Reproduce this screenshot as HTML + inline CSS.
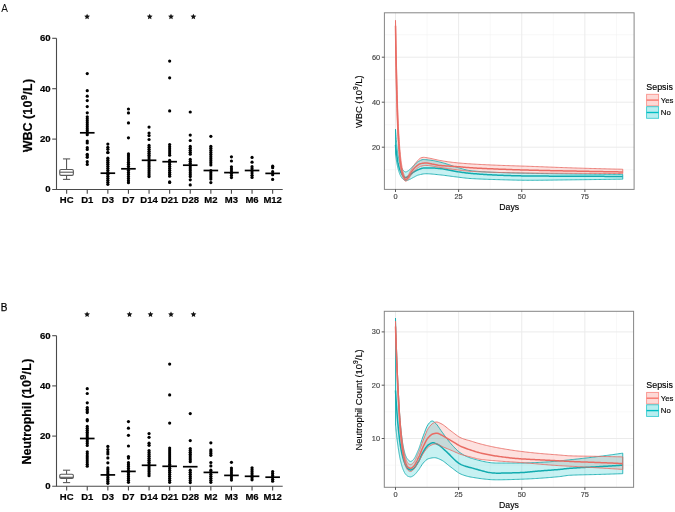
<!DOCTYPE html>
<html><head><meta charset="utf-8"><style>
html,body{margin:0;padding:0;background:#fff;}
body{width:675px;height:512px;overflow:hidden;}
svg{display:block;font-family:"Liberation Sans", sans-serif;will-change:transform;}
</style></head><body>
<svg width="675" height="512" viewBox="0 0 675 512">
<text x="1.2" y="11.7" font-size="10" fill="#111">A</text>
<text x="0.8" y="310.5" font-size="10" fill="#000" stroke="#000" stroke-width="0.25">B</text>
<line x1="56.5" y1="38.30" x2="56.5" y2="189.50" stroke="#4a4a4a" stroke-width="1.1"/>
<line x1="52.2" y1="189.50" x2="282.7" y2="189.50" stroke="#4a4a4a" stroke-width="1.1"/>
<line x1="52.2" y1="139.10" x2="56.5" y2="139.10" stroke="#4a4a4a" stroke-width="1.1"/>
<line x1="52.2" y1="88.70" x2="56.5" y2="88.70" stroke="#4a4a4a" stroke-width="1.1"/>
<line x1="52.2" y1="38.30" x2="56.5" y2="38.30" stroke="#4a4a4a" stroke-width="1.1"/>
<text x="50.6" y="192.40" text-anchor="end" font-size="9.6" font-weight="bold" fill="#000" stroke="#000" stroke-width="0.2">0</text>
<text x="50.6" y="142.00" text-anchor="end" font-size="9.6" font-weight="bold" fill="#000" stroke="#000" stroke-width="0.2">20</text>
<text x="50.6" y="91.60" text-anchor="end" font-size="9.6" font-weight="bold" fill="#000" stroke="#000" stroke-width="0.2">40</text>
<text x="50.6" y="41.20" text-anchor="end" font-size="9.6" font-weight="bold" fill="#000" stroke="#000" stroke-width="0.2">60</text>
<line x1="66.65" y1="189.50" x2="66.65" y2="193.80" stroke="#4a4a4a" stroke-width="1.1"/>
<text x="66.65" y="202.80" text-anchor="middle" font-size="9.5" font-weight="bold" fill="#000" stroke="#000" stroke-width="0.2">HC</text>
<line x1="87.25" y1="189.50" x2="87.25" y2="193.80" stroke="#4a4a4a" stroke-width="1.1"/>
<text x="87.25" y="202.80" text-anchor="middle" font-size="9.5" font-weight="bold" fill="#000" stroke="#000" stroke-width="0.2">D1</text>
<line x1="107.85" y1="189.50" x2="107.85" y2="193.80" stroke="#4a4a4a" stroke-width="1.1"/>
<text x="107.85" y="202.80" text-anchor="middle" font-size="9.5" font-weight="bold" fill="#000" stroke="#000" stroke-width="0.2">D3</text>
<line x1="128.45" y1="189.50" x2="128.45" y2="193.80" stroke="#4a4a4a" stroke-width="1.1"/>
<text x="128.45" y="202.80" text-anchor="middle" font-size="9.5" font-weight="bold" fill="#000" stroke="#000" stroke-width="0.2">D7</text>
<line x1="149.05" y1="189.50" x2="149.05" y2="193.80" stroke="#4a4a4a" stroke-width="1.1"/>
<text x="149.05" y="202.80" text-anchor="middle" font-size="9.5" font-weight="bold" fill="#000" stroke="#000" stroke-width="0.2">D14</text>
<line x1="169.65" y1="189.50" x2="169.65" y2="193.80" stroke="#4a4a4a" stroke-width="1.1"/>
<text x="169.65" y="202.80" text-anchor="middle" font-size="9.5" font-weight="bold" fill="#000" stroke="#000" stroke-width="0.2">D21</text>
<line x1="190.25" y1="189.50" x2="190.25" y2="193.80" stroke="#4a4a4a" stroke-width="1.1"/>
<text x="190.25" y="202.80" text-anchor="middle" font-size="9.5" font-weight="bold" fill="#000" stroke="#000" stroke-width="0.2">D28</text>
<line x1="210.85" y1="189.50" x2="210.85" y2="193.80" stroke="#4a4a4a" stroke-width="1.1"/>
<text x="210.85" y="202.80" text-anchor="middle" font-size="9.5" font-weight="bold" fill="#000" stroke="#000" stroke-width="0.2">M2</text>
<line x1="231.45" y1="189.50" x2="231.45" y2="193.80" stroke="#4a4a4a" stroke-width="1.1"/>
<text x="231.45" y="202.80" text-anchor="middle" font-size="9.5" font-weight="bold" fill="#000" stroke="#000" stroke-width="0.2">M3</text>
<line x1="252.05" y1="189.50" x2="252.05" y2="193.80" stroke="#4a4a4a" stroke-width="1.1"/>
<text x="252.05" y="202.80" text-anchor="middle" font-size="9.5" font-weight="bold" fill="#000" stroke="#000" stroke-width="0.2">M6</text>
<line x1="272.65" y1="189.50" x2="272.65" y2="193.80" stroke="#4a4a4a" stroke-width="1.1"/>
<text x="272.65" y="202.80" text-anchor="middle" font-size="9.5" font-weight="bold" fill="#000" stroke="#000" stroke-width="0.2">M12</text>
<text transform="translate(32.1,115.4) rotate(-90)" text-anchor="middle" font-size="12.5" font-weight="bold" fill="#000" stroke="#000" stroke-width="0.2">WBC (<tspan letter-spacing="0.4">10</tspan><tspan font-size="9" dy="-5.5">9</tspan><tspan dy="5.5" dx="0.3" letter-spacing="0.3">/L)</tspan></text>
<line x1="66.55000000000001" y1="158.9" x2="66.55000000000001" y2="169.5" stroke="#5a5a5a" stroke-width="1.1"/>
<line x1="66.55000000000001" y1="175.4" x2="66.55000000000001" y2="179.4" stroke="#5a5a5a" stroke-width="1.1"/>
<line x1="62.95000000000001" y1="158.9" x2="70.15" y2="158.9" stroke="#5a5a5a" stroke-width="1.1"/>
<line x1="62.95000000000001" y1="179.4" x2="70.15" y2="179.4" stroke="#5a5a5a" stroke-width="1.1"/>
<rect x="59.750000000000014" y="169.5" width="13.6" height="5.900000000000006" rx="1.3" fill="#fff" stroke="#5a5a5a" stroke-width="1.1"/>
<line x1="59.750000000000014" y1="172.2" x2="73.35000000000001" y2="172.2" stroke="#5a5a5a" stroke-width="1.1"/>
<circle cx="87.25" cy="73.60" r="1.6"/>
<circle cx="87.25" cy="90.70" r="1.6"/>
<circle cx="87.25" cy="96.20" r="1.6"/>
<circle cx="87.25" cy="100.60" r="1.6"/>
<circle cx="87.25" cy="106.60" r="1.6"/>
<circle cx="87.25" cy="112.80" r="1.6"/>
<circle cx="87.25" cy="116.80" r="1.6"/>
<circle cx="87.25" cy="118.79" r="1.6"/>
<circle cx="87.25" cy="120.78" r="1.6"/>
<circle cx="87.25" cy="122.77" r="1.6"/>
<circle cx="87.25" cy="124.76" r="1.6"/>
<circle cx="87.25" cy="126.74" r="1.6"/>
<circle cx="87.25" cy="128.73" r="1.6"/>
<circle cx="87.25" cy="130.72" r="1.6"/>
<circle cx="87.25" cy="132.71" r="1.6"/>
<circle cx="87.25" cy="134.70" r="1.6"/>
<circle cx="87.25" cy="141.00" r="1.6"/>
<circle cx="87.25" cy="142.90" r="1.6"/>
<circle cx="87.25" cy="147.70" r="1.6"/>
<circle cx="87.25" cy="149.50" r="1.6"/>
<circle cx="87.25" cy="154.30" r="1.6"/>
<circle cx="87.25" cy="155.82" r="1.6"/>
<circle cx="87.25" cy="157.35" r="1.6"/>
<circle cx="87.25" cy="161.70" r="1.6"/>
<circle cx="87.25" cy="164.40" r="1.6"/>
<rect x="79.95" y="131.95" width="14.6" height="1.7" fill="#000"/>
<circle cx="107.85" cy="144.10" r="1.6"/>
<circle cx="107.85" cy="147.30" r="1.6"/>
<circle cx="107.85" cy="149.30" r="1.6"/>
<circle cx="107.85" cy="152.60" r="1.6"/>
<circle cx="107.85" cy="152.50" r="1.6"/>
<circle cx="107.85" cy="158.20" r="1.6"/>
<circle cx="107.85" cy="160.21" r="1.6"/>
<circle cx="107.85" cy="162.22" r="1.6"/>
<circle cx="107.85" cy="164.22" r="1.6"/>
<circle cx="107.85" cy="166.23" r="1.6"/>
<circle cx="107.85" cy="168.24" r="1.6"/>
<circle cx="107.85" cy="170.25" r="1.6"/>
<circle cx="107.85" cy="172.25" r="1.6"/>
<circle cx="107.85" cy="174.26" r="1.6"/>
<circle cx="107.85" cy="176.27" r="1.6"/>
<circle cx="107.85" cy="178.28" r="1.6"/>
<circle cx="107.85" cy="180.28" r="1.6"/>
<circle cx="107.85" cy="182.29" r="1.6"/>
<circle cx="107.85" cy="184.30" r="1.6"/>
<rect x="100.55" y="172.35" width="14.6" height="1.7" fill="#000"/>
<circle cx="128.45" cy="109.00" r="1.6"/>
<circle cx="128.45" cy="112.90" r="1.6"/>
<circle cx="128.45" cy="122.90" r="1.6"/>
<circle cx="128.45" cy="137.80" r="1.6"/>
<circle cx="128.45" cy="153.90" r="1.6"/>
<circle cx="128.45" cy="155.96" r="1.6"/>
<circle cx="128.45" cy="158.01" r="1.6"/>
<circle cx="128.45" cy="160.07" r="1.6"/>
<circle cx="128.45" cy="162.13" r="1.6"/>
<circle cx="128.45" cy="164.19" r="1.6"/>
<circle cx="128.45" cy="166.24" r="1.6"/>
<circle cx="128.45" cy="168.30" r="1.6"/>
<circle cx="128.45" cy="170.36" r="1.6"/>
<circle cx="128.45" cy="172.41" r="1.6"/>
<circle cx="128.45" cy="174.47" r="1.6"/>
<circle cx="128.45" cy="176.53" r="1.6"/>
<circle cx="128.45" cy="178.59" r="1.6"/>
<circle cx="128.45" cy="180.64" r="1.6"/>
<circle cx="128.45" cy="182.70" r="1.6"/>
<rect x="121.15" y="167.95" width="14.6" height="1.7" fill="#000"/>
<circle cx="149.05" cy="127.10" r="1.6"/>
<circle cx="149.05" cy="133.00" r="1.6"/>
<circle cx="149.05" cy="135.60" r="1.6"/>
<circle cx="149.05" cy="139.50" r="1.6"/>
<circle cx="149.05" cy="145.40" r="1.6"/>
<circle cx="149.05" cy="147.35" r="1.6"/>
<circle cx="149.05" cy="149.30" r="1.6"/>
<circle cx="149.05" cy="151.25" r="1.6"/>
<circle cx="149.05" cy="153.20" r="1.6"/>
<circle cx="149.05" cy="155.15" r="1.6"/>
<circle cx="149.05" cy="157.10" r="1.6"/>
<circle cx="149.05" cy="159.05" r="1.6"/>
<circle cx="149.05" cy="161.00" r="1.6"/>
<circle cx="149.05" cy="162.95" r="1.6"/>
<circle cx="149.05" cy="164.90" r="1.6"/>
<circle cx="149.05" cy="166.85" r="1.6"/>
<circle cx="149.05" cy="168.80" r="1.6"/>
<circle cx="149.05" cy="170.75" r="1.6"/>
<circle cx="149.05" cy="172.70" r="1.6"/>
<circle cx="149.05" cy="174.65" r="1.6"/>
<circle cx="149.05" cy="176.60" r="1.6"/>
<rect x="141.75" y="159.45" width="14.6" height="1.7" fill="#000"/>
<circle cx="169.65" cy="61.10" r="1.6"/>
<circle cx="169.65" cy="77.80" r="1.6"/>
<circle cx="169.65" cy="110.90" r="1.6"/>
<circle cx="169.65" cy="144.50" r="1.6"/>
<circle cx="169.65" cy="146.64" r="1.6"/>
<circle cx="169.65" cy="148.78" r="1.6"/>
<circle cx="169.65" cy="150.92" r="1.6"/>
<circle cx="169.65" cy="153.06" r="1.6"/>
<circle cx="169.65" cy="155.20" r="1.6"/>
<circle cx="169.65" cy="160.40" r="1.6"/>
<circle cx="169.65" cy="162.38" r="1.6"/>
<circle cx="169.65" cy="164.35" r="1.6"/>
<circle cx="169.65" cy="166.32" r="1.6"/>
<circle cx="169.65" cy="168.30" r="1.6"/>
<circle cx="169.65" cy="170.28" r="1.6"/>
<circle cx="169.65" cy="172.25" r="1.6"/>
<circle cx="169.65" cy="174.22" r="1.6"/>
<circle cx="169.65" cy="176.20" r="1.6"/>
<circle cx="169.65" cy="181.90" r="1.6"/>
<circle cx="169.65" cy="182.50" r="1.6"/>
<rect x="162.35" y="160.85" width="14.6" height="1.7" fill="#000"/>
<circle cx="190.25" cy="112.00" r="1.6"/>
<circle cx="190.25" cy="135.10" r="1.6"/>
<circle cx="190.25" cy="140.50" r="1.6"/>
<circle cx="190.25" cy="179.80" r="1.6"/>
<circle cx="190.25" cy="184.90" r="1.6"/>
<circle cx="190.25" cy="146.40" r="1.6"/>
<circle cx="190.25" cy="148.35" r="1.6"/>
<circle cx="190.25" cy="150.30" r="1.6"/>
<circle cx="190.25" cy="152.25" r="1.6"/>
<circle cx="190.25" cy="154.20" r="1.6"/>
<circle cx="190.25" cy="159.40" r="1.6"/>
<circle cx="190.25" cy="161.31" r="1.6"/>
<circle cx="190.25" cy="163.22" r="1.6"/>
<circle cx="190.25" cy="165.13" r="1.6"/>
<circle cx="190.25" cy="167.04" r="1.6"/>
<circle cx="190.25" cy="168.96" r="1.6"/>
<circle cx="190.25" cy="170.87" r="1.6"/>
<circle cx="190.25" cy="172.78" r="1.6"/>
<circle cx="190.25" cy="174.69" r="1.6"/>
<circle cx="190.25" cy="176.60" r="1.6"/>
<rect x="182.95" y="164.35" width="14.6" height="1.7" fill="#000"/>
<circle cx="210.85" cy="136.30" r="1.6"/>
<circle cx="210.85" cy="182.60" r="1.6"/>
<circle cx="210.85" cy="146.40" r="1.6"/>
<circle cx="210.85" cy="148.46" r="1.6"/>
<circle cx="210.85" cy="150.51" r="1.6"/>
<circle cx="210.85" cy="152.57" r="1.6"/>
<circle cx="210.85" cy="154.62" r="1.6"/>
<circle cx="210.85" cy="156.68" r="1.6"/>
<circle cx="210.85" cy="158.73" r="1.6"/>
<circle cx="210.85" cy="160.79" r="1.6"/>
<circle cx="210.85" cy="162.84" r="1.6"/>
<circle cx="210.85" cy="164.90" r="1.6"/>
<circle cx="210.85" cy="170.70" r="1.6"/>
<circle cx="210.85" cy="172.80" r="1.6"/>
<circle cx="210.85" cy="174.90" r="1.6"/>
<circle cx="210.85" cy="177.00" r="1.6"/>
<circle cx="210.85" cy="179.10" r="1.6"/>
<rect x="203.55" y="169.65" width="14.6" height="1.7" fill="#000"/>
<circle cx="231.45" cy="156.80" r="1.6"/>
<circle cx="231.45" cy="161.00" r="1.6"/>
<circle cx="231.45" cy="166.80" r="1.6"/>
<circle cx="231.45" cy="168.96" r="1.6"/>
<circle cx="231.45" cy="171.12" r="1.6"/>
<circle cx="231.45" cy="173.28" r="1.6"/>
<circle cx="231.45" cy="175.44" r="1.6"/>
<circle cx="231.45" cy="177.60" r="1.6"/>
<rect x="224.15" y="171.75" width="14.6" height="1.7" fill="#000"/>
<circle cx="252.05" cy="157.40" r="1.6"/>
<circle cx="252.05" cy="162.20" r="1.6"/>
<circle cx="252.05" cy="166.70" r="1.6"/>
<circle cx="252.05" cy="168.84" r="1.6"/>
<circle cx="252.05" cy="170.98" r="1.6"/>
<circle cx="252.05" cy="173.12" r="1.6"/>
<circle cx="252.05" cy="175.26" r="1.6"/>
<circle cx="252.05" cy="177.40" r="1.6"/>
<rect x="244.75" y="169.65" width="14.6" height="1.7" fill="#000"/>
<circle cx="272.65" cy="166.20" r="1.6"/>
<circle cx="272.65" cy="167.70" r="1.6"/>
<circle cx="272.65" cy="179.40" r="1.6"/>
<circle cx="272.65" cy="171.70" r="1.6"/>
<circle cx="272.65" cy="174.70" r="1.6"/>
<rect x="265.35" y="172.55" width="14.6" height="1.7" fill="#000"/>
<polygon points="87.10,13.70 87.95,15.53 89.95,15.77 88.48,17.15 88.86,19.13 87.10,18.15 85.34,19.13 85.72,17.15 84.25,15.77 86.25,15.53" fill="#151515"/>
<polygon points="149.70,13.70 150.55,15.53 152.55,15.77 151.08,17.15 151.46,19.13 149.70,18.15 147.94,19.13 148.32,17.15 146.85,15.77 148.85,15.53" fill="#151515"/>
<polygon points="171.00,13.70 171.85,15.53 173.85,15.77 172.38,17.15 172.76,19.13 171.00,18.15 169.24,19.13 169.62,17.15 168.15,15.77 170.15,15.53" fill="#151515"/>
<polygon points="193.40,13.70 194.25,15.53 196.25,15.77 194.78,17.15 195.16,19.13 193.40,18.15 191.64,19.13 192.02,17.15 190.55,15.77 192.55,15.53" fill="#151515"/>
<line x1="56.5" y1="335.70" x2="56.5" y2="486.30" stroke="#4a4a4a" stroke-width="1.1"/>
<line x1="52.2" y1="486.30" x2="282.7" y2="486.30" stroke="#4a4a4a" stroke-width="1.1"/>
<line x1="52.2" y1="436.10" x2="56.5" y2="436.10" stroke="#4a4a4a" stroke-width="1.1"/>
<line x1="52.2" y1="385.90" x2="56.5" y2="385.90" stroke="#4a4a4a" stroke-width="1.1"/>
<line x1="52.2" y1="335.70" x2="56.5" y2="335.70" stroke="#4a4a4a" stroke-width="1.1"/>
<text x="50.6" y="489.20" text-anchor="end" font-size="9.6" font-weight="bold" fill="#000" stroke="#000" stroke-width="0.2">0</text>
<text x="50.6" y="439.00" text-anchor="end" font-size="9.6" font-weight="bold" fill="#000" stroke="#000" stroke-width="0.2">20</text>
<text x="50.6" y="388.80" text-anchor="end" font-size="9.6" font-weight="bold" fill="#000" stroke="#000" stroke-width="0.2">40</text>
<text x="50.6" y="338.60" text-anchor="end" font-size="9.6" font-weight="bold" fill="#000" stroke="#000" stroke-width="0.2">60</text>
<line x1="66.65" y1="486.30" x2="66.65" y2="490.60" stroke="#4a4a4a" stroke-width="1.1"/>
<text x="66.65" y="499.60" text-anchor="middle" font-size="9.5" font-weight="bold" fill="#000" stroke="#000" stroke-width="0.2">HC</text>
<line x1="87.25" y1="486.30" x2="87.25" y2="490.60" stroke="#4a4a4a" stroke-width="1.1"/>
<text x="87.25" y="499.60" text-anchor="middle" font-size="9.5" font-weight="bold" fill="#000" stroke="#000" stroke-width="0.2">D1</text>
<line x1="107.85" y1="486.30" x2="107.85" y2="490.60" stroke="#4a4a4a" stroke-width="1.1"/>
<text x="107.85" y="499.60" text-anchor="middle" font-size="9.5" font-weight="bold" fill="#000" stroke="#000" stroke-width="0.2">D3</text>
<line x1="128.45" y1="486.30" x2="128.45" y2="490.60" stroke="#4a4a4a" stroke-width="1.1"/>
<text x="128.45" y="499.60" text-anchor="middle" font-size="9.5" font-weight="bold" fill="#000" stroke="#000" stroke-width="0.2">D7</text>
<line x1="149.05" y1="486.30" x2="149.05" y2="490.60" stroke="#4a4a4a" stroke-width="1.1"/>
<text x="149.05" y="499.60" text-anchor="middle" font-size="9.5" font-weight="bold" fill="#000" stroke="#000" stroke-width="0.2">D14</text>
<line x1="169.65" y1="486.30" x2="169.65" y2="490.60" stroke="#4a4a4a" stroke-width="1.1"/>
<text x="169.65" y="499.60" text-anchor="middle" font-size="9.5" font-weight="bold" fill="#000" stroke="#000" stroke-width="0.2">D21</text>
<line x1="190.25" y1="486.30" x2="190.25" y2="490.60" stroke="#4a4a4a" stroke-width="1.1"/>
<text x="190.25" y="499.60" text-anchor="middle" font-size="9.5" font-weight="bold" fill="#000" stroke="#000" stroke-width="0.2">D28</text>
<line x1="210.85" y1="486.30" x2="210.85" y2="490.60" stroke="#4a4a4a" stroke-width="1.1"/>
<text x="210.85" y="499.60" text-anchor="middle" font-size="9.5" font-weight="bold" fill="#000" stroke="#000" stroke-width="0.2">M2</text>
<line x1="231.45" y1="486.30" x2="231.45" y2="490.60" stroke="#4a4a4a" stroke-width="1.1"/>
<text x="231.45" y="499.60" text-anchor="middle" font-size="9.5" font-weight="bold" fill="#000" stroke="#000" stroke-width="0.2">M3</text>
<line x1="252.05" y1="486.30" x2="252.05" y2="490.60" stroke="#4a4a4a" stroke-width="1.1"/>
<text x="252.05" y="499.60" text-anchor="middle" font-size="9.5" font-weight="bold" fill="#000" stroke="#000" stroke-width="0.2">M6</text>
<line x1="272.65" y1="486.30" x2="272.65" y2="490.60" stroke="#4a4a4a" stroke-width="1.1"/>
<text x="272.65" y="499.60" text-anchor="middle" font-size="9.5" font-weight="bold" fill="#000" stroke="#000" stroke-width="0.2">M12</text>
<text transform="translate(31.3,411.4) rotate(-90)" text-anchor="middle" font-size="12.5" font-weight="bold" fill="#000" stroke="#000" stroke-width="0.2">Neutrophil (<tspan letter-spacing="0.4">10</tspan><tspan font-size="9" dy="-5.5">9</tspan><tspan dy="5.5" dx="0.3" letter-spacing="0.3">/L)</tspan></text>
<line x1="66.55000000000001" y1="470.2" x2="66.55000000000001" y2="474.3" stroke="#5a5a5a" stroke-width="1.1"/>
<line x1="66.55000000000001" y1="478.4" x2="66.55000000000001" y2="482.6" stroke="#5a5a5a" stroke-width="1.1"/>
<line x1="62.95000000000001" y1="470.2" x2="70.15" y2="470.2" stroke="#5a5a5a" stroke-width="1.1"/>
<line x1="62.95000000000001" y1="482.6" x2="70.15" y2="482.6" stroke="#5a5a5a" stroke-width="1.1"/>
<rect x="59.750000000000014" y="474.3" width="13.6" height="4.099999999999966" rx="1.3" fill="#fff" stroke="#5a5a5a" stroke-width="1.1"/>
<line x1="59.750000000000014" y1="477.3" x2="73.35000000000001" y2="477.3" stroke="#5a5a5a" stroke-width="1.1"/>
<circle cx="87.25" cy="388.70" r="1.6"/>
<circle cx="87.25" cy="393.50" r="1.6"/>
<circle cx="87.25" cy="402.80" r="1.6"/>
<circle cx="87.25" cy="407.60" r="1.6"/>
<circle cx="87.25" cy="409.27" r="1.6"/>
<circle cx="87.25" cy="410.93" r="1.6"/>
<circle cx="87.25" cy="412.60" r="1.6"/>
<circle cx="87.25" cy="419.70" r="1.6"/>
<circle cx="87.25" cy="420.80" r="1.6"/>
<circle cx="87.25" cy="426.40" r="1.6"/>
<circle cx="87.25" cy="428.31" r="1.6"/>
<circle cx="87.25" cy="430.22" r="1.6"/>
<circle cx="87.25" cy="432.13" r="1.6"/>
<circle cx="87.25" cy="434.04" r="1.6"/>
<circle cx="87.25" cy="435.95" r="1.6"/>
<circle cx="87.25" cy="437.86" r="1.6"/>
<circle cx="87.25" cy="439.77" r="1.6"/>
<circle cx="87.25" cy="441.68" r="1.6"/>
<circle cx="87.25" cy="443.59" r="1.6"/>
<circle cx="87.25" cy="445.50" r="1.6"/>
<circle cx="87.25" cy="451.80" r="1.6"/>
<circle cx="87.25" cy="453.86" r="1.6"/>
<circle cx="87.25" cy="455.91" r="1.6"/>
<circle cx="87.25" cy="457.97" r="1.6"/>
<circle cx="87.25" cy="460.03" r="1.6"/>
<circle cx="87.25" cy="462.09" r="1.6"/>
<circle cx="87.25" cy="464.14" r="1.6"/>
<circle cx="87.25" cy="466.20" r="1.6"/>
<rect x="79.95" y="437.65" width="14.6" height="1.7" fill="#000"/>
<circle cx="107.85" cy="446.40" r="1.6"/>
<circle cx="107.85" cy="449.60" r="1.6"/>
<circle cx="107.85" cy="452.10" r="1.6"/>
<circle cx="107.85" cy="454.00" r="1.6"/>
<circle cx="107.85" cy="457.90" r="1.6"/>
<circle cx="107.85" cy="462.80" r="1.6"/>
<circle cx="107.85" cy="467.90" r="1.6"/>
<circle cx="107.85" cy="469.82" r="1.6"/>
<circle cx="107.85" cy="471.75" r="1.6"/>
<circle cx="107.85" cy="473.68" r="1.6"/>
<circle cx="107.85" cy="475.60" r="1.6"/>
<circle cx="107.85" cy="477.52" r="1.6"/>
<circle cx="107.85" cy="479.45" r="1.6"/>
<circle cx="107.85" cy="481.38" r="1.6"/>
<circle cx="107.85" cy="483.30" r="1.6"/>
<rect x="100.55" y="474.05" width="14.6" height="1.7" fill="#000"/>
<circle cx="128.45" cy="421.60" r="1.6"/>
<circle cx="128.45" cy="428.20" r="1.6"/>
<circle cx="128.45" cy="435.30" r="1.6"/>
<circle cx="128.45" cy="446.00" r="1.6"/>
<circle cx="128.45" cy="456.50" r="1.6"/>
<circle cx="128.45" cy="458.10" r="1.6"/>
<circle cx="128.45" cy="462.70" r="1.6"/>
<circle cx="128.45" cy="464.66" r="1.6"/>
<circle cx="128.45" cy="466.62" r="1.6"/>
<circle cx="128.45" cy="468.58" r="1.6"/>
<circle cx="128.45" cy="470.54" r="1.6"/>
<circle cx="128.45" cy="472.50" r="1.6"/>
<circle cx="128.45" cy="474.46" r="1.6"/>
<circle cx="128.45" cy="476.42" r="1.6"/>
<circle cx="128.45" cy="478.38" r="1.6"/>
<circle cx="128.45" cy="480.34" r="1.6"/>
<circle cx="128.45" cy="482.30" r="1.6"/>
<rect x="121.15" y="470.55" width="14.6" height="1.7" fill="#000"/>
<circle cx="149.05" cy="433.60" r="1.6"/>
<circle cx="149.05" cy="437.30" r="1.6"/>
<circle cx="149.05" cy="443.20" r="1.6"/>
<circle cx="149.05" cy="445.30" r="1.6"/>
<circle cx="149.05" cy="450.50" r="1.6"/>
<circle cx="149.05" cy="452.44" r="1.6"/>
<circle cx="149.05" cy="454.38" r="1.6"/>
<circle cx="149.05" cy="456.32" r="1.6"/>
<circle cx="149.05" cy="458.25" r="1.6"/>
<circle cx="149.05" cy="460.19" r="1.6"/>
<circle cx="149.05" cy="462.13" r="1.6"/>
<circle cx="149.05" cy="464.07" r="1.6"/>
<circle cx="149.05" cy="466.01" r="1.6"/>
<circle cx="149.05" cy="467.95" r="1.6"/>
<circle cx="149.05" cy="469.88" r="1.6"/>
<circle cx="149.05" cy="471.82" r="1.6"/>
<circle cx="149.05" cy="473.76" r="1.6"/>
<circle cx="149.05" cy="475.70" r="1.6"/>
<rect x="141.75" y="464.45" width="14.6" height="1.7" fill="#000"/>
<circle cx="169.65" cy="364.10" r="1.6"/>
<circle cx="169.65" cy="394.90" r="1.6"/>
<circle cx="169.65" cy="423.10" r="1.6"/>
<circle cx="169.65" cy="448.00" r="1.6"/>
<circle cx="169.65" cy="450.02" r="1.6"/>
<circle cx="169.65" cy="452.04" r="1.6"/>
<circle cx="169.65" cy="454.05" r="1.6"/>
<circle cx="169.65" cy="456.07" r="1.6"/>
<circle cx="169.65" cy="458.09" r="1.6"/>
<circle cx="169.65" cy="460.11" r="1.6"/>
<circle cx="169.65" cy="462.12" r="1.6"/>
<circle cx="169.65" cy="464.14" r="1.6"/>
<circle cx="169.65" cy="466.16" r="1.6"/>
<circle cx="169.65" cy="468.18" r="1.6"/>
<circle cx="169.65" cy="470.19" r="1.6"/>
<circle cx="169.65" cy="472.21" r="1.6"/>
<circle cx="169.65" cy="474.23" r="1.6"/>
<circle cx="169.65" cy="476.25" r="1.6"/>
<circle cx="169.65" cy="478.26" r="1.6"/>
<circle cx="169.65" cy="480.28" r="1.6"/>
<circle cx="169.65" cy="482.30" r="1.6"/>
<rect x="162.35" y="465.45" width="14.6" height="1.7" fill="#000"/>
<circle cx="190.25" cy="413.60" r="1.6"/>
<circle cx="190.25" cy="440.60" r="1.6"/>
<circle cx="190.25" cy="448.60" r="1.6"/>
<circle cx="190.25" cy="450.47" r="1.6"/>
<circle cx="190.25" cy="452.34" r="1.6"/>
<circle cx="190.25" cy="454.21" r="1.6"/>
<circle cx="190.25" cy="456.09" r="1.6"/>
<circle cx="190.25" cy="457.96" r="1.6"/>
<circle cx="190.25" cy="459.83" r="1.6"/>
<circle cx="190.25" cy="461.70" r="1.6"/>
<circle cx="190.25" cy="470.20" r="1.6"/>
<circle cx="190.25" cy="472.27" r="1.6"/>
<circle cx="190.25" cy="474.33" r="1.6"/>
<circle cx="190.25" cy="476.40" r="1.6"/>
<circle cx="190.25" cy="478.47" r="1.6"/>
<circle cx="190.25" cy="480.53" r="1.6"/>
<circle cx="190.25" cy="482.60" r="1.6"/>
<rect x="182.95" y="465.85" width="14.6" height="1.7" fill="#000"/>
<circle cx="210.85" cy="442.80" r="1.6"/>
<circle cx="210.85" cy="462.50" r="1.6"/>
<circle cx="210.85" cy="465.90" r="1.6"/>
<circle cx="210.85" cy="449.90" r="1.6"/>
<circle cx="210.85" cy="451.70" r="1.6"/>
<circle cx="210.85" cy="453.50" r="1.6"/>
<circle cx="210.85" cy="455.30" r="1.6"/>
<circle cx="210.85" cy="470.20" r="1.6"/>
<circle cx="210.85" cy="472.22" r="1.6"/>
<circle cx="210.85" cy="474.23" r="1.6"/>
<circle cx="210.85" cy="476.25" r="1.6"/>
<circle cx="210.85" cy="478.27" r="1.6"/>
<circle cx="210.85" cy="480.28" r="1.6"/>
<circle cx="210.85" cy="482.30" r="1.6"/>
<rect x="203.55" y="471.55" width="14.6" height="1.7" fill="#000"/>
<circle cx="231.45" cy="462.30" r="1.6"/>
<circle cx="231.45" cy="468.00" r="1.6"/>
<circle cx="231.45" cy="470.02" r="1.6"/>
<circle cx="231.45" cy="472.03" r="1.6"/>
<circle cx="231.45" cy="474.05" r="1.6"/>
<circle cx="231.45" cy="476.07" r="1.6"/>
<circle cx="231.45" cy="478.08" r="1.6"/>
<circle cx="231.45" cy="480.10" r="1.6"/>
<rect x="224.15" y="474.55" width="14.6" height="1.7" fill="#000"/>
<circle cx="252.05" cy="467.80" r="1.6"/>
<circle cx="252.05" cy="469.80" r="1.6"/>
<circle cx="252.05" cy="471.80" r="1.6"/>
<circle cx="252.05" cy="473.80" r="1.6"/>
<circle cx="252.05" cy="475.80" r="1.6"/>
<circle cx="252.05" cy="477.80" r="1.6"/>
<circle cx="252.05" cy="479.80" r="1.6"/>
<rect x="244.75" y="475.45" width="14.6" height="1.7" fill="#000"/>
<circle cx="272.65" cy="471.50" r="1.6"/>
<circle cx="272.65" cy="473.44" r="1.6"/>
<circle cx="272.65" cy="475.38" r="1.6"/>
<circle cx="272.65" cy="477.32" r="1.6"/>
<circle cx="272.65" cy="479.26" r="1.6"/>
<circle cx="272.65" cy="481.20" r="1.6"/>
<rect x="265.35" y="476.35" width="14.6" height="1.7" fill="#000"/>
<polygon points="87.10,311.50 87.95,313.33 89.95,313.57 88.48,314.95 88.86,316.93 87.10,315.95 85.34,316.93 85.72,314.95 84.25,313.57 86.25,313.33" fill="#151515"/>
<polygon points="129.50,311.50 130.35,313.33 132.35,313.57 130.88,314.95 131.26,316.93 129.50,315.95 127.74,316.93 128.12,314.95 126.65,313.57 128.65,313.33" fill="#151515"/>
<polygon points="150.50,311.50 151.35,313.33 153.35,313.57 151.88,314.95 152.26,316.93 150.50,315.95 148.74,316.93 149.12,314.95 147.65,313.57 149.65,313.33" fill="#151515"/>
<polygon points="171.00,311.50 171.85,313.33 173.85,313.57 172.38,314.95 172.76,316.93 171.00,315.95 169.24,316.93 169.62,314.95 168.15,313.57 170.15,313.33" fill="#151515"/>
<polygon points="193.50,311.50 194.35,313.33 196.35,313.57 194.88,314.95 195.26,316.93 193.50,315.95 191.74,316.93 192.12,314.95 190.65,313.57 192.65,313.33" fill="#151515"/>
<rect x="384.4" y="12.8" width="249.70000000000005" height="176.6" fill="#fff"/>
<line x1="427.06" y1="12.8" x2="427.06" y2="189.4" stroke="#f4f4f4" stroke-width="0.6"/>
<line x1="490.19" y1="12.8" x2="490.19" y2="189.4" stroke="#f4f4f4" stroke-width="0.6"/>
<line x1="553.31" y1="12.8" x2="553.31" y2="189.4" stroke="#f4f4f4" stroke-width="0.6"/>
<line x1="616.44" y1="12.8" x2="616.44" y2="189.4" stroke="#f4f4f4" stroke-width="0.6"/>
<line x1="384.4" y1="169.70" x2="634.1" y2="169.70" stroke="#f4f4f4" stroke-width="0.6"/>
<line x1="384.4" y1="124.70" x2="634.1" y2="124.70" stroke="#f4f4f4" stroke-width="0.6"/>
<line x1="384.4" y1="79.70" x2="634.1" y2="79.70" stroke="#f4f4f4" stroke-width="0.6"/>
<line x1="384.4" y1="34.70" x2="634.1" y2="34.70" stroke="#f4f4f4" stroke-width="0.6"/>
<line x1="395.50" y1="12.8" x2="395.50" y2="189.4" stroke="#ebebeb" stroke-width="1"/>
<line x1="458.62" y1="12.8" x2="458.62" y2="189.4" stroke="#ebebeb" stroke-width="1"/>
<line x1="521.75" y1="12.8" x2="521.75" y2="189.4" stroke="#ebebeb" stroke-width="1"/>
<line x1="584.88" y1="12.8" x2="584.88" y2="189.4" stroke="#ebebeb" stroke-width="1"/>
<line x1="384.4" y1="147.20" x2="634.1" y2="147.20" stroke="#ebebeb" stroke-width="1"/>
<line x1="384.4" y1="102.20" x2="634.1" y2="102.20" stroke="#ebebeb" stroke-width="1"/>
<line x1="384.4" y1="57.20" x2="634.1" y2="57.20" stroke="#ebebeb" stroke-width="1"/>
<path d="M395.50,20.30 L395.63,26.34 L395.75,32.28 L395.88,38.09 L396.00,43.79 L396.13,49.36 L396.26,54.81 L396.38,60.12 L396.51,65.29 L396.64,70.32 L396.76,75.20 L396.89,80.02 L397.01,84.83 L397.14,89.58 L397.27,94.25 L397.39,98.78 L397.52,103.13 L397.65,107.27 L397.77,111.15 L397.90,114.72 L398.02,117.95 L398.15,120.91 L398.28,123.71 L398.40,126.37 L398.53,128.88 L398.66,131.27 L398.78,133.53 L398.91,135.68 L399.04,137.74 L399.16,139.70 L399.29,141.57 L399.41,143.39 L399.54,145.16 L399.67,146.87 L399.79,148.52 L399.92,150.10 L400.05,151.59 L400.17,153.01 L400.30,154.32 L400.42,155.54 L400.55,156.65 L400.68,157.69 L400.80,158.71 L400.93,159.70 L401.06,160.67 L401.18,161.61 L401.31,162.52 L401.43,163.40 L401.56,164.26 L401.69,165.08 L401.81,165.87 L401.94,166.64 L402.06,167.37 L402.19,168.06 L402.32,168.73 L402.44,169.36 L402.57,169.95 L402.70,170.51 L402.82,171.03 L402.95,171.51 L403.07,171.95 L403.20,172.37 L403.33,172.80 L403.45,173.22 L403.58,173.64 L403.71,174.05 L403.83,174.46 L403.96,174.85 L404.08,175.23 L404.21,175.59 L404.34,175.93 L404.46,176.25 L404.59,176.55 L404.72,176.83 L404.84,177.07 L404.97,177.28 L405.10,177.46 L405.22,177.61 L405.35,177.71 L405.47,177.78 L405.60,177.80 L405.73,177.79 L405.85,177.76 L405.98,177.71 L406.11,177.64 L406.23,177.56 L406.36,177.47 L406.48,177.36 L406.61,177.24 L406.74,177.10 L406.86,176.96 L406.99,176.81 L407.12,176.66 L407.24,176.49 L407.37,176.33 L407.49,176.16 L407.62,175.99 L407.75,175.82 L407.87,175.65 L408.00,175.49 L408.12,175.32 L408.25,175.16 L408.38,174.98 L408.50,174.79 L408.63,174.58 L408.76,174.37 L408.88,174.15 L409.01,173.92 L409.13,173.69 L409.26,173.45 L409.39,173.20 L409.51,172.96 L409.64,172.71 L409.77,172.46 L409.89,172.22 L410.02,171.97 L410.14,171.73 L410.27,171.50 L410.40,171.26 L410.52,171.04 L410.65,170.82 L410.78,170.61 L410.90,170.40 L411.03,170.19 L411.15,169.97 L411.28,169.76 L411.41,169.55 L411.53,169.33 L411.66,169.12 L411.79,168.90 L411.91,168.69 L412.04,168.48 L412.17,168.26 L412.29,168.05 L412.42,167.84 L412.54,167.63 L412.67,167.42 L412.80,167.21 L412.92,167.00 L413.05,166.79 L413.18,166.59 L413.30,166.39 L413.43,166.18 L413.55,165.98 L413.68,165.78 L413.81,165.59 L413.93,165.39 L414.06,165.20 L414.19,165.01 L414.31,164.82 L414.44,164.64 L414.56,164.46 L414.69,164.28 L414.82,164.10 L414.94,163.93 L415.07,163.75 L415.19,163.59 L415.32,163.42 L415.45,163.26 L415.57,163.10 L415.70,162.95 L415.83,162.80 L415.95,162.64 L416.08,162.49 L416.20,162.34 L416.33,162.18 L416.46,162.03 L416.58,161.87 L416.71,161.72 L416.84,161.57 L416.96,161.42 L417.09,161.26 L417.21,161.11 L417.34,160.96 L417.47,160.82 L417.59,160.67 L417.72,160.52 L417.85,160.38 L417.97,160.24 L418.10,160.10 L418.23,159.96 L418.35,159.83 L418.48,159.70 L418.60,159.57 L418.73,159.45 L418.86,159.32 L418.98,159.21 L419.11,159.09 L419.24,158.98 L419.36,158.87 L419.49,158.77 L419.61,158.67 L419.74,158.58 L419.87,158.49 L419.99,158.40 L420.12,158.32 L420.25,158.25 L420.37,158.18 L420.50,158.11 L420.62,158.05 L420.75,158.00 L422.01,157.54 L423.27,157.32 L424.54,157.39 L425.80,157.56 L427.06,157.78 L428.32,158.00 L429.59,158.22 L430.85,158.47 L432.11,158.75 L433.38,159.04 L434.64,159.34 L435.90,159.64 L437.16,159.92 L438.43,160.19 L439.69,160.43 L440.95,160.65 L442.21,160.85 L443.48,161.06 L444.74,161.25 L446.00,161.45 L447.26,161.63 L448.52,161.81 L449.79,161.98 L451.05,162.15 L452.31,162.30 L453.57,162.45 L454.84,162.59 L456.10,162.72 L457.36,162.85 L458.62,162.97 L459.89,163.09 L461.15,163.20 L462.41,163.30 L463.68,163.40 L464.94,163.50 L466.20,163.59 L467.46,163.68 L468.73,163.77 L469.99,163.85 L471.25,163.93 L472.51,164.01 L473.77,164.08 L475.04,164.16 L476.30,164.23 L477.56,164.30 L478.82,164.37 L480.09,164.44 L481.35,164.50 L482.61,164.57 L483.88,164.63 L485.14,164.69 L486.40,164.75 L487.66,164.81 L488.93,164.87 L490.19,164.93 L491.45,164.99 L492.71,165.04 L493.98,165.09 L495.24,165.15 L496.50,165.20 L497.76,165.25 L499.02,165.30 L500.29,165.35 L501.55,165.40 L502.81,165.44 L504.07,165.49 L505.34,165.53 L506.60,165.58 L507.86,165.62 L509.12,165.66 L510.39,165.70 L511.65,165.75 L512.91,165.79 L514.17,165.83 L515.44,165.87 L516.70,165.91 L517.96,165.95 L519.23,165.99 L520.49,166.03 L521.75,166.07 L523.01,166.11 L524.27,166.15 L525.54,166.19 L526.80,166.24 L528.06,166.28 L529.33,166.32 L530.59,166.37 L531.85,166.42 L533.11,166.46 L534.38,166.51 L535.64,166.56 L536.90,166.60 L538.16,166.65 L539.42,166.70 L540.69,166.75 L541.95,166.79 L543.21,166.84 L544.48,166.89 L545.74,166.94 L547.00,166.99 L548.26,167.04 L549.52,167.09 L550.79,167.14 L552.05,167.18 L553.31,167.23 L554.58,167.28 L555.84,167.33 L557.10,167.38 L558.36,167.42 L559.62,167.47 L560.89,167.51 L562.15,167.56 L563.41,167.61 L564.67,167.65 L565.94,167.69 L567.20,167.74 L568.46,167.78 L569.73,167.82 L570.99,167.86 L572.25,167.90 L573.51,167.94 L574.77,167.98 L576.04,168.02 L577.30,168.06 L578.56,168.09 L579.83,168.13 L581.09,168.17 L582.35,168.21 L583.61,168.24 L584.88,168.28 L586.14,168.32 L587.40,168.35 L588.66,168.39 L589.92,168.43 L591.19,168.46 L592.45,168.50 L593.71,168.53 L594.98,168.57 L596.24,168.60 L597.50,168.64 L598.76,168.67 L600.02,168.70 L601.29,168.74 L602.55,168.77 L603.81,168.80 L605.08,168.84 L606.34,168.87 L607.60,168.90 L608.86,168.93 L610.12,168.96 L611.39,168.99 L612.65,169.02 L613.91,169.05 L615.17,169.08 L616.44,169.11 L617.70,169.14 L618.96,169.17 L620.23,169.20 L621.49,169.22 L622.75,169.25 L622.75,173.52 L621.49,173.52 L620.23,173.51 L618.96,173.51 L617.70,173.50 L616.44,173.50 L615.17,173.49 L613.91,173.49 L612.65,173.48 L611.39,173.48 L610.12,173.47 L608.86,173.47 L607.60,173.46 L606.34,173.46 L605.08,173.45 L603.81,173.45 L602.55,173.44 L601.29,173.43 L600.02,173.43 L598.76,173.42 L597.50,173.42 L596.24,173.41 L594.98,173.41 L593.71,173.40 L592.45,173.39 L591.19,173.39 L589.92,173.38 L588.66,173.38 L587.40,173.37 L586.14,173.37 L584.88,173.36 L583.61,173.35 L582.35,173.35 L581.09,173.34 L579.83,173.34 L578.56,173.33 L577.30,173.32 L576.04,173.32 L574.77,173.31 L573.51,173.31 L572.25,173.30 L570.99,173.29 L569.73,173.29 L568.46,173.28 L567.20,173.28 L565.94,173.27 L564.67,173.27 L563.41,173.26 L562.15,173.26 L560.89,173.25 L559.62,173.25 L558.36,173.24 L557.10,173.23 L555.84,173.23 L554.58,173.22 L553.31,173.22 L552.05,173.21 L550.79,173.21 L549.52,173.20 L548.26,173.20 L547.00,173.19 L545.74,173.18 L544.48,173.18 L543.21,173.17 L541.95,173.16 L540.69,173.16 L539.42,173.15 L538.16,173.14 L536.90,173.13 L535.64,173.12 L534.38,173.11 L533.11,173.11 L531.85,173.10 L530.59,173.09 L529.33,173.07 L528.06,173.06 L526.80,173.05 L525.54,173.04 L524.27,173.02 L523.01,173.00 L521.75,172.98 L520.49,172.96 L519.23,172.94 L517.96,172.92 L516.70,172.90 L515.44,172.87 L514.17,172.84 L512.91,172.82 L511.65,172.79 L510.39,172.76 L509.12,172.73 L507.86,172.70 L506.60,172.67 L505.34,172.64 L504.07,172.61 L502.81,172.57 L501.55,172.54 L500.29,172.50 L499.02,172.47 L497.76,172.44 L496.50,172.40 L495.24,172.36 L493.98,172.33 L492.71,172.29 L491.45,172.25 L490.19,172.21 L488.93,172.17 L487.66,172.13 L486.40,172.08 L485.14,172.03 L483.88,171.98 L482.61,171.93 L481.35,171.88 L480.09,171.82 L478.82,171.77 L477.56,171.71 L476.30,171.64 L475.04,171.57 L473.77,171.50 L472.51,171.43 L471.25,171.36 L469.99,171.27 L468.73,171.18 L467.46,171.07 L466.20,170.95 L464.94,170.81 L463.68,170.67 L462.41,170.51 L461.15,170.35 L459.89,170.19 L458.62,170.02 L457.36,169.86 L456.10,169.70 L454.84,169.54 L453.57,169.38 L452.31,169.21 L451.05,169.03 L449.79,168.86 L448.52,168.68 L447.26,168.50 L446.00,168.32 L444.74,168.14 L443.48,167.96 L442.21,167.77 L440.95,167.59 L439.69,167.41 L438.43,167.21 L437.16,166.99 L435.90,166.76 L434.64,166.52 L433.38,166.28 L432.11,166.06 L430.85,165.85 L429.59,165.68 L428.32,165.54 L427.06,165.46 L425.80,165.42 L424.54,165.50 L423.27,165.70 L422.01,165.98 L420.75,166.32 L420.62,166.36 L420.50,166.40 L420.37,166.45 L420.25,166.50 L420.12,166.55 L419.99,166.60 L419.87,166.66 L419.74,166.72 L419.61,166.78 L419.49,166.85 L419.36,166.92 L419.24,166.99 L419.11,167.06 L418.98,167.14 L418.86,167.22 L418.73,167.30 L418.60,167.38 L418.48,167.47 L418.35,167.56 L418.23,167.65 L418.10,167.74 L417.97,167.83 L417.85,167.93 L417.72,168.02 L417.59,168.12 L417.47,168.22 L417.34,168.32 L417.21,168.42 L417.09,168.53 L416.96,168.63 L416.84,168.73 L416.71,168.84 L416.58,168.95 L416.46,169.05 L416.33,169.16 L416.20,169.27 L416.08,169.37 L415.95,169.48 L415.83,169.59 L415.70,169.70 L415.57,169.81 L415.45,169.92 L415.32,170.04 L415.19,170.16 L415.07,170.28 L414.94,170.41 L414.82,170.54 L414.69,170.67 L414.56,170.80 L414.44,170.94 L414.31,171.08 L414.19,171.22 L414.06,171.36 L413.93,171.51 L413.81,171.65 L413.68,171.80 L413.55,171.96 L413.43,172.11 L413.30,172.27 L413.18,172.42 L413.05,172.58 L412.92,172.74 L412.80,172.90 L412.67,173.07 L412.54,173.23 L412.42,173.39 L412.29,173.56 L412.17,173.73 L412.04,173.90 L411.91,174.06 L411.79,174.23 L411.66,174.40 L411.53,174.57 L411.41,174.75 L411.28,174.92 L411.15,175.09 L411.03,175.26 L410.90,175.43 L410.78,175.60 L410.65,175.77 L410.52,175.95 L410.40,176.14 L410.27,176.34 L410.14,176.54 L410.02,176.75 L409.89,176.96 L409.77,177.18 L409.64,177.40 L409.51,177.62 L409.39,177.84 L409.26,178.05 L409.13,178.26 L409.01,178.47 L408.88,178.66 L408.76,178.85 L408.63,179.03 L408.50,179.19 L408.38,179.34 L408.25,179.48 L408.12,179.60 L408.00,179.71 L407.87,179.82 L407.75,179.94 L407.62,180.05 L407.49,180.16 L407.37,180.27 L407.24,180.37 L407.12,180.48 L406.99,180.57 L406.86,180.67 L406.74,180.75 L406.61,180.83 L406.48,180.91 L406.36,180.98 L406.23,181.03 L406.11,181.08 L405.98,181.12 L405.85,181.15 L405.73,181.17 L405.60,181.17 L405.47,181.16 L405.35,181.13 L405.22,181.07 L405.10,180.99 L404.97,180.88 L404.84,180.76 L404.72,180.62 L404.59,180.47 L404.46,180.30 L404.34,180.12 L404.21,179.92 L404.08,179.71 L403.96,179.50 L403.83,179.27 L403.71,179.04 L403.58,178.80 L403.45,178.55 L403.33,178.30 L403.20,178.05 L403.07,177.80 L402.95,177.53 L402.82,177.24 L402.70,176.92 L402.57,176.58 L402.44,176.20 L402.32,175.81 L402.19,175.39 L402.06,174.94 L401.94,174.47 L401.81,173.98 L401.69,173.46 L401.56,172.93 L401.43,172.37 L401.31,171.79 L401.18,171.19 L401.06,170.57 L400.93,169.93 L400.80,169.27 L400.68,168.59 L400.55,167.90 L400.42,167.15 L400.30,166.33 L400.17,165.42 L400.05,164.44 L399.92,163.40 L399.79,162.29 L399.67,161.12 L399.54,159.91 L399.41,158.64 L399.29,157.32 L399.16,155.96 L399.04,154.51 L398.91,152.97 L398.78,151.35 L398.66,149.63 L398.53,147.80 L398.40,145.86 L398.28,143.81 L398.15,141.63 L398.02,139.32 L397.90,136.81 L397.77,134.04 L397.65,131.01 L397.52,127.76 L397.39,124.30 L397.27,120.65 L397.14,116.82 L397.01,112.83 L396.89,108.70 L396.76,104.45 L396.64,99.99 L396.51,95.23 L396.38,90.19 L396.26,84.88 L396.13,79.31 L396.00,73.51 L395.88,67.48 L395.75,61.24 L395.63,54.81 L395.50,48.20 Z" fill="#F8766D" fill-opacity="0.22" stroke="none"/>
<path d="M395.50,129.20 L395.63,131.03 L395.75,132.82 L395.88,134.55 L396.00,136.23 L396.13,137.85 L396.26,139.41 L396.38,140.91 L396.51,142.33 L396.64,143.68 L396.76,144.95 L396.89,146.17 L397.01,147.36 L397.14,148.51 L397.27,149.62 L397.39,150.68 L397.52,151.68 L397.65,152.63 L397.77,153.52 L397.90,154.33 L398.02,155.07 L398.15,155.77 L398.28,156.43 L398.40,157.08 L398.53,157.71 L398.66,158.32 L398.78,158.90 L398.91,159.47 L399.04,160.02 L399.16,160.55 L399.29,161.06 L399.41,161.55 L399.54,162.02 L399.67,162.48 L399.79,162.92 L399.92,163.34 L400.05,163.74 L400.17,164.13 L400.30,164.50 L400.42,164.86 L400.55,165.20 L400.68,165.53 L400.80,165.85 L400.93,166.17 L401.06,166.48 L401.18,166.78 L401.31,167.08 L401.43,167.37 L401.56,167.65 L401.69,167.92 L401.81,168.18 L401.94,168.43 L402.06,168.67 L402.19,168.89 L402.32,169.11 L402.44,169.32 L402.57,169.51 L402.70,169.69 L402.82,169.86 L402.95,170.01 L403.07,170.15 L403.20,170.28 L403.33,170.41 L403.45,170.55 L403.58,170.68 L403.71,170.80 L403.83,170.93 L403.96,171.05 L404.08,171.16 L404.21,171.27 L404.34,171.38 L404.46,171.48 L404.59,171.57 L404.72,171.65 L404.84,171.73 L404.97,171.79 L405.10,171.85 L405.22,171.89 L405.35,171.92 L405.47,171.94 L405.60,171.95 L405.73,171.95 L405.85,171.93 L405.98,171.91 L406.11,171.88 L406.23,171.84 L406.36,171.80 L406.48,171.75 L406.61,171.69 L406.74,171.63 L406.86,171.57 L406.99,171.50 L407.12,171.43 L407.24,171.36 L407.37,171.28 L407.49,171.21 L407.62,171.13 L407.75,171.05 L407.87,170.98 L408.00,170.90 L408.12,170.82 L408.25,170.75 L408.38,170.67 L408.50,170.59 L408.63,170.50 L408.76,170.40 L408.88,170.31 L409.01,170.21 L409.13,170.11 L409.26,170.00 L409.39,169.89 L409.51,169.78 L409.64,169.66 L409.77,169.55 L409.89,169.43 L410.02,169.31 L410.14,169.18 L410.27,169.06 L410.40,168.93 L410.52,168.80 L410.65,168.67 L410.78,168.54 L410.90,168.41 L411.03,168.28 L411.15,168.15 L411.28,168.01 L411.41,167.88 L411.53,167.75 L411.66,167.61 L411.79,167.48 L411.91,167.35 L412.04,167.22 L412.17,167.09 L412.29,166.96 L412.42,166.83 L412.54,166.70 L412.67,166.58 L412.80,166.46 L412.92,166.34 L413.05,166.22 L413.18,166.10 L413.30,165.98 L413.43,165.87 L413.55,165.75 L413.68,165.63 L413.81,165.50 L413.93,165.38 L414.06,165.26 L414.19,165.13 L414.31,165.01 L414.44,164.88 L414.56,164.75 L414.69,164.63 L414.82,164.50 L414.94,164.37 L415.07,164.25 L415.19,164.12 L415.32,163.99 L415.45,163.87 L415.57,163.75 L415.70,163.62 L415.83,163.50 L415.95,163.38 L416.08,163.26 L416.20,163.14 L416.33,163.03 L416.46,162.91 L416.58,162.80 L416.71,162.69 L416.84,162.58 L416.96,162.48 L417.09,162.38 L417.21,162.28 L417.34,162.18 L417.47,162.09 L417.59,162.00 L417.72,161.91 L417.85,161.83 L417.97,161.75 L418.10,161.67 L418.23,161.60 L418.35,161.53 L418.48,161.46 L418.60,161.39 L418.73,161.32 L418.86,161.25 L418.98,161.17 L419.11,161.10 L419.24,161.03 L419.36,160.96 L419.49,160.89 L419.61,160.82 L419.74,160.75 L419.87,160.68 L419.99,160.62 L420.12,160.55 L420.25,160.48 L420.37,160.42 L420.50,160.36 L420.62,160.30 L420.75,160.24 L422.01,159.76 L423.27,159.57 L424.54,159.60 L425.80,159.68 L427.06,159.80 L428.32,159.94 L429.59,160.09 L430.85,160.25 L432.11,160.42 L433.38,160.63 L434.64,160.87 L435.90,161.13 L437.16,161.41 L438.43,161.70 L439.69,161.99 L440.95,162.30 L442.21,162.63 L443.48,162.99 L444.74,163.36 L446.00,163.76 L447.26,164.16 L448.52,164.58 L449.79,164.99 L451.05,165.41 L452.31,165.83 L453.57,166.24 L454.84,166.63 L456.10,167.02 L457.36,167.38 L458.62,167.74 L459.89,168.11 L461.15,168.49 L462.41,168.87 L463.68,169.24 L464.94,169.59 L466.20,169.91 L467.46,170.19 L468.73,170.42 L469.99,170.60 L471.25,170.74 L472.51,170.88 L473.77,171.00 L475.04,171.12 L476.30,171.23 L477.56,171.34 L478.82,171.44 L480.09,171.54 L481.35,171.63 L482.61,171.71 L483.88,171.79 L485.14,171.87 L486.40,171.94 L487.66,172.00 L488.93,172.07 L490.19,172.13 L491.45,172.19 L492.71,172.24 L493.98,172.30 L495.24,172.35 L496.50,172.40 L497.76,172.45 L499.02,172.50 L500.29,172.54 L501.55,172.59 L502.81,172.63 L504.07,172.67 L505.34,172.71 L506.60,172.75 L507.86,172.79 L509.12,172.83 L510.39,172.86 L511.65,172.90 L512.91,172.93 L514.17,172.96 L515.44,172.99 L516.70,173.02 L517.96,173.05 L519.23,173.08 L520.49,173.11 L521.75,173.14 L523.01,173.17 L524.27,173.20 L525.54,173.22 L526.80,173.25 L528.06,173.27 L529.33,173.30 L530.59,173.33 L531.85,173.35 L533.11,173.38 L534.38,173.40 L535.64,173.42 L536.90,173.45 L538.16,173.47 L539.42,173.49 L540.69,173.52 L541.95,173.54 L543.21,173.56 L544.48,173.58 L545.74,173.60 L547.00,173.62 L548.26,173.64 L549.52,173.66 L550.79,173.68 L552.05,173.70 L553.31,173.72 L554.58,173.74 L555.84,173.76 L557.10,173.78 L558.36,173.80 L559.62,173.82 L560.89,173.83 L562.15,173.85 L563.41,173.87 L564.67,173.88 L565.94,173.90 L567.20,173.91 L568.46,173.93 L569.73,173.95 L570.99,173.96 L572.25,173.97 L573.51,173.99 L574.77,174.00 L576.04,174.02 L577.30,174.03 L578.56,174.05 L579.83,174.06 L581.09,174.07 L582.35,174.09 L583.61,174.10 L584.88,174.11 L586.14,174.13 L587.40,174.14 L588.66,174.15 L589.92,174.17 L591.19,174.18 L592.45,174.19 L593.71,174.20 L594.98,174.22 L596.24,174.23 L597.50,174.24 L598.76,174.25 L600.02,174.26 L601.29,174.27 L602.55,174.28 L603.81,174.29 L605.08,174.31 L606.34,174.32 L607.60,174.33 L608.86,174.34 L610.12,174.34 L611.39,174.35 L612.65,174.36 L613.91,174.37 L615.17,174.38 L616.44,174.39 L617.70,174.40 L618.96,174.40 L620.23,174.41 L621.49,174.42 L622.75,174.42 L622.75,179.15 L621.49,179.17 L620.23,179.19 L618.96,179.21 L617.70,179.22 L616.44,179.24 L615.17,179.26 L613.91,179.28 L612.65,179.30 L611.39,179.32 L610.12,179.33 L608.86,179.35 L607.60,179.37 L606.34,179.39 L605.08,179.40 L603.81,179.42 L602.55,179.44 L601.29,179.46 L600.02,179.47 L598.76,179.49 L597.50,179.51 L596.24,179.52 L594.98,179.54 L593.71,179.56 L592.45,179.57 L591.19,179.59 L589.92,179.61 L588.66,179.62 L587.40,179.64 L586.14,179.66 L584.88,179.67 L583.61,179.69 L582.35,179.70 L581.09,179.72 L579.83,179.73 L578.56,179.75 L577.30,179.76 L576.04,179.78 L574.77,179.80 L573.51,179.81 L572.25,179.82 L570.99,179.84 L569.73,179.86 L568.46,179.87 L567.20,179.89 L565.94,179.91 L564.67,179.92 L563.41,179.94 L562.15,179.96 L560.89,179.97 L559.62,179.99 L558.36,180.01 L557.10,180.03 L555.84,180.05 L554.58,180.06 L553.31,180.08 L552.05,180.10 L550.79,180.11 L549.52,180.13 L548.26,180.14 L547.00,180.16 L545.74,180.17 L544.48,180.19 L543.21,180.20 L541.95,180.21 L540.69,180.22 L539.42,180.23 L538.16,180.24 L536.90,180.25 L535.64,180.26 L534.38,180.26 L533.11,180.27 L531.85,180.27 L530.59,180.27 L529.33,180.27 L528.06,180.27 L526.80,180.27 L525.54,180.26 L524.27,180.25 L523.01,180.24 L521.75,180.22 L520.49,180.20 L519.23,180.18 L517.96,180.16 L516.70,180.14 L515.44,180.11 L514.17,180.08 L512.91,180.05 L511.65,180.02 L510.39,179.99 L509.12,179.96 L507.86,179.92 L506.60,179.89 L505.34,179.85 L504.07,179.82 L502.81,179.78 L501.55,179.74 L500.29,179.71 L499.02,179.67 L497.76,179.64 L496.50,179.60 L495.24,179.56 L493.98,179.53 L492.71,179.49 L491.45,179.45 L490.19,179.41 L488.93,179.37 L487.66,179.33 L486.40,179.28 L485.14,179.23 L483.88,179.18 L482.61,179.13 L481.35,179.08 L480.09,179.02 L478.82,178.97 L477.56,178.91 L476.30,178.84 L475.04,178.77 L473.77,178.70 L472.51,178.63 L471.25,178.56 L469.99,178.47 L468.73,178.38 L467.46,178.27 L466.20,178.15 L464.94,178.01 L463.68,177.86 L462.41,177.70 L461.15,177.54 L459.89,177.38 L458.62,177.21 L457.36,177.05 L456.10,176.90 L454.84,176.75 L453.57,176.59 L452.31,176.42 L451.05,176.25 L449.79,176.08 L448.52,175.91 L447.26,175.74 L446.00,175.58 L444.74,175.42 L443.48,175.26 L442.21,175.11 L440.95,174.98 L439.69,174.85 L438.43,174.72 L437.16,174.59 L435.90,174.45 L434.64,174.32 L433.38,174.19 L432.11,174.07 L430.85,173.97 L429.59,173.88 L428.32,173.81 L427.06,173.77 L425.80,173.75 L424.54,173.80 L423.27,173.95 L422.01,174.17 L420.75,174.45 L420.62,174.48 L420.50,174.51 L420.37,174.54 L420.25,174.57 L420.12,174.60 L419.99,174.63 L419.87,174.67 L419.74,174.70 L419.61,174.73 L419.49,174.76 L419.36,174.80 L419.24,174.83 L419.11,174.86 L418.98,174.90 L418.86,174.93 L418.73,174.96 L418.60,175.00 L418.48,175.03 L418.35,175.07 L418.23,175.10 L418.10,175.14 L417.97,175.17 L417.85,175.21 L417.72,175.26 L417.59,175.30 L417.47,175.35 L417.34,175.40 L417.21,175.45 L417.09,175.51 L416.96,175.56 L416.84,175.62 L416.71,175.68 L416.58,175.74 L416.46,175.80 L416.33,175.87 L416.20,175.93 L416.08,176.00 L415.95,176.06 L415.83,176.13 L415.70,176.20 L415.57,176.27 L415.45,176.34 L415.32,176.41 L415.19,176.48 L415.07,176.55 L414.94,176.62 L414.82,176.69 L414.69,176.76 L414.56,176.83 L414.44,176.90 L414.31,176.97 L414.19,177.04 L414.06,177.11 L413.93,177.18 L413.81,177.25 L413.68,177.32 L413.55,177.38 L413.43,177.45 L413.30,177.51 L413.18,177.57 L413.05,177.64 L412.92,177.70 L412.80,177.77 L412.67,177.83 L412.54,177.90 L412.42,177.97 L412.29,178.04 L412.17,178.11 L412.04,178.18 L411.91,178.25 L411.79,178.32 L411.66,178.39 L411.53,178.47 L411.41,178.54 L411.28,178.61 L411.15,178.68 L411.03,178.75 L410.90,178.82 L410.78,178.90 L410.65,178.97 L410.52,179.03 L410.40,179.10 L410.27,179.17 L410.14,179.24 L410.02,179.30 L409.89,179.36 L409.77,179.43 L409.64,179.49 L409.51,179.55 L409.39,179.60 L409.26,179.66 L409.13,179.71 L409.01,179.76 L408.88,179.81 L408.76,179.86 L408.63,179.90 L408.50,179.94 L408.38,179.98 L408.25,180.02 L408.12,180.05 L408.00,180.08 L407.87,180.11 L407.75,180.15 L407.62,180.18 L407.49,180.21 L407.37,180.24 L407.24,180.27 L407.12,180.30 L406.99,180.33 L406.86,180.35 L406.74,180.38 L406.61,180.40 L406.48,180.42 L406.36,180.44 L406.23,180.46 L406.11,180.47 L405.98,180.48 L405.85,180.49 L405.73,180.50 L405.60,180.50 L405.47,180.49 L405.35,180.48 L405.22,180.45 L405.10,180.42 L404.97,180.38 L404.84,180.33 L404.72,180.27 L404.59,180.21 L404.46,180.14 L404.34,180.07 L404.21,179.99 L404.08,179.90 L403.96,179.82 L403.83,179.73 L403.71,179.63 L403.58,179.54 L403.45,179.44 L403.33,179.34 L403.20,179.25 L403.07,179.15 L402.95,179.05 L402.82,178.94 L402.70,178.82 L402.57,178.70 L402.44,178.57 L402.32,178.43 L402.19,178.28 L402.06,178.13 L401.94,177.96 L401.81,177.80 L401.69,177.62 L401.56,177.44 L401.43,177.25 L401.31,177.06 L401.18,176.86 L401.06,176.65 L400.93,176.44 L400.80,176.22 L400.68,176.00 L400.55,175.77 L400.42,175.54 L400.30,175.28 L400.17,175.02 L400.05,174.74 L399.92,174.44 L399.79,174.13 L399.67,173.81 L399.54,173.47 L399.41,173.12 L399.29,172.76 L399.16,172.39 L399.04,172.01 L398.91,171.61 L398.78,171.21 L398.66,170.79 L398.53,170.37 L398.40,169.93 L398.28,169.49 L398.15,169.04 L398.02,168.57 L397.90,168.09 L397.77,167.57 L397.65,167.03 L397.52,166.45 L397.39,165.84 L397.27,165.21 L397.14,164.56 L397.01,163.89 L396.89,163.20 L396.76,162.50 L396.64,161.77 L396.51,161.01 L396.38,160.23 L396.26,159.41 L396.13,158.56 L396.00,157.69 L395.88,156.79 L395.75,155.86 L395.63,154.92 L395.50,153.95 Z" fill="#00BFC4" fill-opacity="0.22" stroke="none"/>
<path d="M395.50,129.20 L395.63,131.03 L395.75,132.82 L395.88,134.55 L396.00,136.23 L396.13,137.85 L396.26,139.41 L396.38,140.91 L396.51,142.33 L396.64,143.68 L396.76,144.95 L396.89,146.17 L397.01,147.36 L397.14,148.51 L397.27,149.62 L397.39,150.68 L397.52,151.68 L397.65,152.63 L397.77,153.52 L397.90,154.33 L398.02,155.07 L398.15,155.77 L398.28,156.43 L398.40,157.08 L398.53,157.71 L398.66,158.32 L398.78,158.90 L398.91,159.47 L399.04,160.02 L399.16,160.55 L399.29,161.06 L399.41,161.55 L399.54,162.02 L399.67,162.48 L399.79,162.92 L399.92,163.34 L400.05,163.74 L400.17,164.13 L400.30,164.50 L400.42,164.86 L400.55,165.20 L400.68,165.53 L400.80,165.85 L400.93,166.17 L401.06,166.48 L401.18,166.78 L401.31,167.08 L401.43,167.37 L401.56,167.65 L401.69,167.92 L401.81,168.18 L401.94,168.43 L402.06,168.67 L402.19,168.89 L402.32,169.11 L402.44,169.32 L402.57,169.51 L402.70,169.69 L402.82,169.86 L402.95,170.01 L403.07,170.15 L403.20,170.28 L403.33,170.41 L403.45,170.55 L403.58,170.68 L403.71,170.80 L403.83,170.93 L403.96,171.05 L404.08,171.16 L404.21,171.27 L404.34,171.38 L404.46,171.48 L404.59,171.57 L404.72,171.65 L404.84,171.73 L404.97,171.79 L405.10,171.85 L405.22,171.89 L405.35,171.92 L405.47,171.94 L405.60,171.95 L405.73,171.95 L405.85,171.93 L405.98,171.91 L406.11,171.88 L406.23,171.84 L406.36,171.80 L406.48,171.75 L406.61,171.69 L406.74,171.63 L406.86,171.57 L406.99,171.50 L407.12,171.43 L407.24,171.36 L407.37,171.28 L407.49,171.21 L407.62,171.13 L407.75,171.05 L407.87,170.98 L408.00,170.90 L408.12,170.82 L408.25,170.75 L408.38,170.67 L408.50,170.59 L408.63,170.50 L408.76,170.40 L408.88,170.31 L409.01,170.21 L409.13,170.11 L409.26,170.00 L409.39,169.89 L409.51,169.78 L409.64,169.66 L409.77,169.55 L409.89,169.43 L410.02,169.31 L410.14,169.18 L410.27,169.06 L410.40,168.93 L410.52,168.80 L410.65,168.67 L410.78,168.54 L410.90,168.41 L411.03,168.28 L411.15,168.15 L411.28,168.01 L411.41,167.88 L411.53,167.75 L411.66,167.61 L411.79,167.48 L411.91,167.35 L412.04,167.22 L412.17,167.09 L412.29,166.96 L412.42,166.83 L412.54,166.70 L412.67,166.58 L412.80,166.46 L412.92,166.34 L413.05,166.22 L413.18,166.10 L413.30,165.98 L413.43,165.87 L413.55,165.75 L413.68,165.63 L413.81,165.50 L413.93,165.38 L414.06,165.26 L414.19,165.13 L414.31,165.01 L414.44,164.88 L414.56,164.75 L414.69,164.63 L414.82,164.50 L414.94,164.37 L415.07,164.25 L415.19,164.12 L415.32,163.99 L415.45,163.87 L415.57,163.75 L415.70,163.62 L415.83,163.50 L415.95,163.38 L416.08,163.26 L416.20,163.14 L416.33,163.03 L416.46,162.91 L416.58,162.80 L416.71,162.69 L416.84,162.58 L416.96,162.48 L417.09,162.38 L417.21,162.28 L417.34,162.18 L417.47,162.09 L417.59,162.00 L417.72,161.91 L417.85,161.83 L417.97,161.75 L418.10,161.67 L418.23,161.60 L418.35,161.53 L418.48,161.46 L418.60,161.39 L418.73,161.32 L418.86,161.25 L418.98,161.17 L419.11,161.10 L419.24,161.03 L419.36,160.96 L419.49,160.89 L419.61,160.82 L419.74,160.75 L419.87,160.68 L419.99,160.62 L420.12,160.55 L420.25,160.48 L420.37,160.42 L420.50,160.36 L420.62,160.30 L420.75,160.24 L422.01,159.76 L423.27,159.57 L424.54,159.60 L425.80,159.68 L427.06,159.80 L428.32,159.94 L429.59,160.09 L430.85,160.25 L432.11,160.42 L433.38,160.63 L434.64,160.87 L435.90,161.13 L437.16,161.41 L438.43,161.70 L439.69,161.99 L440.95,162.30 L442.21,162.63 L443.48,162.99 L444.74,163.36 L446.00,163.76 L447.26,164.16 L448.52,164.58 L449.79,164.99 L451.05,165.41 L452.31,165.83 L453.57,166.24 L454.84,166.63 L456.10,167.02 L457.36,167.38 L458.62,167.74 L459.89,168.11 L461.15,168.49 L462.41,168.87 L463.68,169.24 L464.94,169.59 L466.20,169.91 L467.46,170.19 L468.73,170.42 L469.99,170.60 L471.25,170.74 L472.51,170.88 L473.77,171.00 L475.04,171.12 L476.30,171.23 L477.56,171.34 L478.82,171.44 L480.09,171.54 L481.35,171.63 L482.61,171.71 L483.88,171.79 L485.14,171.87 L486.40,171.94 L487.66,172.00 L488.93,172.07 L490.19,172.13 L491.45,172.19 L492.71,172.24 L493.98,172.30 L495.24,172.35 L496.50,172.40 L497.76,172.45 L499.02,172.50 L500.29,172.54 L501.55,172.59 L502.81,172.63 L504.07,172.67 L505.34,172.71 L506.60,172.75 L507.86,172.79 L509.12,172.83 L510.39,172.86 L511.65,172.90 L512.91,172.93 L514.17,172.96 L515.44,172.99 L516.70,173.02 L517.96,173.05 L519.23,173.08 L520.49,173.11 L521.75,173.14 L523.01,173.17 L524.27,173.20 L525.54,173.22 L526.80,173.25 L528.06,173.27 L529.33,173.30 L530.59,173.33 L531.85,173.35 L533.11,173.38 L534.38,173.40 L535.64,173.42 L536.90,173.45 L538.16,173.47 L539.42,173.49 L540.69,173.52 L541.95,173.54 L543.21,173.56 L544.48,173.58 L545.74,173.60 L547.00,173.62 L548.26,173.64 L549.52,173.66 L550.79,173.68 L552.05,173.70 L553.31,173.72 L554.58,173.74 L555.84,173.76 L557.10,173.78 L558.36,173.80 L559.62,173.82 L560.89,173.83 L562.15,173.85 L563.41,173.87 L564.67,173.88 L565.94,173.90 L567.20,173.91 L568.46,173.93 L569.73,173.95 L570.99,173.96 L572.25,173.97 L573.51,173.99 L574.77,174.00 L576.04,174.02 L577.30,174.03 L578.56,174.05 L579.83,174.06 L581.09,174.07 L582.35,174.09 L583.61,174.10 L584.88,174.11 L586.14,174.13 L587.40,174.14 L588.66,174.15 L589.92,174.17 L591.19,174.18 L592.45,174.19 L593.71,174.20 L594.98,174.22 L596.24,174.23 L597.50,174.24 L598.76,174.25 L600.02,174.26 L601.29,174.27 L602.55,174.28 L603.81,174.29 L605.08,174.31 L606.34,174.32 L607.60,174.33 L608.86,174.34 L610.12,174.34 L611.39,174.35 L612.65,174.36 L613.91,174.37 L615.17,174.38 L616.44,174.39 L617.70,174.40 L618.96,174.40 L620.23,174.41 L621.49,174.42 L622.75,174.42 L622.75,179.15 L621.49,179.17 L620.23,179.19 L618.96,179.21 L617.70,179.22 L616.44,179.24 L615.17,179.26 L613.91,179.28 L612.65,179.30 L611.39,179.32 L610.12,179.33 L608.86,179.35 L607.60,179.37 L606.34,179.39 L605.08,179.40 L603.81,179.42 L602.55,179.44 L601.29,179.46 L600.02,179.47 L598.76,179.49 L597.50,179.51 L596.24,179.52 L594.98,179.54 L593.71,179.56 L592.45,179.57 L591.19,179.59 L589.92,179.61 L588.66,179.62 L587.40,179.64 L586.14,179.66 L584.88,179.67 L583.61,179.69 L582.35,179.70 L581.09,179.72 L579.83,179.73 L578.56,179.75 L577.30,179.76 L576.04,179.78 L574.77,179.80 L573.51,179.81 L572.25,179.82 L570.99,179.84 L569.73,179.86 L568.46,179.87 L567.20,179.89 L565.94,179.91 L564.67,179.92 L563.41,179.94 L562.15,179.96 L560.89,179.97 L559.62,179.99 L558.36,180.01 L557.10,180.03 L555.84,180.05 L554.58,180.06 L553.31,180.08 L552.05,180.10 L550.79,180.11 L549.52,180.13 L548.26,180.14 L547.00,180.16 L545.74,180.17 L544.48,180.19 L543.21,180.20 L541.95,180.21 L540.69,180.22 L539.42,180.23 L538.16,180.24 L536.90,180.25 L535.64,180.26 L534.38,180.26 L533.11,180.27 L531.85,180.27 L530.59,180.27 L529.33,180.27 L528.06,180.27 L526.80,180.27 L525.54,180.26 L524.27,180.25 L523.01,180.24 L521.75,180.22 L520.49,180.20 L519.23,180.18 L517.96,180.16 L516.70,180.14 L515.44,180.11 L514.17,180.08 L512.91,180.05 L511.65,180.02 L510.39,179.99 L509.12,179.96 L507.86,179.92 L506.60,179.89 L505.34,179.85 L504.07,179.82 L502.81,179.78 L501.55,179.74 L500.29,179.71 L499.02,179.67 L497.76,179.64 L496.50,179.60 L495.24,179.56 L493.98,179.53 L492.71,179.49 L491.45,179.45 L490.19,179.41 L488.93,179.37 L487.66,179.33 L486.40,179.28 L485.14,179.23 L483.88,179.18 L482.61,179.13 L481.35,179.08 L480.09,179.02 L478.82,178.97 L477.56,178.91 L476.30,178.84 L475.04,178.77 L473.77,178.70 L472.51,178.63 L471.25,178.56 L469.99,178.47 L468.73,178.38 L467.46,178.27 L466.20,178.15 L464.94,178.01 L463.68,177.86 L462.41,177.70 L461.15,177.54 L459.89,177.38 L458.62,177.21 L457.36,177.05 L456.10,176.90 L454.84,176.75 L453.57,176.59 L452.31,176.42 L451.05,176.25 L449.79,176.08 L448.52,175.91 L447.26,175.74 L446.00,175.58 L444.74,175.42 L443.48,175.26 L442.21,175.11 L440.95,174.98 L439.69,174.85 L438.43,174.72 L437.16,174.59 L435.90,174.45 L434.64,174.32 L433.38,174.19 L432.11,174.07 L430.85,173.97 L429.59,173.88 L428.32,173.81 L427.06,173.77 L425.80,173.75 L424.54,173.80 L423.27,173.95 L422.01,174.17 L420.75,174.45 L420.62,174.48 L420.50,174.51 L420.37,174.54 L420.25,174.57 L420.12,174.60 L419.99,174.63 L419.87,174.67 L419.74,174.70 L419.61,174.73 L419.49,174.76 L419.36,174.80 L419.24,174.83 L419.11,174.86 L418.98,174.90 L418.86,174.93 L418.73,174.96 L418.60,175.00 L418.48,175.03 L418.35,175.07 L418.23,175.10 L418.10,175.14 L417.97,175.17 L417.85,175.21 L417.72,175.26 L417.59,175.30 L417.47,175.35 L417.34,175.40 L417.21,175.45 L417.09,175.51 L416.96,175.56 L416.84,175.62 L416.71,175.68 L416.58,175.74 L416.46,175.80 L416.33,175.87 L416.20,175.93 L416.08,176.00 L415.95,176.06 L415.83,176.13 L415.70,176.20 L415.57,176.27 L415.45,176.34 L415.32,176.41 L415.19,176.48 L415.07,176.55 L414.94,176.62 L414.82,176.69 L414.69,176.76 L414.56,176.83 L414.44,176.90 L414.31,176.97 L414.19,177.04 L414.06,177.11 L413.93,177.18 L413.81,177.25 L413.68,177.32 L413.55,177.38 L413.43,177.45 L413.30,177.51 L413.18,177.57 L413.05,177.64 L412.92,177.70 L412.80,177.77 L412.67,177.83 L412.54,177.90 L412.42,177.97 L412.29,178.04 L412.17,178.11 L412.04,178.18 L411.91,178.25 L411.79,178.32 L411.66,178.39 L411.53,178.47 L411.41,178.54 L411.28,178.61 L411.15,178.68 L411.03,178.75 L410.90,178.82 L410.78,178.90 L410.65,178.97 L410.52,179.03 L410.40,179.10 L410.27,179.17 L410.14,179.24 L410.02,179.30 L409.89,179.36 L409.77,179.43 L409.64,179.49 L409.51,179.55 L409.39,179.60 L409.26,179.66 L409.13,179.71 L409.01,179.76 L408.88,179.81 L408.76,179.86 L408.63,179.90 L408.50,179.94 L408.38,179.98 L408.25,180.02 L408.12,180.05 L408.00,180.08 L407.87,180.11 L407.75,180.15 L407.62,180.18 L407.49,180.21 L407.37,180.24 L407.24,180.27 L407.12,180.30 L406.99,180.33 L406.86,180.35 L406.74,180.38 L406.61,180.40 L406.48,180.42 L406.36,180.44 L406.23,180.46 L406.11,180.47 L405.98,180.48 L405.85,180.49 L405.73,180.50 L405.60,180.50 L405.47,180.49 L405.35,180.48 L405.22,180.45 L405.10,180.42 L404.97,180.38 L404.84,180.33 L404.72,180.27 L404.59,180.21 L404.46,180.14 L404.34,180.07 L404.21,179.99 L404.08,179.90 L403.96,179.82 L403.83,179.73 L403.71,179.63 L403.58,179.54 L403.45,179.44 L403.33,179.34 L403.20,179.25 L403.07,179.15 L402.95,179.05 L402.82,178.94 L402.70,178.82 L402.57,178.70 L402.44,178.57 L402.32,178.43 L402.19,178.28 L402.06,178.13 L401.94,177.96 L401.81,177.80 L401.69,177.62 L401.56,177.44 L401.43,177.25 L401.31,177.06 L401.18,176.86 L401.06,176.65 L400.93,176.44 L400.80,176.22 L400.68,176.00 L400.55,175.77 L400.42,175.54 L400.30,175.28 L400.17,175.02 L400.05,174.74 L399.92,174.44 L399.79,174.13 L399.67,173.81 L399.54,173.47 L399.41,173.12 L399.29,172.76 L399.16,172.39 L399.04,172.01 L398.91,171.61 L398.78,171.21 L398.66,170.79 L398.53,170.37 L398.40,169.93 L398.28,169.49 L398.15,169.04 L398.02,168.57 L397.90,168.09 L397.77,167.57 L397.65,167.03 L397.52,166.45 L397.39,165.84 L397.27,165.21 L397.14,164.56 L397.01,163.89 L396.89,163.20 L396.76,162.50 L396.64,161.77 L396.51,161.01 L396.38,160.23 L396.26,159.41 L396.13,158.56 L396.00,157.69 L395.88,156.79 L395.75,155.86 L395.63,154.92 L395.50,153.95 Z" fill="none" stroke="#12ABAF" stroke-width="0.85" stroke-linejoin="round"/>
<path d="M395.50,144.95 L395.63,146.07 L395.75,147.16 L395.88,148.23 L396.00,149.28 L396.13,150.31 L396.26,151.32 L396.38,152.29 L396.51,153.25 L396.64,154.18 L396.76,155.07 L396.89,155.96 L397.01,156.84 L397.14,157.72 L397.27,158.57 L397.39,159.40 L397.52,160.20 L397.65,160.96 L397.77,161.68 L397.90,162.35 L398.02,162.95 L398.15,163.52 L398.28,164.07 L398.40,164.60 L398.53,165.12 L398.66,165.63 L398.78,166.12 L398.91,166.60 L399.04,167.06 L399.16,167.51 L399.29,167.95 L399.41,168.36 L399.54,168.77 L399.67,169.16 L399.79,169.54 L399.92,169.90 L400.05,170.25 L400.17,170.58 L400.30,170.90 L400.42,171.21 L400.55,171.50 L400.68,171.78 L400.80,172.06 L400.93,172.33 L401.06,172.59 L401.18,172.85 L401.31,173.10 L401.43,173.35 L401.56,173.58 L401.69,173.81 L401.81,174.03 L401.94,174.25 L402.06,174.45 L402.19,174.65 L402.32,174.84 L402.44,175.02 L402.57,175.19 L402.70,175.35 L402.82,175.50 L402.95,175.64 L403.07,175.77 L403.20,175.90 L403.33,176.03 L403.45,176.16 L403.58,176.29 L403.71,176.41 L403.83,176.54 L403.96,176.66 L404.08,176.77 L404.21,176.89 L404.34,176.99 L404.46,177.09 L404.59,177.18 L404.72,177.27 L404.84,177.35 L404.97,177.41 L405.10,177.47 L405.22,177.51 L405.35,177.55 L405.47,177.57 L405.60,177.57 L405.73,177.57 L405.85,177.56 L405.98,177.53 L406.11,177.50 L406.23,177.46 L406.36,177.42 L406.48,177.37 L406.61,177.31 L406.74,177.25 L406.86,177.19 L406.99,177.12 L407.12,177.05 L407.24,176.97 L407.37,176.90 L407.49,176.82 L407.62,176.75 L407.75,176.67 L407.87,176.60 L408.00,176.52 L408.12,176.45 L408.25,176.38 L408.38,176.30 L408.50,176.22 L408.63,176.14 L408.76,176.05 L408.88,175.96 L409.01,175.87 L409.13,175.77 L409.26,175.68 L409.39,175.57 L409.51,175.47 L409.64,175.37 L409.77,175.26 L409.89,175.15 L410.02,175.04 L410.14,174.93 L410.27,174.82 L410.40,174.71 L410.52,174.59 L410.65,174.48 L410.78,174.37 L410.90,174.25 L411.03,174.14 L411.15,174.02 L411.28,173.91 L411.41,173.80 L411.53,173.69 L411.66,173.57 L411.79,173.46 L411.91,173.36 L412.04,173.25 L412.17,173.15 L412.29,173.04 L412.42,172.94 L412.54,172.85 L412.67,172.75 L412.80,172.66 L412.92,172.57 L413.05,172.48 L413.18,172.40 L413.30,172.32 L413.43,172.24 L413.55,172.16 L413.68,172.08 L413.81,172.00 L413.93,171.92 L414.06,171.85 L414.19,171.77 L414.31,171.69 L414.44,171.62 L414.56,171.54 L414.69,171.47 L414.82,171.39 L414.94,171.32 L415.07,171.25 L415.19,171.17 L415.32,171.10 L415.45,171.03 L415.57,170.96 L415.70,170.89 L415.83,170.83 L415.95,170.76 L416.08,170.69 L416.20,170.63 L416.33,170.56 L416.46,170.50 L416.58,170.43 L416.71,170.37 L416.84,170.31 L416.96,170.25 L417.09,170.19 L417.21,170.13 L417.34,170.07 L417.47,170.02 L417.59,169.96 L417.72,169.91 L417.85,169.85 L417.97,169.80 L418.10,169.75 L418.23,169.70 L418.35,169.65 L418.48,169.60 L418.60,169.55 L418.73,169.50 L418.86,169.45 L418.98,169.39 L419.11,169.34 L419.24,169.29 L419.36,169.24 L419.49,169.19 L419.61,169.14 L419.74,169.09 L419.87,169.04 L419.99,168.99 L420.12,168.94 L420.25,168.89 L420.37,168.84 L420.50,168.79 L420.62,168.75 L420.75,168.70 L422.01,168.32 L423.27,168.12 L424.54,168.06 L425.80,168.00 L427.06,167.96 L428.32,167.93 L429.59,167.91 L430.85,167.90 L432.11,167.92 L433.38,167.98 L434.64,168.06 L435.90,168.17 L437.16,168.29 L438.43,168.42 L439.69,168.55 L440.95,168.69 L442.21,168.86 L443.48,169.06 L444.74,169.29 L446.00,169.53 L447.26,169.78 L448.52,170.04 L449.79,170.31 L451.05,170.57 L452.31,170.83 L453.57,171.07 L454.84,171.30 L456.10,171.50 L457.36,171.69 L458.62,171.88 L459.89,172.06 L461.15,172.24 L462.41,172.42 L463.68,172.58 L464.94,172.75 L466.20,172.90 L467.46,173.04 L468.73,173.18 L469.99,173.30 L471.25,173.42 L472.51,173.53 L473.77,173.64 L475.04,173.74 L476.30,173.85 L477.56,173.95 L478.82,174.05 L480.09,174.15 L481.35,174.24 L482.61,174.33 L483.88,174.42 L485.14,174.50 L486.40,174.58 L487.66,174.66 L488.93,174.73 L490.19,174.80 L491.45,174.87 L492.71,174.93 L493.98,174.99 L495.24,175.05 L496.50,175.10 L497.76,175.15 L499.02,175.20 L500.29,175.25 L501.55,175.29 L502.81,175.34 L504.07,175.39 L505.34,175.43 L506.60,175.48 L507.86,175.52 L509.12,175.56 L510.39,175.60 L511.65,175.64 L512.91,175.68 L514.17,175.71 L515.44,175.75 L516.70,175.78 L517.96,175.81 L519.23,175.84 L520.49,175.87 L521.75,175.89 L523.01,175.91 L524.27,175.94 L525.54,175.96 L526.80,175.97 L528.06,175.99 L529.33,176.00 L530.59,176.01 L531.85,176.02 L533.11,176.03 L534.38,176.04 L535.64,176.05 L536.90,176.06 L538.16,176.07 L539.42,176.08 L540.69,176.08 L541.95,176.09 L543.21,176.10 L544.48,176.11 L545.74,176.11 L547.00,176.12 L548.26,176.12 L549.52,176.13 L550.79,176.14 L552.05,176.14 L553.31,176.15 L554.58,176.15 L555.84,176.16 L557.10,176.16 L558.36,176.17 L559.62,176.17 L560.89,176.18 L562.15,176.18 L563.41,176.19 L564.67,176.19 L565.94,176.20 L567.20,176.20 L568.46,176.21 L569.73,176.21 L570.99,176.22 L572.25,176.22 L573.51,176.23 L574.77,176.24 L576.04,176.24 L577.30,176.25 L578.56,176.26 L579.83,176.26 L581.09,176.27 L582.35,176.27 L583.61,176.28 L584.88,176.28 L586.14,176.29 L587.40,176.30 L588.66,176.30 L589.92,176.31 L591.19,176.31 L592.45,176.32 L593.71,176.33 L594.98,176.33 L596.24,176.34 L597.50,176.34 L598.76,176.35 L600.02,176.35 L601.29,176.36 L602.55,176.36 L603.81,176.37 L605.08,176.38 L606.34,176.38 L607.60,176.39 L608.86,176.39 L610.12,176.40 L611.39,176.40 L612.65,176.41 L613.91,176.41 L615.17,176.42 L616.44,176.42 L617.70,176.43 L618.96,176.43 L620.23,176.44 L621.49,176.44 L622.75,176.45" fill="none" stroke="#12ABAF" stroke-width="1.5" stroke-linejoin="round"/>
<path d="M395.50,20.30 L395.63,26.34 L395.75,32.28 L395.88,38.09 L396.00,43.79 L396.13,49.36 L396.26,54.81 L396.38,60.12 L396.51,65.29 L396.64,70.32 L396.76,75.20 L396.89,80.02 L397.01,84.83 L397.14,89.58 L397.27,94.25 L397.39,98.78 L397.52,103.13 L397.65,107.27 L397.77,111.15 L397.90,114.72 L398.02,117.95 L398.15,120.91 L398.28,123.71 L398.40,126.37 L398.53,128.88 L398.66,131.27 L398.78,133.53 L398.91,135.68 L399.04,137.74 L399.16,139.70 L399.29,141.57 L399.41,143.39 L399.54,145.16 L399.67,146.87 L399.79,148.52 L399.92,150.10 L400.05,151.59 L400.17,153.01 L400.30,154.32 L400.42,155.54 L400.55,156.65 L400.68,157.69 L400.80,158.71 L400.93,159.70 L401.06,160.67 L401.18,161.61 L401.31,162.52 L401.43,163.40 L401.56,164.26 L401.69,165.08 L401.81,165.87 L401.94,166.64 L402.06,167.37 L402.19,168.06 L402.32,168.73 L402.44,169.36 L402.57,169.95 L402.70,170.51 L402.82,171.03 L402.95,171.51 L403.07,171.95 L403.20,172.37 L403.33,172.80 L403.45,173.22 L403.58,173.64 L403.71,174.05 L403.83,174.46 L403.96,174.85 L404.08,175.23 L404.21,175.59 L404.34,175.93 L404.46,176.25 L404.59,176.55 L404.72,176.83 L404.84,177.07 L404.97,177.28 L405.10,177.46 L405.22,177.61 L405.35,177.71 L405.47,177.78 L405.60,177.80 L405.73,177.79 L405.85,177.76 L405.98,177.71 L406.11,177.64 L406.23,177.56 L406.36,177.47 L406.48,177.36 L406.61,177.24 L406.74,177.10 L406.86,176.96 L406.99,176.81 L407.12,176.66 L407.24,176.49 L407.37,176.33 L407.49,176.16 L407.62,175.99 L407.75,175.82 L407.87,175.65 L408.00,175.49 L408.12,175.32 L408.25,175.16 L408.38,174.98 L408.50,174.79 L408.63,174.58 L408.76,174.37 L408.88,174.15 L409.01,173.92 L409.13,173.69 L409.26,173.45 L409.39,173.20 L409.51,172.96 L409.64,172.71 L409.77,172.46 L409.89,172.22 L410.02,171.97 L410.14,171.73 L410.27,171.50 L410.40,171.26 L410.52,171.04 L410.65,170.82 L410.78,170.61 L410.90,170.40 L411.03,170.19 L411.15,169.97 L411.28,169.76 L411.41,169.55 L411.53,169.33 L411.66,169.12 L411.79,168.90 L411.91,168.69 L412.04,168.48 L412.17,168.26 L412.29,168.05 L412.42,167.84 L412.54,167.63 L412.67,167.42 L412.80,167.21 L412.92,167.00 L413.05,166.79 L413.18,166.59 L413.30,166.39 L413.43,166.18 L413.55,165.98 L413.68,165.78 L413.81,165.59 L413.93,165.39 L414.06,165.20 L414.19,165.01 L414.31,164.82 L414.44,164.64 L414.56,164.46 L414.69,164.28 L414.82,164.10 L414.94,163.93 L415.07,163.75 L415.19,163.59 L415.32,163.42 L415.45,163.26 L415.57,163.10 L415.70,162.95 L415.83,162.80 L415.95,162.64 L416.08,162.49 L416.20,162.34 L416.33,162.18 L416.46,162.03 L416.58,161.87 L416.71,161.72 L416.84,161.57 L416.96,161.42 L417.09,161.26 L417.21,161.11 L417.34,160.96 L417.47,160.82 L417.59,160.67 L417.72,160.52 L417.85,160.38 L417.97,160.24 L418.10,160.10 L418.23,159.96 L418.35,159.83 L418.48,159.70 L418.60,159.57 L418.73,159.45 L418.86,159.32 L418.98,159.21 L419.11,159.09 L419.24,158.98 L419.36,158.87 L419.49,158.77 L419.61,158.67 L419.74,158.58 L419.87,158.49 L419.99,158.40 L420.12,158.32 L420.25,158.25 L420.37,158.18 L420.50,158.11 L420.62,158.05 L420.75,158.00 L422.01,157.54 L423.27,157.32 L424.54,157.39 L425.80,157.56 L427.06,157.78 L428.32,158.00 L429.59,158.22 L430.85,158.47 L432.11,158.75 L433.38,159.04 L434.64,159.34 L435.90,159.64 L437.16,159.92 L438.43,160.19 L439.69,160.43 L440.95,160.65 L442.21,160.85 L443.48,161.06 L444.74,161.25 L446.00,161.45 L447.26,161.63 L448.52,161.81 L449.79,161.98 L451.05,162.15 L452.31,162.30 L453.57,162.45 L454.84,162.59 L456.10,162.72 L457.36,162.85 L458.62,162.97 L459.89,163.09 L461.15,163.20 L462.41,163.30 L463.68,163.40 L464.94,163.50 L466.20,163.59 L467.46,163.68 L468.73,163.77 L469.99,163.85 L471.25,163.93 L472.51,164.01 L473.77,164.08 L475.04,164.16 L476.30,164.23 L477.56,164.30 L478.82,164.37 L480.09,164.44 L481.35,164.50 L482.61,164.57 L483.88,164.63 L485.14,164.69 L486.40,164.75 L487.66,164.81 L488.93,164.87 L490.19,164.93 L491.45,164.99 L492.71,165.04 L493.98,165.09 L495.24,165.15 L496.50,165.20 L497.76,165.25 L499.02,165.30 L500.29,165.35 L501.55,165.40 L502.81,165.44 L504.07,165.49 L505.34,165.53 L506.60,165.58 L507.86,165.62 L509.12,165.66 L510.39,165.70 L511.65,165.75 L512.91,165.79 L514.17,165.83 L515.44,165.87 L516.70,165.91 L517.96,165.95 L519.23,165.99 L520.49,166.03 L521.75,166.07 L523.01,166.11 L524.27,166.15 L525.54,166.19 L526.80,166.24 L528.06,166.28 L529.33,166.32 L530.59,166.37 L531.85,166.42 L533.11,166.46 L534.38,166.51 L535.64,166.56 L536.90,166.60 L538.16,166.65 L539.42,166.70 L540.69,166.75 L541.95,166.79 L543.21,166.84 L544.48,166.89 L545.74,166.94 L547.00,166.99 L548.26,167.04 L549.52,167.09 L550.79,167.14 L552.05,167.18 L553.31,167.23 L554.58,167.28 L555.84,167.33 L557.10,167.38 L558.36,167.42 L559.62,167.47 L560.89,167.51 L562.15,167.56 L563.41,167.61 L564.67,167.65 L565.94,167.69 L567.20,167.74 L568.46,167.78 L569.73,167.82 L570.99,167.86 L572.25,167.90 L573.51,167.94 L574.77,167.98 L576.04,168.02 L577.30,168.06 L578.56,168.09 L579.83,168.13 L581.09,168.17 L582.35,168.21 L583.61,168.24 L584.88,168.28 L586.14,168.32 L587.40,168.35 L588.66,168.39 L589.92,168.43 L591.19,168.46 L592.45,168.50 L593.71,168.53 L594.98,168.57 L596.24,168.60 L597.50,168.64 L598.76,168.67 L600.02,168.70 L601.29,168.74 L602.55,168.77 L603.81,168.80 L605.08,168.84 L606.34,168.87 L607.60,168.90 L608.86,168.93 L610.12,168.96 L611.39,168.99 L612.65,169.02 L613.91,169.05 L615.17,169.08 L616.44,169.11 L617.70,169.14 L618.96,169.17 L620.23,169.20 L621.49,169.22 L622.75,169.25 L622.75,173.52 L621.49,173.52 L620.23,173.51 L618.96,173.51 L617.70,173.50 L616.44,173.50 L615.17,173.49 L613.91,173.49 L612.65,173.48 L611.39,173.48 L610.12,173.47 L608.86,173.47 L607.60,173.46 L606.34,173.46 L605.08,173.45 L603.81,173.45 L602.55,173.44 L601.29,173.43 L600.02,173.43 L598.76,173.42 L597.50,173.42 L596.24,173.41 L594.98,173.41 L593.71,173.40 L592.45,173.39 L591.19,173.39 L589.92,173.38 L588.66,173.38 L587.40,173.37 L586.14,173.37 L584.88,173.36 L583.61,173.35 L582.35,173.35 L581.09,173.34 L579.83,173.34 L578.56,173.33 L577.30,173.32 L576.04,173.32 L574.77,173.31 L573.51,173.31 L572.25,173.30 L570.99,173.29 L569.73,173.29 L568.46,173.28 L567.20,173.28 L565.94,173.27 L564.67,173.27 L563.41,173.26 L562.15,173.26 L560.89,173.25 L559.62,173.25 L558.36,173.24 L557.10,173.23 L555.84,173.23 L554.58,173.22 L553.31,173.22 L552.05,173.21 L550.79,173.21 L549.52,173.20 L548.26,173.20 L547.00,173.19 L545.74,173.18 L544.48,173.18 L543.21,173.17 L541.95,173.16 L540.69,173.16 L539.42,173.15 L538.16,173.14 L536.90,173.13 L535.64,173.12 L534.38,173.11 L533.11,173.11 L531.85,173.10 L530.59,173.09 L529.33,173.07 L528.06,173.06 L526.80,173.05 L525.54,173.04 L524.27,173.02 L523.01,173.00 L521.75,172.98 L520.49,172.96 L519.23,172.94 L517.96,172.92 L516.70,172.90 L515.44,172.87 L514.17,172.84 L512.91,172.82 L511.65,172.79 L510.39,172.76 L509.12,172.73 L507.86,172.70 L506.60,172.67 L505.34,172.64 L504.07,172.61 L502.81,172.57 L501.55,172.54 L500.29,172.50 L499.02,172.47 L497.76,172.44 L496.50,172.40 L495.24,172.36 L493.98,172.33 L492.71,172.29 L491.45,172.25 L490.19,172.21 L488.93,172.17 L487.66,172.13 L486.40,172.08 L485.14,172.03 L483.88,171.98 L482.61,171.93 L481.35,171.88 L480.09,171.82 L478.82,171.77 L477.56,171.71 L476.30,171.64 L475.04,171.57 L473.77,171.50 L472.51,171.43 L471.25,171.36 L469.99,171.27 L468.73,171.18 L467.46,171.07 L466.20,170.95 L464.94,170.81 L463.68,170.67 L462.41,170.51 L461.15,170.35 L459.89,170.19 L458.62,170.02 L457.36,169.86 L456.10,169.70 L454.84,169.54 L453.57,169.38 L452.31,169.21 L451.05,169.03 L449.79,168.86 L448.52,168.68 L447.26,168.50 L446.00,168.32 L444.74,168.14 L443.48,167.96 L442.21,167.77 L440.95,167.59 L439.69,167.41 L438.43,167.21 L437.16,166.99 L435.90,166.76 L434.64,166.52 L433.38,166.28 L432.11,166.06 L430.85,165.85 L429.59,165.68 L428.32,165.54 L427.06,165.46 L425.80,165.42 L424.54,165.50 L423.27,165.70 L422.01,165.98 L420.75,166.32 L420.62,166.36 L420.50,166.40 L420.37,166.45 L420.25,166.50 L420.12,166.55 L419.99,166.60 L419.87,166.66 L419.74,166.72 L419.61,166.78 L419.49,166.85 L419.36,166.92 L419.24,166.99 L419.11,167.06 L418.98,167.14 L418.86,167.22 L418.73,167.30 L418.60,167.38 L418.48,167.47 L418.35,167.56 L418.23,167.65 L418.10,167.74 L417.97,167.83 L417.85,167.93 L417.72,168.02 L417.59,168.12 L417.47,168.22 L417.34,168.32 L417.21,168.42 L417.09,168.53 L416.96,168.63 L416.84,168.73 L416.71,168.84 L416.58,168.95 L416.46,169.05 L416.33,169.16 L416.20,169.27 L416.08,169.37 L415.95,169.48 L415.83,169.59 L415.70,169.70 L415.57,169.81 L415.45,169.92 L415.32,170.04 L415.19,170.16 L415.07,170.28 L414.94,170.41 L414.82,170.54 L414.69,170.67 L414.56,170.80 L414.44,170.94 L414.31,171.08 L414.19,171.22 L414.06,171.36 L413.93,171.51 L413.81,171.65 L413.68,171.80 L413.55,171.96 L413.43,172.11 L413.30,172.27 L413.18,172.42 L413.05,172.58 L412.92,172.74 L412.80,172.90 L412.67,173.07 L412.54,173.23 L412.42,173.39 L412.29,173.56 L412.17,173.73 L412.04,173.90 L411.91,174.06 L411.79,174.23 L411.66,174.40 L411.53,174.57 L411.41,174.75 L411.28,174.92 L411.15,175.09 L411.03,175.26 L410.90,175.43 L410.78,175.60 L410.65,175.77 L410.52,175.95 L410.40,176.14 L410.27,176.34 L410.14,176.54 L410.02,176.75 L409.89,176.96 L409.77,177.18 L409.64,177.40 L409.51,177.62 L409.39,177.84 L409.26,178.05 L409.13,178.26 L409.01,178.47 L408.88,178.66 L408.76,178.85 L408.63,179.03 L408.50,179.19 L408.38,179.34 L408.25,179.48 L408.12,179.60 L408.00,179.71 L407.87,179.82 L407.75,179.94 L407.62,180.05 L407.49,180.16 L407.37,180.27 L407.24,180.37 L407.12,180.48 L406.99,180.57 L406.86,180.67 L406.74,180.75 L406.61,180.83 L406.48,180.91 L406.36,180.98 L406.23,181.03 L406.11,181.08 L405.98,181.12 L405.85,181.15 L405.73,181.17 L405.60,181.17 L405.47,181.16 L405.35,181.13 L405.22,181.07 L405.10,180.99 L404.97,180.88 L404.84,180.76 L404.72,180.62 L404.59,180.47 L404.46,180.30 L404.34,180.12 L404.21,179.92 L404.08,179.71 L403.96,179.50 L403.83,179.27 L403.71,179.04 L403.58,178.80 L403.45,178.55 L403.33,178.30 L403.20,178.05 L403.07,177.80 L402.95,177.53 L402.82,177.24 L402.70,176.92 L402.57,176.58 L402.44,176.20 L402.32,175.81 L402.19,175.39 L402.06,174.94 L401.94,174.47 L401.81,173.98 L401.69,173.46 L401.56,172.93 L401.43,172.37 L401.31,171.79 L401.18,171.19 L401.06,170.57 L400.93,169.93 L400.80,169.27 L400.68,168.59 L400.55,167.90 L400.42,167.15 L400.30,166.33 L400.17,165.42 L400.05,164.44 L399.92,163.40 L399.79,162.29 L399.67,161.12 L399.54,159.91 L399.41,158.64 L399.29,157.32 L399.16,155.96 L399.04,154.51 L398.91,152.97 L398.78,151.35 L398.66,149.63 L398.53,147.80 L398.40,145.86 L398.28,143.81 L398.15,141.63 L398.02,139.32 L397.90,136.81 L397.77,134.04 L397.65,131.01 L397.52,127.76 L397.39,124.30 L397.27,120.65 L397.14,116.82 L397.01,112.83 L396.89,108.70 L396.76,104.45 L396.64,99.99 L396.51,95.23 L396.38,90.19 L396.26,84.88 L396.13,79.31 L396.00,73.51 L395.88,67.48 L395.75,61.24 L395.63,54.81 L395.50,48.20 Z" fill="none" stroke="#E96C64" stroke-width="0.85" stroke-linejoin="round"/>
<path d="M395.50,25.70 L395.63,33.47 L395.75,41.02 L395.88,48.33 L396.00,55.38 L396.13,62.14 L396.26,68.60 L396.38,74.73 L396.51,80.51 L396.64,85.93 L396.76,90.95 L396.89,95.69 L397.01,100.25 L397.14,104.63 L397.27,108.82 L397.39,112.79 L397.52,116.55 L397.65,120.08 L397.77,123.38 L397.90,126.42 L398.02,129.20 L398.15,131.77 L398.28,134.18 L398.40,136.45 L398.53,138.59 L398.66,140.61 L398.78,142.53 L398.91,144.36 L399.04,146.12 L399.16,147.81 L399.29,149.45 L399.41,151.06 L399.54,152.64 L399.67,154.19 L399.79,155.69 L399.92,157.12 L400.05,158.48 L400.17,159.75 L400.30,160.93 L400.42,162.00 L400.55,162.95 L400.68,163.82 L400.80,164.67 L400.93,165.50 L401.06,166.30 L401.18,167.08 L401.31,167.82 L401.43,168.55 L401.56,169.25 L401.69,169.91 L401.81,170.56 L401.94,171.17 L402.06,171.75 L402.19,172.31 L402.32,172.83 L402.44,173.33 L402.57,173.79 L402.70,174.22 L402.82,174.62 L402.95,174.99 L403.07,175.32 L403.20,175.64 L403.33,175.96 L403.45,176.27 L403.58,176.58 L403.71,176.89 L403.83,177.18 L403.96,177.47 L404.08,177.74 L404.21,178.01 L404.34,178.26 L404.46,178.49 L404.59,178.71 L404.72,178.90 L404.84,179.08 L404.97,179.23 L405.10,179.36 L405.22,179.46 L405.35,179.54 L405.47,179.58 L405.60,179.60 L405.73,179.59 L405.85,179.57 L405.98,179.53 L406.11,179.48 L406.23,179.41 L406.36,179.34 L406.48,179.25 L406.61,179.16 L406.74,179.05 L406.86,178.94 L406.99,178.82 L407.12,178.69 L407.24,178.56 L407.37,178.42 L407.49,178.28 L407.62,178.14 L407.75,178.00 L407.87,177.86 L408.00,177.72 L408.12,177.57 L408.25,177.43 L408.38,177.26 L408.50,177.07 L408.63,176.87 L408.76,176.66 L408.88,176.43 L409.01,176.20 L409.13,175.95 L409.26,175.70 L409.39,175.45 L409.51,175.19 L409.64,174.94 L409.77,174.68 L409.89,174.43 L410.02,174.18 L410.14,173.94 L410.27,173.70 L410.40,173.48 L410.52,173.27 L410.65,173.07 L410.78,172.89 L410.90,172.70 L411.03,172.51 L411.15,172.32 L411.28,172.14 L411.41,171.95 L411.53,171.77 L411.66,171.59 L411.79,171.40 L411.91,171.22 L412.04,171.05 L412.17,170.87 L412.29,170.69 L412.42,170.52 L412.54,170.34 L412.67,170.17 L412.80,170.00 L412.92,169.83 L413.05,169.67 L413.18,169.50 L413.30,169.34 L413.43,169.18 L413.55,169.03 L413.68,168.87 L413.81,168.72 L413.93,168.57 L414.06,168.42 L414.19,168.28 L414.31,168.13 L414.44,168.00 L414.56,167.86 L414.69,167.73 L414.82,167.60 L414.94,167.47 L415.07,167.34 L415.19,167.22 L415.32,167.11 L415.45,166.99 L415.57,166.88 L415.70,166.77 L415.83,166.67 L415.95,166.57 L416.08,166.46 L416.20,166.36 L416.33,166.25 L416.46,166.15 L416.58,166.05 L416.71,165.95 L416.84,165.84 L416.96,165.74 L417.09,165.65 L417.21,165.55 L417.34,165.45 L417.47,165.35 L417.59,165.26 L417.72,165.17 L417.85,165.08 L417.97,164.99 L418.10,164.90 L418.23,164.81 L418.35,164.73 L418.48,164.65 L418.60,164.57 L418.73,164.49 L418.86,164.42 L418.98,164.34 L419.11,164.27 L419.24,164.20 L419.36,164.14 L419.49,164.08 L419.61,164.02 L419.74,163.96 L419.87,163.91 L419.99,163.86 L420.12,163.81 L420.25,163.77 L420.37,163.72 L420.50,163.69 L420.62,163.65 L420.75,163.62 L422.01,163.36 L423.27,163.15 L424.54,163.00 L425.80,162.95 L427.06,163.02 L428.32,163.20 L429.59,163.46 L430.85,163.75 L432.11,164.05 L433.38,164.30 L434.64,164.53 L435.90,164.78 L437.16,165.01 L438.43,165.23 L439.69,165.40 L440.95,165.53 L442.21,165.64 L443.48,165.74 L444.74,165.84 L446.00,165.92 L447.26,166.00 L448.52,166.08 L449.79,166.15 L451.05,166.22 L452.31,166.30 L453.57,166.38 L454.84,166.46 L456.10,166.55 L457.36,166.65 L458.62,166.75 L459.89,166.86 L461.15,166.97 L462.41,167.08 L463.68,167.19 L464.94,167.29 L466.20,167.40 L467.46,167.50 L468.73,167.59 L469.99,167.67 L471.25,167.75 L472.51,167.83 L473.77,167.91 L475.04,167.98 L476.30,168.06 L477.56,168.13 L478.82,168.20 L480.09,168.26 L481.35,168.33 L482.61,168.39 L483.88,168.46 L485.14,168.52 L486.40,168.58 L487.66,168.64 L488.93,168.70 L490.19,168.75 L491.45,168.81 L492.71,168.87 L493.98,168.92 L495.24,168.97 L496.50,169.02 L497.76,169.08 L499.02,169.13 L500.29,169.18 L501.55,169.23 L502.81,169.28 L504.07,169.33 L505.34,169.37 L506.60,169.42 L507.86,169.47 L509.12,169.51 L510.39,169.56 L511.65,169.60 L512.91,169.65 L514.17,169.69 L515.44,169.73 L516.70,169.78 L517.96,169.82 L519.23,169.86 L520.49,169.90 L521.75,169.94 L523.01,169.97 L524.27,170.01 L525.54,170.05 L526.80,170.08 L528.06,170.12 L529.33,170.15 L530.59,170.18 L531.85,170.22 L533.11,170.25 L534.38,170.28 L535.64,170.31 L536.90,170.34 L538.16,170.37 L539.42,170.40 L540.69,170.42 L541.95,170.45 L543.21,170.48 L544.48,170.51 L545.74,170.53 L547.00,170.56 L548.26,170.59 L549.52,170.61 L550.79,170.64 L552.05,170.66 L553.31,170.69 L554.58,170.71 L555.84,170.74 L557.10,170.76 L558.36,170.79 L559.62,170.81 L560.89,170.83 L562.15,170.86 L563.41,170.88 L564.67,170.91 L565.94,170.93 L567.20,170.95 L568.46,170.98 L569.73,171.00 L570.99,171.03 L572.25,171.05 L573.51,171.07 L574.77,171.10 L576.04,171.12 L577.30,171.15 L578.56,171.17 L579.83,171.19 L581.09,171.22 L582.35,171.24 L583.61,171.27 L584.88,171.29 L586.14,171.31 L587.40,171.34 L588.66,171.36 L589.92,171.38 L591.19,171.41 L592.45,171.43 L593.71,171.45 L594.98,171.47 L596.24,171.50 L597.50,171.52 L598.76,171.54 L600.02,171.57 L601.29,171.59 L602.55,171.61 L603.81,171.63 L605.08,171.65 L606.34,171.68 L607.60,171.70 L608.86,171.72 L610.12,171.74 L611.39,171.76 L612.65,171.78 L613.91,171.80 L615.17,171.83 L616.44,171.85 L617.70,171.87 L618.96,171.89 L620.23,171.91 L621.49,171.93 L622.75,171.95" fill="none" stroke="#E96C64" stroke-width="1.5" stroke-linejoin="round"/>
<rect x="384.4" y="12.8" width="249.70000000000005" height="176.6" fill="none" stroke="#858585" stroke-width="1"/>
<line x1="395.50" y1="189.4" x2="395.50" y2="192.0" stroke="#444" stroke-width="0.9"/>
<text x="395.50" y="199.00" text-anchor="middle" font-size="7.4" fill="#444" stroke="#444" stroke-width="0.15">0</text>
<line x1="458.62" y1="189.4" x2="458.62" y2="192.0" stroke="#444" stroke-width="0.9"/>
<text x="458.62" y="199.00" text-anchor="middle" font-size="7.4" fill="#444" stroke="#444" stroke-width="0.15">25</text>
<line x1="521.75" y1="189.4" x2="521.75" y2="192.0" stroke="#444" stroke-width="0.9"/>
<text x="521.75" y="199.00" text-anchor="middle" font-size="7.4" fill="#444" stroke="#444" stroke-width="0.15">50</text>
<line x1="584.88" y1="189.4" x2="584.88" y2="192.0" stroke="#444" stroke-width="0.9"/>
<text x="584.88" y="199.00" text-anchor="middle" font-size="7.4" fill="#444" stroke="#444" stroke-width="0.15">75</text>
<line x1="381.79999999999995" y1="147.20" x2="384.4" y2="147.20" stroke="#444" stroke-width="0.9"/>
<text x="380.2" y="149.70" text-anchor="end" font-size="7.4" fill="#444" stroke="#444" stroke-width="0.15">20</text>
<line x1="381.79999999999995" y1="102.20" x2="384.4" y2="102.20" stroke="#444" stroke-width="0.9"/>
<text x="380.2" y="104.70" text-anchor="end" font-size="7.4" fill="#444" stroke="#444" stroke-width="0.15">40</text>
<line x1="381.79999999999995" y1="57.20" x2="384.4" y2="57.20" stroke="#444" stroke-width="0.9"/>
<text x="380.2" y="59.70" text-anchor="end" font-size="7.4" fill="#444" stroke="#444" stroke-width="0.15">60</text>
<text x="509.25" y="210.00" text-anchor="middle" font-size="8.7" fill="#000" stroke="#000" stroke-width="0.15">Days</text>
<text transform="translate(361.6,101.70) rotate(-90)" text-anchor="middle" font-size="9.4" fill="#000" stroke="#000" stroke-width="0.15">WBC (10<tspan font-size="6.9" dy="-3.8">9</tspan><tspan dy="3.8">/L)</tspan></text>
<text x="646.3" y="90.00" font-size="8.9" fill="#000" stroke="#000" stroke-width="0.15">Sepsis</text>
<rect x="646.6" y="94.30" width="12" height="11.6" fill="#F8766D" fill-opacity="0.28" stroke="#F8766D" stroke-opacity="0.75" stroke-width="0.9"/>
<line x1="646.6" y1="100.10" x2="658.6" y2="100.10" stroke="#F8766D" stroke-width="1.4"/>
<text x="660.8" y="103.10" font-size="7.8" fill="#000" stroke="#000" stroke-width="0.15">Yes</text>
<rect x="646.6" y="106.70" width="12" height="11.6" fill="#00BFC4" fill-opacity="0.28" stroke="#00BFC4" stroke-opacity="0.75" stroke-width="0.9"/>
<line x1="646.6" y1="112.50" x2="658.6" y2="112.50" stroke="#00BFC4" stroke-width="1.4"/>
<text x="660.8" y="115.00" font-size="7.8" fill="#000" stroke="#000" stroke-width="0.15">No</text>
<rect x="384.3" y="311.3" width="249.3" height="176.0" fill="#fff"/>
<line x1="427.06" y1="311.3" x2="427.06" y2="487.3" stroke="#f4f4f4" stroke-width="0.6"/>
<line x1="490.19" y1="311.3" x2="490.19" y2="487.3" stroke="#f4f4f4" stroke-width="0.6"/>
<line x1="553.31" y1="311.3" x2="553.31" y2="487.3" stroke="#f4f4f4" stroke-width="0.6"/>
<line x1="616.44" y1="311.3" x2="616.44" y2="487.3" stroke="#f4f4f4" stroke-width="0.6"/>
<line x1="384.3" y1="465.15" x2="633.6" y2="465.15" stroke="#f4f4f4" stroke-width="0.6"/>
<line x1="384.3" y1="411.85" x2="633.6" y2="411.85" stroke="#f4f4f4" stroke-width="0.6"/>
<line x1="384.3" y1="358.55" x2="633.6" y2="358.55" stroke="#f4f4f4" stroke-width="0.6"/>
<line x1="395.50" y1="311.3" x2="395.50" y2="487.3" stroke="#ebebeb" stroke-width="1"/>
<line x1="458.62" y1="311.3" x2="458.62" y2="487.3" stroke="#ebebeb" stroke-width="1"/>
<line x1="521.75" y1="311.3" x2="521.75" y2="487.3" stroke="#ebebeb" stroke-width="1"/>
<line x1="584.88" y1="311.3" x2="584.88" y2="487.3" stroke="#ebebeb" stroke-width="1"/>
<line x1="384.3" y1="438.50" x2="633.6" y2="438.50" stroke="#ebebeb" stroke-width="1"/>
<line x1="384.3" y1="385.20" x2="633.6" y2="385.20" stroke="#ebebeb" stroke-width="1"/>
<line x1="384.3" y1="331.90" x2="633.6" y2="331.90" stroke="#ebebeb" stroke-width="1"/>
<path d="M395.50,321.24 L395.63,325.01 L395.75,328.74 L395.88,332.42 L396.00,336.04 L396.13,339.61 L396.26,343.12 L396.38,346.57 L396.51,349.97 L396.64,353.30 L396.76,356.56 L396.89,359.76 L397.01,362.89 L397.14,365.95 L397.27,368.94 L397.39,371.85 L397.52,374.68 L397.65,377.43 L397.77,380.11 L397.90,382.70 L398.02,385.20 L398.15,387.64 L398.28,390.05 L398.40,392.42 L398.53,394.75 L398.66,397.04 L398.78,399.29 L398.91,401.49 L399.04,403.64 L399.16,405.75 L399.29,407.81 L399.41,409.81 L399.54,411.76 L399.67,413.65 L399.79,415.49 L399.92,417.26 L400.05,418.97 L400.17,420.62 L400.30,422.21 L400.42,423.73 L400.55,425.18 L400.68,426.57 L400.80,427.94 L400.93,429.28 L401.06,430.59 L401.18,431.87 L401.31,433.12 L401.43,434.33 L401.56,435.52 L401.69,436.67 L401.81,437.78 L401.94,438.87 L402.06,439.92 L402.19,440.93 L402.32,441.91 L402.44,442.86 L402.57,443.76 L402.70,444.64 L402.82,445.47 L402.95,446.27 L403.07,447.03 L403.20,447.76 L403.33,448.48 L403.45,449.17 L403.58,449.86 L403.71,450.52 L403.83,451.17 L403.96,451.80 L404.08,452.41 L404.21,453.00 L404.34,453.57 L404.46,454.13 L404.59,454.66 L404.72,455.18 L404.84,455.67 L404.97,456.15 L405.10,456.61 L405.22,457.04 L405.35,457.46 L405.47,457.85 L405.60,458.22 L405.73,458.58 L405.85,458.94 L405.98,459.29 L406.11,459.64 L406.23,459.99 L406.36,460.32 L406.48,460.65 L406.61,460.97 L406.74,461.27 L406.86,461.57 L406.99,461.85 L407.12,462.11 L407.24,462.36 L407.37,462.59 L407.49,462.81 L407.62,463.00 L407.75,463.17 L407.87,463.32 L408.00,463.45 L408.12,463.55 L408.25,463.64 L408.38,463.72 L408.50,463.81 L408.63,463.89 L408.76,463.97 L408.88,464.04 L409.01,464.11 L409.13,464.18 L409.26,464.25 L409.39,464.31 L409.51,464.36 L409.64,464.41 L409.77,464.46 L409.89,464.50 L410.02,464.53 L410.14,464.56 L410.27,464.59 L410.40,464.60 L410.52,464.61 L410.65,464.62 L410.78,464.61 L410.90,464.59 L411.03,464.56 L411.15,464.52 L411.28,464.47 L411.41,464.41 L411.53,464.35 L411.66,464.27 L411.79,464.19 L411.91,464.10 L412.04,464.01 L412.17,463.91 L412.29,463.80 L412.42,463.70 L412.54,463.59 L412.67,463.48 L412.80,463.36 L412.92,463.25 L413.05,463.13 L413.18,463.02 L413.30,462.90 L413.43,462.77 L413.55,462.63 L413.68,462.48 L413.81,462.32 L413.93,462.16 L414.06,461.98 L414.19,461.80 L414.31,461.60 L414.44,461.40 L414.56,461.20 L414.69,460.98 L414.82,460.76 L414.94,460.53 L415.07,460.30 L415.19,460.06 L415.32,459.81 L415.45,459.56 L415.57,459.31 L415.70,459.05 L415.83,458.78 L415.95,458.52 L416.08,458.25 L416.20,457.97 L416.33,457.69 L416.46,457.41 L416.58,457.13 L416.71,456.85 L416.84,456.56 L416.96,456.28 L417.09,455.99 L417.21,455.70 L417.34,455.42 L417.47,455.13 L417.59,454.84 L417.72,454.56 L417.85,454.27 L417.97,453.99 L418.10,453.70 L418.23,453.42 L418.35,453.14 L418.48,452.85 L418.60,452.56 L418.73,452.26 L418.86,451.95 L418.98,451.64 L419.11,451.33 L419.24,451.01 L419.36,450.69 L419.49,450.36 L419.61,450.03 L419.74,449.69 L419.87,449.35 L419.99,449.01 L420.12,448.67 L420.25,448.32 L420.37,447.98 L420.50,447.63 L420.62,447.28 L420.75,446.93 L422.01,443.41 L423.27,440.10 L424.54,436.86 L425.80,433.59 L427.06,430.65 L428.32,428.37 L429.59,426.63 L430.85,425.11 L432.11,423.89 L433.38,423.04 L434.64,422.42 L435.90,422.02 L437.16,422.05 L438.43,422.42 L439.69,422.97 L440.95,423.58 L442.21,424.24 L443.48,425.05 L444.74,425.98 L446.00,426.98 L447.26,428.03 L448.52,429.08 L449.79,430.09 L451.05,431.04 L452.31,431.96 L453.57,432.93 L454.84,433.90 L456.10,434.85 L457.36,435.77 L458.62,436.61 L459.89,437.35 L461.15,437.97 L462.41,438.48 L463.68,438.94 L464.94,439.35 L466.20,439.72 L467.46,440.08 L468.73,440.43 L469.99,440.79 L471.25,441.17 L472.51,441.56 L473.77,441.96 L475.04,442.35 L476.30,442.74 L477.56,443.12 L478.82,443.49 L480.09,443.83 L481.35,444.16 L482.61,444.48 L483.88,444.80 L485.14,445.11 L486.40,445.41 L487.66,445.70 L488.93,445.99 L490.19,446.27 L491.45,446.54 L492.71,446.81 L493.98,447.07 L495.24,447.32 L496.50,447.56 L497.76,447.80 L499.02,448.03 L500.29,448.26 L501.55,448.48 L502.81,448.70 L504.07,448.92 L505.34,449.13 L506.60,449.34 L507.86,449.54 L509.12,449.74 L510.39,449.94 L511.65,450.13 L512.91,450.32 L514.17,450.50 L515.44,450.68 L516.70,450.85 L517.96,451.03 L519.23,451.19 L520.49,451.36 L521.75,451.52 L523.01,451.67 L524.27,451.83 L525.54,451.98 L526.80,452.12 L528.06,452.27 L529.33,452.41 L530.59,452.54 L531.85,452.68 L533.11,452.81 L534.38,452.94 L535.64,453.06 L536.90,453.19 L538.16,453.31 L539.42,453.42 L540.69,453.54 L541.95,453.65 L543.21,453.76 L544.48,453.86 L545.74,453.96 L547.00,454.06 L548.26,454.16 L549.52,454.26 L550.79,454.35 L552.05,454.45 L553.31,454.54 L554.58,454.64 L555.84,454.73 L557.10,454.83 L558.36,454.92 L559.62,455.02 L560.89,455.13 L562.15,455.24 L563.41,455.36 L564.67,455.48 L565.94,455.59 L567.20,455.69 L568.46,455.77 L569.73,455.82 L570.99,455.86 L572.25,455.90 L573.51,455.94 L574.77,455.97 L576.04,456.00 L577.30,456.03 L578.56,456.05 L579.83,456.08 L581.09,456.10 L582.35,456.12 L583.61,456.14 L584.88,456.16 L586.14,456.17 L587.40,456.19 L588.66,456.21 L589.92,456.23 L591.19,456.25 L592.45,456.27 L593.71,456.29 L594.98,456.31 L596.24,456.33 L597.50,456.36 L598.76,456.38 L600.02,456.41 L601.29,456.43 L602.55,456.46 L603.81,456.48 L605.08,456.51 L606.34,456.54 L607.60,456.56 L608.86,456.59 L610.12,456.62 L611.39,456.64 L612.65,456.67 L613.91,456.70 L615.17,456.72 L616.44,456.75 L617.70,456.78 L618.96,456.81 L620.23,456.83 L621.49,456.86 L622.75,456.89 L622.75,469.41 L621.49,469.33 L620.23,469.25 L618.96,469.17 L617.70,469.08 L616.44,469.00 L615.17,468.92 L613.91,468.84 L612.65,468.76 L611.39,468.68 L610.12,468.60 L608.86,468.52 L607.60,468.44 L606.34,468.36 L605.08,468.28 L603.81,468.20 L602.55,468.12 L601.29,468.05 L600.02,467.97 L598.76,467.89 L597.50,467.81 L596.24,467.74 L594.98,467.66 L593.71,467.59 L592.45,467.51 L591.19,467.44 L589.92,467.36 L588.66,467.29 L587.40,467.22 L586.14,467.14 L584.88,467.07 L583.61,467.00 L582.35,466.92 L581.09,466.85 L579.83,466.78 L578.56,466.71 L577.30,466.64 L576.04,466.57 L574.77,466.49 L573.51,466.42 L572.25,466.35 L570.99,466.29 L569.73,466.22 L568.46,466.15 L567.20,466.08 L565.94,466.02 L564.67,465.96 L563.41,465.89 L562.15,465.83 L560.89,465.76 L559.62,465.68 L558.36,465.60 L557.10,465.52 L555.84,465.44 L554.58,465.35 L553.31,465.25 L552.05,465.16 L550.79,465.06 L549.52,464.96 L548.26,464.86 L547.00,464.76 L545.74,464.65 L544.48,464.55 L543.21,464.44 L541.95,464.33 L540.69,464.22 L539.42,464.11 L538.16,464.00 L536.90,463.89 L535.64,463.78 L534.38,463.67 L533.11,463.56 L531.85,463.45 L530.59,463.34 L529.33,463.23 L528.06,463.12 L526.80,463.02 L525.54,462.92 L524.27,462.81 L523.01,462.71 L521.75,462.62 L520.49,462.52 L519.23,462.43 L517.96,462.34 L516.70,462.25 L515.44,462.17 L514.17,462.09 L512.91,462.00 L511.65,461.92 L510.39,461.84 L509.12,461.76 L507.86,461.68 L506.60,461.60 L505.34,461.52 L504.07,461.44 L502.81,461.35 L501.55,461.27 L500.29,461.18 L499.02,461.08 L497.76,460.99 L496.50,460.89 L495.24,460.78 L493.98,460.69 L492.71,460.59 L491.45,460.48 L490.19,460.38 L488.93,460.27 L487.66,460.16 L486.40,460.04 L485.14,459.91 L483.88,459.77 L482.61,459.62 L481.35,459.46 L480.09,459.29 L478.82,459.07 L477.56,458.81 L476.30,458.50 L475.04,458.17 L473.77,457.83 L472.51,457.48 L471.25,457.16 L469.99,456.84 L468.73,456.53 L467.46,456.23 L466.20,455.91 L464.94,455.59 L463.68,455.25 L462.41,454.88 L461.15,454.49 L459.89,454.05 L458.62,453.56 L457.36,453.04 L456.10,452.48 L454.84,451.91 L453.57,451.34 L452.31,450.77 L451.05,450.23 L449.79,449.70 L448.52,449.19 L447.26,448.68 L446.00,448.16 L444.74,447.64 L443.48,447.11 L442.21,446.55 L440.95,445.96 L439.69,445.18 L438.43,444.34 L437.16,443.85 L435.90,443.89 L434.64,444.09 L433.38,444.36 L432.11,444.76 L430.85,445.37 L429.59,446.14 L428.32,447.03 L427.06,448.20 L425.80,449.76 L424.54,451.55 L423.27,453.42 L422.01,455.51 L420.75,457.87 L420.62,458.11 L420.50,458.35 L420.37,458.60 L420.25,458.84 L420.12,459.08 L419.99,459.32 L419.87,459.56 L419.74,459.80 L419.61,460.03 L419.49,460.27 L419.36,460.50 L419.24,460.74 L419.11,460.96 L418.98,461.19 L418.86,461.41 L418.73,461.64 L418.60,461.85 L418.48,462.07 L418.35,462.28 L418.23,462.49 L418.10,462.69 L417.97,462.90 L417.85,463.11 L417.72,463.32 L417.59,463.53 L417.47,463.74 L417.34,463.96 L417.21,464.17 L417.09,464.39 L416.96,464.60 L416.84,464.82 L416.71,465.03 L416.58,465.24 L416.46,465.46 L416.33,465.67 L416.20,465.88 L416.08,466.09 L415.95,466.29 L415.83,466.50 L415.70,466.70 L415.57,466.90 L415.45,467.10 L415.32,467.30 L415.19,467.49 L415.07,467.68 L414.94,467.86 L414.82,468.04 L414.69,468.22 L414.56,468.39 L414.44,468.56 L414.31,468.73 L414.19,468.88 L414.06,469.04 L413.93,469.19 L413.81,469.33 L413.68,469.46 L413.55,469.59 L413.43,469.72 L413.30,469.84 L413.18,469.95 L413.05,470.06 L412.92,470.17 L412.80,470.28 L412.67,470.39 L412.54,470.50 L412.42,470.61 L412.29,470.71 L412.17,470.82 L412.04,470.92 L411.91,471.01 L411.79,471.10 L411.66,471.19 L411.53,471.27 L411.41,471.34 L411.28,471.40 L411.15,471.45 L411.03,471.49 L410.90,471.52 L410.78,471.54 L410.65,471.55 L410.52,471.54 L410.40,471.53 L410.27,471.51 L410.14,471.49 L410.02,471.46 L409.89,471.42 L409.77,471.38 L409.64,471.33 L409.51,471.28 L409.39,471.23 L409.26,471.17 L409.13,471.10 L409.01,471.03 L408.88,470.96 L408.76,470.89 L408.63,470.81 L408.50,470.73 L408.38,470.65 L408.25,470.56 L408.12,470.48 L408.00,470.39 L407.87,470.28 L407.75,470.15 L407.62,470.01 L407.49,469.86 L407.37,469.69 L407.24,469.50 L407.12,469.31 L406.99,469.10 L406.86,468.88 L406.74,468.66 L406.61,468.42 L406.48,468.17 L406.36,467.91 L406.23,467.65 L406.11,467.37 L405.98,467.09 L405.85,466.81 L405.73,466.51 L405.60,466.22 L405.47,465.90 L405.35,465.57 L405.22,465.21 L405.10,464.83 L404.97,464.42 L404.84,464.00 L404.72,463.55 L404.59,463.08 L404.46,462.60 L404.34,462.09 L404.21,461.57 L404.08,461.02 L403.96,460.46 L403.83,459.88 L403.71,459.29 L403.58,458.68 L403.45,458.05 L403.33,457.41 L403.20,456.76 L403.07,456.09 L402.95,455.40 L402.82,454.67 L402.70,453.91 L402.57,453.11 L402.44,452.29 L402.32,451.42 L402.19,450.53 L402.06,449.60 L401.94,448.63 L401.81,447.63 L401.69,446.60 L401.56,445.54 L401.43,444.44 L401.31,443.31 L401.18,442.15 L401.06,440.95 L400.93,439.72 L400.80,438.46 L400.68,437.16 L400.55,435.84 L400.42,434.45 L400.30,432.98 L400.17,431.43 L400.05,429.81 L399.92,428.11 L399.79,426.35 L399.67,424.51 L399.54,422.62 L399.41,420.66 L399.29,418.64 L399.16,416.56 L399.04,414.43 L398.91,412.26 L398.78,410.03 L398.66,407.76 L398.53,405.45 L398.40,403.11 L398.28,400.72 L398.15,398.31 L398.02,395.86 L397.90,393.36 L397.77,390.77 L397.65,388.09 L397.52,385.34 L397.39,382.51 L397.27,379.60 L397.14,376.61 L397.01,373.55 L396.89,370.42 L396.76,367.22 L396.64,363.96 L396.51,360.63 L396.38,357.23 L396.26,353.78 L396.13,350.27 L396.00,346.70 L395.88,343.08 L395.75,339.40 L395.63,335.67 L395.50,331.90 Z" fill="#F8766D" fill-opacity="0.22" stroke="none"/>
<path d="M395.50,318.04 L395.63,322.05 L395.75,326.01 L395.88,329.91 L396.00,333.76 L396.13,337.54 L396.26,341.26 L396.38,344.91 L396.51,348.50 L396.64,352.01 L396.76,355.45 L396.89,358.81 L397.01,362.10 L397.14,365.30 L397.27,368.41 L397.39,371.44 L397.52,374.38 L397.65,377.23 L397.77,379.99 L397.90,382.64 L398.02,385.20 L398.15,387.69 L398.28,390.14 L398.40,392.55 L398.53,394.91 L398.66,397.23 L398.78,399.51 L398.91,401.73 L399.04,403.91 L399.16,406.03 L399.29,408.09 L399.41,410.10 L399.54,412.04 L399.67,413.93 L399.79,415.75 L399.92,417.50 L400.05,419.18 L400.17,420.79 L400.30,422.33 L400.42,423.79 L400.55,425.18 L400.68,426.50 L400.80,427.80 L400.93,429.06 L401.06,430.29 L401.18,431.49 L401.31,432.65 L401.43,433.78 L401.56,434.88 L401.69,435.94 L401.81,436.97 L401.94,437.97 L402.06,438.94 L402.19,439.87 L402.32,440.76 L402.44,441.63 L402.57,442.45 L402.70,443.25 L402.82,444.01 L402.95,444.74 L403.07,445.43 L403.20,446.10 L403.33,446.75 L403.45,447.39 L403.58,448.02 L403.71,448.63 L403.83,449.22 L403.96,449.80 L404.08,450.36 L404.21,450.91 L404.34,451.43 L404.46,451.94 L404.59,452.42 L404.72,452.89 L404.84,453.34 L404.97,453.76 L405.10,454.17 L405.22,454.55 L405.35,454.91 L405.47,455.24 L405.60,455.56 L405.73,455.85 L405.85,456.14 L405.98,456.42 L406.11,456.69 L406.23,456.96 L406.36,457.21 L406.48,457.46 L406.61,457.70 L406.74,457.93 L406.86,458.15 L406.99,458.36 L407.12,458.56 L407.24,458.75 L407.37,458.94 L407.49,459.11 L407.62,459.27 L407.75,459.42 L407.87,459.57 L408.00,459.70 L408.12,459.82 L408.25,459.94 L408.38,460.05 L408.50,460.17 L408.63,460.28 L408.76,460.40 L408.88,460.51 L409.01,460.61 L409.13,460.72 L409.26,460.82 L409.39,460.91 L409.51,461.00 L409.64,461.08 L409.77,461.15 L409.89,461.22 L410.02,461.28 L410.14,461.33 L410.27,461.37 L410.40,461.40 L410.52,461.41 L410.65,461.42 L410.78,461.41 L410.90,461.39 L411.03,461.37 L411.15,461.33 L411.28,461.28 L411.41,461.22 L411.53,461.15 L411.66,461.07 L411.79,460.99 L411.91,460.90 L412.04,460.81 L412.17,460.71 L412.29,460.61 L412.42,460.50 L412.54,460.39 L412.67,460.28 L412.80,460.16 L412.92,460.05 L413.05,459.93 L413.18,459.82 L413.30,459.70 L413.43,459.57 L413.55,459.43 L413.68,459.29 L413.81,459.13 L413.93,458.96 L414.06,458.79 L414.19,458.61 L414.31,458.42 L414.44,458.22 L414.56,458.02 L414.69,457.80 L414.82,457.59 L414.94,457.36 L415.07,457.13 L415.19,456.89 L415.32,456.65 L415.45,456.40 L415.57,456.15 L415.70,455.89 L415.83,455.63 L415.95,455.37 L416.08,455.10 L416.20,454.82 L416.33,454.55 L416.46,454.27 L416.58,453.99 L416.71,453.70 L416.84,453.42 L416.96,453.13 L417.09,452.84 L417.21,452.55 L417.34,452.26 L417.47,451.97 L417.59,451.68 L417.72,451.39 L417.85,451.09 L417.97,450.80 L418.10,450.51 L418.23,450.23 L418.35,449.93 L418.48,449.63 L418.60,449.32 L418.73,449.01 L418.86,448.68 L418.98,448.35 L419.11,448.01 L419.24,447.67 L419.36,447.32 L419.49,446.96 L419.61,446.60 L419.74,446.24 L419.87,445.87 L419.99,445.50 L420.12,445.12 L420.25,444.74 L420.37,444.36 L420.50,443.98 L420.62,443.59 L420.75,443.21 L422.01,439.36 L423.27,435.84 L424.54,432.47 L425.80,429.12 L427.06,426.20 L428.32,424.11 L429.59,422.60 L430.85,421.40 L432.11,420.91 L433.38,421.34 L434.64,422.37 L435.90,423.58 L437.16,424.99 L438.43,426.77 L439.69,428.68 L440.95,430.50 L442.21,432.23 L443.48,433.98 L444.74,435.74 L446.00,437.48 L447.26,439.18 L448.52,440.82 L449.79,442.38 L451.05,443.83 L452.31,445.22 L453.57,446.60 L454.84,447.94 L456.10,449.22 L457.36,450.43 L458.62,451.55 L459.89,452.55 L461.15,453.42 L462.41,454.20 L463.68,454.94 L464.94,455.62 L466.20,456.26 L467.46,456.84 L468.73,457.36 L469.99,457.82 L471.25,458.22 L472.51,458.59 L473.77,458.95 L475.04,459.30 L476.30,459.65 L477.56,460.00 L478.82,460.33 L480.09,460.65 L481.35,460.96 L482.61,461.25 L483.88,461.53 L485.14,461.79 L486.40,462.03 L487.66,462.25 L488.93,462.44 L490.19,462.61 L491.45,462.75 L492.71,462.87 L493.98,462.95 L495.24,463.00 L496.50,463.02 L497.76,463.02 L499.02,463.02 L500.29,463.02 L501.55,463.02 L502.81,463.02 L504.07,463.02 L505.34,463.02 L506.60,463.02 L507.86,463.02 L509.12,463.02 L510.39,463.02 L511.65,463.02 L512.91,463.02 L514.17,463.02 L515.44,463.02 L516.70,463.02 L517.96,463.02 L519.23,463.02 L520.49,463.02 L521.75,463.01 L523.01,463.00 L524.27,462.98 L525.54,462.95 L526.80,462.92 L528.06,462.88 L529.33,462.84 L530.59,462.80 L531.85,462.75 L533.11,462.69 L534.38,462.63 L535.64,462.57 L536.90,462.51 L538.16,462.44 L539.42,462.38 L540.69,462.31 L541.95,462.24 L543.21,462.17 L544.48,462.09 L545.74,462.02 L547.00,461.95 L548.26,461.88 L549.52,461.79 L550.79,461.70 L552.05,461.60 L553.31,461.50 L554.58,461.38 L555.84,461.27 L557.10,461.14 L558.36,461.02 L559.62,460.89 L560.89,460.76 L562.15,460.63 L563.41,460.49 L564.67,460.35 L565.94,460.22 L567.20,460.08 L568.46,459.95 L569.73,459.82 L570.99,459.69 L572.25,459.56 L573.51,459.42 L574.77,459.29 L576.04,459.15 L577.30,459.01 L578.56,458.87 L579.83,458.73 L581.09,458.59 L582.35,458.44 L583.61,458.30 L584.88,458.15 L586.14,458.00 L587.40,457.86 L588.66,457.70 L589.92,457.55 L591.19,457.40 L592.45,457.25 L593.71,457.09 L594.98,456.94 L596.24,456.78 L597.50,456.62 L598.76,456.46 L600.02,456.30 L601.29,456.14 L602.55,455.98 L603.81,455.81 L605.08,455.64 L606.34,455.47 L607.60,455.30 L608.86,455.13 L610.12,454.96 L611.39,454.79 L612.65,454.61 L613.91,454.43 L615.17,454.25 L616.44,454.07 L617.70,453.89 L618.96,453.71 L620.23,453.53 L621.49,453.34 L622.75,453.16 L622.75,473.68 L621.49,473.72 L620.23,473.76 L618.96,473.80 L617.70,473.84 L616.44,473.88 L615.17,473.93 L613.91,473.97 L612.65,474.01 L611.39,474.05 L610.12,474.09 L608.86,474.13 L607.60,474.17 L606.34,474.21 L605.08,474.25 L603.81,474.28 L602.55,474.32 L601.29,474.36 L600.02,474.40 L598.76,474.44 L597.50,474.48 L596.24,474.51 L594.98,474.55 L593.71,474.58 L592.45,474.61 L591.19,474.64 L589.92,474.67 L588.66,474.69 L587.40,474.72 L586.14,474.74 L584.88,474.77 L583.61,474.80 L582.35,474.83 L581.09,474.86 L579.83,474.89 L578.56,474.93 L577.30,474.97 L576.04,475.01 L574.77,475.05 L573.51,475.10 L572.25,475.16 L570.99,475.21 L569.73,475.28 L568.46,475.37 L567.20,475.51 L565.94,475.69 L564.67,475.89 L563.41,476.09 L562.15,476.29 L560.89,476.47 L559.62,476.61 L558.36,476.73 L557.10,476.85 L555.84,476.96 L554.58,477.08 L553.31,477.19 L552.05,477.30 L550.79,477.41 L549.52,477.51 L548.26,477.62 L547.00,477.72 L545.74,477.82 L544.48,477.91 L543.21,478.01 L541.95,478.10 L540.69,478.19 L539.42,478.28 L538.16,478.36 L536.90,478.45 L535.64,478.53 L534.38,478.60 L533.11,478.68 L531.85,478.75 L530.59,478.82 L529.33,478.88 L528.06,478.95 L526.80,479.01 L525.54,479.06 L524.27,479.12 L523.01,479.17 L521.75,479.21 L520.49,479.26 L519.23,479.30 L517.96,479.34 L516.70,479.38 L515.44,479.42 L514.17,479.46 L512.91,479.50 L511.65,479.54 L510.39,479.58 L509.12,479.61 L507.86,479.65 L506.60,479.68 L505.34,479.71 L504.07,479.73 L502.81,479.75 L501.55,479.77 L500.29,479.79 L499.02,479.80 L497.76,479.81 L496.50,479.81 L495.24,479.80 L493.98,479.77 L492.71,479.73 L491.45,479.66 L490.19,479.59 L488.93,479.50 L487.66,479.39 L486.40,479.27 L485.14,479.14 L483.88,479.00 L482.61,478.85 L481.35,478.68 L480.09,478.51 L478.82,478.33 L477.56,478.15 L476.30,477.96 L475.04,477.76 L473.77,477.56 L472.51,477.35 L471.25,477.14 L469.99,476.91 L468.73,476.64 L467.46,476.33 L466.20,475.98 L464.94,475.59 L463.68,475.17 L462.41,474.71 L461.15,474.21 L459.89,473.62 L458.62,472.89 L457.36,472.05 L456.10,471.13 L454.84,470.16 L453.57,469.18 L452.31,468.21 L451.05,467.28 L449.79,466.34 L448.52,465.32 L447.26,464.27 L446.00,463.22 L444.74,462.22 L443.48,461.29 L442.21,460.48 L440.95,459.82 L439.69,459.23 L438.43,458.66 L437.16,458.17 L435.90,457.82 L434.64,457.69 L433.38,457.74 L432.11,457.89 L430.85,458.12 L429.59,458.41 L428.32,458.75 L427.06,459.37 L425.80,460.39 L424.54,461.66 L423.27,463.02 L422.01,464.66 L420.75,466.65 L420.62,466.86 L420.50,467.06 L420.37,467.27 L420.25,467.48 L420.12,467.69 L419.99,467.89 L419.87,468.09 L419.74,468.30 L419.61,468.50 L419.49,468.69 L419.36,468.89 L419.24,469.08 L419.11,469.27 L418.98,469.46 L418.86,469.64 L418.73,469.82 L418.60,469.99 L418.48,470.16 L418.35,470.32 L418.23,470.48 L418.10,470.64 L417.97,470.79 L417.85,470.95 L417.72,471.11 L417.59,471.26 L417.47,471.42 L417.34,471.58 L417.21,471.74 L417.09,471.89 L416.96,472.05 L416.84,472.21 L416.71,472.36 L416.58,472.52 L416.46,472.67 L416.33,472.82 L416.20,472.97 L416.08,473.12 L415.95,473.27 L415.83,473.42 L415.70,473.56 L415.57,473.70 L415.45,473.84 L415.32,473.98 L415.19,474.11 L415.07,474.24 L414.94,474.37 L414.82,474.50 L414.69,474.62 L414.56,474.74 L414.44,474.86 L414.31,474.97 L414.19,475.08 L414.06,475.19 L413.93,475.29 L413.81,475.39 L413.68,475.48 L413.55,475.57 L413.43,475.65 L413.30,475.73 L413.18,475.81 L413.05,475.88 L412.92,475.96 L412.80,476.03 L412.67,476.11 L412.54,476.18 L412.42,476.25 L412.29,476.33 L412.17,476.39 L412.04,476.46 L411.91,476.52 L411.79,476.58 L411.66,476.64 L411.53,476.69 L411.41,476.74 L411.28,476.78 L411.15,476.81 L411.03,476.84 L410.90,476.86 L410.78,476.87 L410.65,476.88 L410.52,476.87 L410.40,476.87 L410.27,476.86 L410.14,476.85 L410.02,476.83 L409.89,476.81 L409.77,476.79 L409.64,476.77 L409.51,476.74 L409.39,476.72 L409.26,476.69 L409.13,476.65 L409.01,476.62 L408.88,476.58 L408.76,476.55 L408.63,476.51 L408.50,476.47 L408.38,476.43 L408.25,476.39 L408.12,476.34 L408.00,476.30 L407.87,476.24 L407.75,476.18 L407.62,476.11 L407.49,476.03 L407.37,475.94 L407.24,475.85 L407.12,475.75 L406.99,475.65 L406.86,475.54 L406.74,475.42 L406.61,475.30 L406.48,475.18 L406.36,475.05 L406.23,474.92 L406.11,474.78 L405.98,474.64 L405.85,474.50 L405.73,474.36 L405.60,474.21 L405.47,474.06 L405.35,473.89 L405.22,473.72 L405.10,473.53 L404.97,473.33 L404.84,473.13 L404.72,472.91 L404.59,472.69 L404.46,472.45 L404.34,472.21 L404.21,471.96 L404.08,471.70 L403.96,471.44 L403.83,471.17 L403.71,470.89 L403.58,470.60 L403.45,470.31 L403.33,470.02 L403.20,469.72 L403.07,469.41 L402.95,469.10 L402.82,468.77 L402.70,468.44 L402.57,468.08 L402.44,467.72 L402.32,467.34 L402.19,466.96 L402.06,466.56 L401.94,466.14 L401.81,465.72 L401.69,465.29 L401.56,464.84 L401.43,464.38 L401.31,463.92 L401.18,463.44 L401.06,462.95 L400.93,462.45 L400.80,461.94 L400.68,461.42 L400.55,460.89 L400.42,460.34 L400.30,459.77 L400.17,459.18 L400.05,458.57 L399.92,457.94 L399.79,457.29 L399.67,456.62 L399.54,455.93 L399.41,455.22 L399.29,454.50 L399.16,453.76 L399.04,453.01 L398.91,452.24 L398.78,451.45 L398.66,450.66 L398.53,449.85 L398.40,449.03 L398.28,448.19 L398.15,447.35 L398.02,446.50 L397.90,445.62 L397.77,444.73 L397.65,443.81 L397.52,442.87 L397.39,441.91 L397.27,440.93 L397.14,439.92 L397.01,438.90 L396.89,437.85 L396.76,436.79 L396.64,435.70 L396.51,434.60 L396.38,433.48 L396.26,432.34 L396.13,431.19 L396.00,430.01 L395.88,428.83 L395.75,427.62 L395.63,426.41 L395.50,425.18 Z" fill="#00BFC4" fill-opacity="0.22" stroke="none"/>
<path d="M395.50,318.04 L395.63,322.05 L395.75,326.01 L395.88,329.91 L396.00,333.76 L396.13,337.54 L396.26,341.26 L396.38,344.91 L396.51,348.50 L396.64,352.01 L396.76,355.45 L396.89,358.81 L397.01,362.10 L397.14,365.30 L397.27,368.41 L397.39,371.44 L397.52,374.38 L397.65,377.23 L397.77,379.99 L397.90,382.64 L398.02,385.20 L398.15,387.69 L398.28,390.14 L398.40,392.55 L398.53,394.91 L398.66,397.23 L398.78,399.51 L398.91,401.73 L399.04,403.91 L399.16,406.03 L399.29,408.09 L399.41,410.10 L399.54,412.04 L399.67,413.93 L399.79,415.75 L399.92,417.50 L400.05,419.18 L400.17,420.79 L400.30,422.33 L400.42,423.79 L400.55,425.18 L400.68,426.50 L400.80,427.80 L400.93,429.06 L401.06,430.29 L401.18,431.49 L401.31,432.65 L401.43,433.78 L401.56,434.88 L401.69,435.94 L401.81,436.97 L401.94,437.97 L402.06,438.94 L402.19,439.87 L402.32,440.76 L402.44,441.63 L402.57,442.45 L402.70,443.25 L402.82,444.01 L402.95,444.74 L403.07,445.43 L403.20,446.10 L403.33,446.75 L403.45,447.39 L403.58,448.02 L403.71,448.63 L403.83,449.22 L403.96,449.80 L404.08,450.36 L404.21,450.91 L404.34,451.43 L404.46,451.94 L404.59,452.42 L404.72,452.89 L404.84,453.34 L404.97,453.76 L405.10,454.17 L405.22,454.55 L405.35,454.91 L405.47,455.24 L405.60,455.56 L405.73,455.85 L405.85,456.14 L405.98,456.42 L406.11,456.69 L406.23,456.96 L406.36,457.21 L406.48,457.46 L406.61,457.70 L406.74,457.93 L406.86,458.15 L406.99,458.36 L407.12,458.56 L407.24,458.75 L407.37,458.94 L407.49,459.11 L407.62,459.27 L407.75,459.42 L407.87,459.57 L408.00,459.70 L408.12,459.82 L408.25,459.94 L408.38,460.05 L408.50,460.17 L408.63,460.28 L408.76,460.40 L408.88,460.51 L409.01,460.61 L409.13,460.72 L409.26,460.82 L409.39,460.91 L409.51,461.00 L409.64,461.08 L409.77,461.15 L409.89,461.22 L410.02,461.28 L410.14,461.33 L410.27,461.37 L410.40,461.40 L410.52,461.41 L410.65,461.42 L410.78,461.41 L410.90,461.39 L411.03,461.37 L411.15,461.33 L411.28,461.28 L411.41,461.22 L411.53,461.15 L411.66,461.07 L411.79,460.99 L411.91,460.90 L412.04,460.81 L412.17,460.71 L412.29,460.61 L412.42,460.50 L412.54,460.39 L412.67,460.28 L412.80,460.16 L412.92,460.05 L413.05,459.93 L413.18,459.82 L413.30,459.70 L413.43,459.57 L413.55,459.43 L413.68,459.29 L413.81,459.13 L413.93,458.96 L414.06,458.79 L414.19,458.61 L414.31,458.42 L414.44,458.22 L414.56,458.02 L414.69,457.80 L414.82,457.59 L414.94,457.36 L415.07,457.13 L415.19,456.89 L415.32,456.65 L415.45,456.40 L415.57,456.15 L415.70,455.89 L415.83,455.63 L415.95,455.37 L416.08,455.10 L416.20,454.82 L416.33,454.55 L416.46,454.27 L416.58,453.99 L416.71,453.70 L416.84,453.42 L416.96,453.13 L417.09,452.84 L417.21,452.55 L417.34,452.26 L417.47,451.97 L417.59,451.68 L417.72,451.39 L417.85,451.09 L417.97,450.80 L418.10,450.51 L418.23,450.23 L418.35,449.93 L418.48,449.63 L418.60,449.32 L418.73,449.01 L418.86,448.68 L418.98,448.35 L419.11,448.01 L419.24,447.67 L419.36,447.32 L419.49,446.96 L419.61,446.60 L419.74,446.24 L419.87,445.87 L419.99,445.50 L420.12,445.12 L420.25,444.74 L420.37,444.36 L420.50,443.98 L420.62,443.59 L420.75,443.21 L422.01,439.36 L423.27,435.84 L424.54,432.47 L425.80,429.12 L427.06,426.20 L428.32,424.11 L429.59,422.60 L430.85,421.40 L432.11,420.91 L433.38,421.34 L434.64,422.37 L435.90,423.58 L437.16,424.99 L438.43,426.77 L439.69,428.68 L440.95,430.50 L442.21,432.23 L443.48,433.98 L444.74,435.74 L446.00,437.48 L447.26,439.18 L448.52,440.82 L449.79,442.38 L451.05,443.83 L452.31,445.22 L453.57,446.60 L454.84,447.94 L456.10,449.22 L457.36,450.43 L458.62,451.55 L459.89,452.55 L461.15,453.42 L462.41,454.20 L463.68,454.94 L464.94,455.62 L466.20,456.26 L467.46,456.84 L468.73,457.36 L469.99,457.82 L471.25,458.22 L472.51,458.59 L473.77,458.95 L475.04,459.30 L476.30,459.65 L477.56,460.00 L478.82,460.33 L480.09,460.65 L481.35,460.96 L482.61,461.25 L483.88,461.53 L485.14,461.79 L486.40,462.03 L487.66,462.25 L488.93,462.44 L490.19,462.61 L491.45,462.75 L492.71,462.87 L493.98,462.95 L495.24,463.00 L496.50,463.02 L497.76,463.02 L499.02,463.02 L500.29,463.02 L501.55,463.02 L502.81,463.02 L504.07,463.02 L505.34,463.02 L506.60,463.02 L507.86,463.02 L509.12,463.02 L510.39,463.02 L511.65,463.02 L512.91,463.02 L514.17,463.02 L515.44,463.02 L516.70,463.02 L517.96,463.02 L519.23,463.02 L520.49,463.02 L521.75,463.01 L523.01,463.00 L524.27,462.98 L525.54,462.95 L526.80,462.92 L528.06,462.88 L529.33,462.84 L530.59,462.80 L531.85,462.75 L533.11,462.69 L534.38,462.63 L535.64,462.57 L536.90,462.51 L538.16,462.44 L539.42,462.38 L540.69,462.31 L541.95,462.24 L543.21,462.17 L544.48,462.09 L545.74,462.02 L547.00,461.95 L548.26,461.88 L549.52,461.79 L550.79,461.70 L552.05,461.60 L553.31,461.50 L554.58,461.38 L555.84,461.27 L557.10,461.14 L558.36,461.02 L559.62,460.89 L560.89,460.76 L562.15,460.63 L563.41,460.49 L564.67,460.35 L565.94,460.22 L567.20,460.08 L568.46,459.95 L569.73,459.82 L570.99,459.69 L572.25,459.56 L573.51,459.42 L574.77,459.29 L576.04,459.15 L577.30,459.01 L578.56,458.87 L579.83,458.73 L581.09,458.59 L582.35,458.44 L583.61,458.30 L584.88,458.15 L586.14,458.00 L587.40,457.86 L588.66,457.70 L589.92,457.55 L591.19,457.40 L592.45,457.25 L593.71,457.09 L594.98,456.94 L596.24,456.78 L597.50,456.62 L598.76,456.46 L600.02,456.30 L601.29,456.14 L602.55,455.98 L603.81,455.81 L605.08,455.64 L606.34,455.47 L607.60,455.30 L608.86,455.13 L610.12,454.96 L611.39,454.79 L612.65,454.61 L613.91,454.43 L615.17,454.25 L616.44,454.07 L617.70,453.89 L618.96,453.71 L620.23,453.53 L621.49,453.34 L622.75,453.16 L622.75,473.68 L621.49,473.72 L620.23,473.76 L618.96,473.80 L617.70,473.84 L616.44,473.88 L615.17,473.93 L613.91,473.97 L612.65,474.01 L611.39,474.05 L610.12,474.09 L608.86,474.13 L607.60,474.17 L606.34,474.21 L605.08,474.25 L603.81,474.28 L602.55,474.32 L601.29,474.36 L600.02,474.40 L598.76,474.44 L597.50,474.48 L596.24,474.51 L594.98,474.55 L593.71,474.58 L592.45,474.61 L591.19,474.64 L589.92,474.67 L588.66,474.69 L587.40,474.72 L586.14,474.74 L584.88,474.77 L583.61,474.80 L582.35,474.83 L581.09,474.86 L579.83,474.89 L578.56,474.93 L577.30,474.97 L576.04,475.01 L574.77,475.05 L573.51,475.10 L572.25,475.16 L570.99,475.21 L569.73,475.28 L568.46,475.37 L567.20,475.51 L565.94,475.69 L564.67,475.89 L563.41,476.09 L562.15,476.29 L560.89,476.47 L559.62,476.61 L558.36,476.73 L557.10,476.85 L555.84,476.96 L554.58,477.08 L553.31,477.19 L552.05,477.30 L550.79,477.41 L549.52,477.51 L548.26,477.62 L547.00,477.72 L545.74,477.82 L544.48,477.91 L543.21,478.01 L541.95,478.10 L540.69,478.19 L539.42,478.28 L538.16,478.36 L536.90,478.45 L535.64,478.53 L534.38,478.60 L533.11,478.68 L531.85,478.75 L530.59,478.82 L529.33,478.88 L528.06,478.95 L526.80,479.01 L525.54,479.06 L524.27,479.12 L523.01,479.17 L521.75,479.21 L520.49,479.26 L519.23,479.30 L517.96,479.34 L516.70,479.38 L515.44,479.42 L514.17,479.46 L512.91,479.50 L511.65,479.54 L510.39,479.58 L509.12,479.61 L507.86,479.65 L506.60,479.68 L505.34,479.71 L504.07,479.73 L502.81,479.75 L501.55,479.77 L500.29,479.79 L499.02,479.80 L497.76,479.81 L496.50,479.81 L495.24,479.80 L493.98,479.77 L492.71,479.73 L491.45,479.66 L490.19,479.59 L488.93,479.50 L487.66,479.39 L486.40,479.27 L485.14,479.14 L483.88,479.00 L482.61,478.85 L481.35,478.68 L480.09,478.51 L478.82,478.33 L477.56,478.15 L476.30,477.96 L475.04,477.76 L473.77,477.56 L472.51,477.35 L471.25,477.14 L469.99,476.91 L468.73,476.64 L467.46,476.33 L466.20,475.98 L464.94,475.59 L463.68,475.17 L462.41,474.71 L461.15,474.21 L459.89,473.62 L458.62,472.89 L457.36,472.05 L456.10,471.13 L454.84,470.16 L453.57,469.18 L452.31,468.21 L451.05,467.28 L449.79,466.34 L448.52,465.32 L447.26,464.27 L446.00,463.22 L444.74,462.22 L443.48,461.29 L442.21,460.48 L440.95,459.82 L439.69,459.23 L438.43,458.66 L437.16,458.17 L435.90,457.82 L434.64,457.69 L433.38,457.74 L432.11,457.89 L430.85,458.12 L429.59,458.41 L428.32,458.75 L427.06,459.37 L425.80,460.39 L424.54,461.66 L423.27,463.02 L422.01,464.66 L420.75,466.65 L420.62,466.86 L420.50,467.06 L420.37,467.27 L420.25,467.48 L420.12,467.69 L419.99,467.89 L419.87,468.09 L419.74,468.30 L419.61,468.50 L419.49,468.69 L419.36,468.89 L419.24,469.08 L419.11,469.27 L418.98,469.46 L418.86,469.64 L418.73,469.82 L418.60,469.99 L418.48,470.16 L418.35,470.32 L418.23,470.48 L418.10,470.64 L417.97,470.79 L417.85,470.95 L417.72,471.11 L417.59,471.26 L417.47,471.42 L417.34,471.58 L417.21,471.74 L417.09,471.89 L416.96,472.05 L416.84,472.21 L416.71,472.36 L416.58,472.52 L416.46,472.67 L416.33,472.82 L416.20,472.97 L416.08,473.12 L415.95,473.27 L415.83,473.42 L415.70,473.56 L415.57,473.70 L415.45,473.84 L415.32,473.98 L415.19,474.11 L415.07,474.24 L414.94,474.37 L414.82,474.50 L414.69,474.62 L414.56,474.74 L414.44,474.86 L414.31,474.97 L414.19,475.08 L414.06,475.19 L413.93,475.29 L413.81,475.39 L413.68,475.48 L413.55,475.57 L413.43,475.65 L413.30,475.73 L413.18,475.81 L413.05,475.88 L412.92,475.96 L412.80,476.03 L412.67,476.11 L412.54,476.18 L412.42,476.25 L412.29,476.33 L412.17,476.39 L412.04,476.46 L411.91,476.52 L411.79,476.58 L411.66,476.64 L411.53,476.69 L411.41,476.74 L411.28,476.78 L411.15,476.81 L411.03,476.84 L410.90,476.86 L410.78,476.87 L410.65,476.88 L410.52,476.87 L410.40,476.87 L410.27,476.86 L410.14,476.85 L410.02,476.83 L409.89,476.81 L409.77,476.79 L409.64,476.77 L409.51,476.74 L409.39,476.72 L409.26,476.69 L409.13,476.65 L409.01,476.62 L408.88,476.58 L408.76,476.55 L408.63,476.51 L408.50,476.47 L408.38,476.43 L408.25,476.39 L408.12,476.34 L408.00,476.30 L407.87,476.24 L407.75,476.18 L407.62,476.11 L407.49,476.03 L407.37,475.94 L407.24,475.85 L407.12,475.75 L406.99,475.65 L406.86,475.54 L406.74,475.42 L406.61,475.30 L406.48,475.18 L406.36,475.05 L406.23,474.92 L406.11,474.78 L405.98,474.64 L405.85,474.50 L405.73,474.36 L405.60,474.21 L405.47,474.06 L405.35,473.89 L405.22,473.72 L405.10,473.53 L404.97,473.33 L404.84,473.13 L404.72,472.91 L404.59,472.69 L404.46,472.45 L404.34,472.21 L404.21,471.96 L404.08,471.70 L403.96,471.44 L403.83,471.17 L403.71,470.89 L403.58,470.60 L403.45,470.31 L403.33,470.02 L403.20,469.72 L403.07,469.41 L402.95,469.10 L402.82,468.77 L402.70,468.44 L402.57,468.08 L402.44,467.72 L402.32,467.34 L402.19,466.96 L402.06,466.56 L401.94,466.14 L401.81,465.72 L401.69,465.29 L401.56,464.84 L401.43,464.38 L401.31,463.92 L401.18,463.44 L401.06,462.95 L400.93,462.45 L400.80,461.94 L400.68,461.42 L400.55,460.89 L400.42,460.34 L400.30,459.77 L400.17,459.18 L400.05,458.57 L399.92,457.94 L399.79,457.29 L399.67,456.62 L399.54,455.93 L399.41,455.22 L399.29,454.50 L399.16,453.76 L399.04,453.01 L398.91,452.24 L398.78,451.45 L398.66,450.66 L398.53,449.85 L398.40,449.03 L398.28,448.19 L398.15,447.35 L398.02,446.50 L397.90,445.62 L397.77,444.73 L397.65,443.81 L397.52,442.87 L397.39,441.91 L397.27,440.93 L397.14,439.92 L397.01,438.90 L396.89,437.85 L396.76,436.79 L396.64,435.70 L396.51,434.60 L396.38,433.48 L396.26,432.34 L396.13,431.19 L396.00,430.01 L395.88,428.83 L395.75,427.62 L395.63,426.41 L395.50,425.18 Z" fill="none" stroke="#12ABAF" stroke-width="0.85" stroke-linejoin="round"/>
<path d="M395.50,390.53 L395.63,392.58 L395.75,394.61 L395.88,396.61 L396.00,398.58 L396.13,400.51 L396.26,402.42 L396.38,404.30 L396.51,406.14 L396.64,407.95 L396.76,409.72 L396.89,411.45 L397.01,413.14 L397.14,414.80 L397.27,416.41 L397.39,417.99 L397.52,419.52 L397.65,421.00 L397.77,422.44 L397.90,423.83 L398.02,425.18 L398.15,426.48 L398.28,427.77 L398.40,429.04 L398.53,430.29 L398.66,431.51 L398.78,432.71 L398.91,433.88 L399.04,435.03 L399.16,436.15 L399.29,437.24 L399.41,438.31 L399.54,439.35 L399.67,440.35 L399.79,441.33 L399.92,442.27 L400.05,443.19 L400.17,444.06 L400.30,444.91 L400.42,445.72 L400.55,446.50 L400.68,447.24 L400.80,447.97 L400.93,448.68 L401.06,449.37 L401.18,450.05 L401.31,450.70 L401.43,451.34 L401.56,451.97 L401.69,452.57 L401.81,453.16 L401.94,453.73 L402.06,454.29 L402.19,454.83 L402.32,455.36 L402.44,455.87 L402.57,456.37 L402.70,456.85 L402.82,457.32 L402.95,457.78 L403.07,458.22 L403.20,458.65 L403.33,459.08 L403.45,459.49 L403.58,459.90 L403.71,460.30 L403.83,460.69 L403.96,461.08 L404.08,461.45 L404.21,461.81 L404.34,462.17 L404.46,462.51 L404.59,462.85 L404.72,463.17 L404.84,463.49 L404.97,463.79 L405.10,464.09 L405.22,464.37 L405.35,464.64 L405.47,464.90 L405.60,465.15 L405.73,465.39 L405.85,465.63 L405.98,465.87 L406.11,466.11 L406.23,466.34 L406.36,466.56 L406.48,466.79 L406.61,467.00 L406.74,467.21 L406.86,467.41 L406.99,467.61 L407.12,467.79 L407.24,467.97 L407.37,468.14 L407.49,468.29 L407.62,468.44 L407.75,468.57 L407.87,468.69 L408.00,468.79 L408.12,468.88 L408.25,468.96 L408.38,469.05 L408.50,469.13 L408.63,469.20 L408.76,469.28 L408.88,469.36 L409.01,469.43 L409.13,469.50 L409.26,469.56 L409.39,469.62 L409.51,469.68 L409.64,469.73 L409.77,469.78 L409.89,469.82 L410.02,469.86 L410.14,469.89 L410.27,469.91 L410.40,469.93 L410.52,469.94 L410.65,469.95 L410.78,469.94 L410.90,469.93 L411.03,469.91 L411.15,469.89 L411.28,469.85 L411.41,469.81 L411.53,469.77 L411.66,469.72 L411.79,469.67 L411.91,469.61 L412.04,469.54 L412.17,469.48 L412.29,469.41 L412.42,469.34 L412.54,469.26 L412.67,469.19 L412.80,469.11 L412.92,469.04 L413.05,468.96 L413.18,468.88 L413.30,468.80 L413.43,468.71 L413.55,468.62 L413.68,468.51 L413.81,468.40 L413.93,468.28 L414.06,468.16 L414.19,468.03 L414.31,467.89 L414.44,467.75 L414.56,467.60 L414.69,467.45 L414.82,467.29 L414.94,467.13 L415.07,466.96 L415.19,466.79 L415.32,466.61 L415.45,466.43 L415.57,466.25 L415.70,466.06 L415.83,465.87 L415.95,465.68 L416.08,465.48 L416.20,465.28 L416.33,465.08 L416.46,464.88 L416.58,464.67 L416.71,464.46 L416.84,464.26 L416.96,464.05 L417.09,463.84 L417.21,463.63 L417.34,463.42 L417.47,463.21 L417.59,463.00 L417.72,462.78 L417.85,462.58 L417.97,462.37 L418.10,462.16 L418.23,461.95 L418.35,461.74 L418.48,461.53 L418.60,461.30 L418.73,461.08 L418.86,460.84 L418.98,460.60 L419.11,460.36 L419.24,460.11 L419.36,459.86 L419.49,459.60 L419.61,459.34 L419.74,459.07 L419.87,458.81 L419.99,458.54 L420.12,458.27 L420.25,457.99 L420.37,457.72 L420.50,457.44 L420.62,457.17 L420.75,456.89 L422.01,454.18 L423.27,451.82 L424.54,449.75 L425.80,447.77 L427.06,446.09 L428.32,444.90 L429.59,444.04 L430.85,443.31 L432.11,442.85 L433.38,442.79 L434.64,443.08 L435.90,443.59 L437.16,444.23 L438.43,444.90 L439.69,445.67 L440.95,446.65 L442.21,447.77 L443.48,448.96 L444.74,450.16 L446.00,451.29 L447.26,452.42 L448.52,453.63 L449.79,454.88 L451.05,456.17 L452.31,457.46 L453.57,458.73 L454.84,459.95 L456.10,461.11 L457.36,462.18 L458.62,463.14 L459.89,463.96 L461.15,464.62 L462.41,465.15 L463.68,465.63 L464.94,466.07 L466.20,466.46 L467.46,466.82 L468.73,467.16 L469.99,467.49 L471.25,467.81 L472.51,468.15 L473.77,468.50 L475.04,468.85 L476.30,469.21 L477.56,469.57 L478.82,469.93 L480.09,470.29 L481.35,470.64 L482.61,470.98 L483.88,471.30 L485.14,471.61 L486.40,471.90 L487.66,472.17 L488.93,472.41 L490.19,472.62 L491.45,472.80 L492.71,472.95 L493.98,473.06 L495.24,473.12 L496.50,473.14 L497.76,473.14 L499.02,473.14 L500.29,473.13 L501.55,473.11 L502.81,473.10 L504.07,473.07 L505.34,473.05 L506.60,473.02 L507.86,472.99 L509.12,472.96 L510.39,472.93 L511.65,472.89 L512.91,472.85 L514.17,472.81 L515.44,472.77 L516.70,472.73 L517.96,472.68 L519.23,472.64 L520.49,472.59 L521.75,472.53 L523.01,472.46 L524.27,472.38 L525.54,472.28 L526.80,472.18 L528.06,472.07 L529.33,471.96 L530.59,471.84 L531.85,471.71 L533.11,471.59 L534.38,471.47 L535.64,471.35 L536.90,471.23 L538.16,471.12 L539.42,471.01 L540.69,470.91 L541.95,470.81 L543.21,470.72 L544.48,470.62 L545.74,470.53 L547.00,470.43 L548.26,470.34 L549.52,470.24 L550.79,470.15 L552.05,470.05 L553.31,469.95 L554.58,469.85 L555.84,469.74 L557.10,469.64 L558.36,469.53 L559.62,469.41 L560.89,469.29 L562.15,469.15 L563.41,469.01 L564.67,468.86 L565.94,468.72 L567.20,468.58 L568.46,468.46 L569.73,468.35 L570.99,468.25 L572.25,468.16 L573.51,468.07 L574.77,467.99 L576.04,467.91 L577.30,467.83 L578.56,467.76 L579.83,467.69 L581.09,467.62 L582.35,467.55 L583.61,467.49 L584.88,467.42 L586.14,467.36 L587.40,467.29 L588.66,467.23 L589.92,467.17 L591.19,467.10 L592.45,467.03 L593.71,466.97 L594.98,466.90 L596.24,466.82 L597.50,466.75 L598.76,466.67 L600.02,466.60 L601.29,466.52 L602.55,466.44 L603.81,466.36 L605.08,466.28 L606.34,466.21 L607.60,466.13 L608.86,466.05 L610.12,465.97 L611.39,465.89 L612.65,465.81 L613.91,465.73 L615.17,465.64 L616.44,465.56 L617.70,465.48 L618.96,465.40 L620.23,465.32 L621.49,465.23 L622.75,465.15" fill="none" stroke="#12ABAF" stroke-width="1.5" stroke-linejoin="round"/>
<path d="M395.50,321.24 L395.63,325.01 L395.75,328.74 L395.88,332.42 L396.00,336.04 L396.13,339.61 L396.26,343.12 L396.38,346.57 L396.51,349.97 L396.64,353.30 L396.76,356.56 L396.89,359.76 L397.01,362.89 L397.14,365.95 L397.27,368.94 L397.39,371.85 L397.52,374.68 L397.65,377.43 L397.77,380.11 L397.90,382.70 L398.02,385.20 L398.15,387.64 L398.28,390.05 L398.40,392.42 L398.53,394.75 L398.66,397.04 L398.78,399.29 L398.91,401.49 L399.04,403.64 L399.16,405.75 L399.29,407.81 L399.41,409.81 L399.54,411.76 L399.67,413.65 L399.79,415.49 L399.92,417.26 L400.05,418.97 L400.17,420.62 L400.30,422.21 L400.42,423.73 L400.55,425.18 L400.68,426.57 L400.80,427.94 L400.93,429.28 L401.06,430.59 L401.18,431.87 L401.31,433.12 L401.43,434.33 L401.56,435.52 L401.69,436.67 L401.81,437.78 L401.94,438.87 L402.06,439.92 L402.19,440.93 L402.32,441.91 L402.44,442.86 L402.57,443.76 L402.70,444.64 L402.82,445.47 L402.95,446.27 L403.07,447.03 L403.20,447.76 L403.33,448.48 L403.45,449.17 L403.58,449.86 L403.71,450.52 L403.83,451.17 L403.96,451.80 L404.08,452.41 L404.21,453.00 L404.34,453.57 L404.46,454.13 L404.59,454.66 L404.72,455.18 L404.84,455.67 L404.97,456.15 L405.10,456.61 L405.22,457.04 L405.35,457.46 L405.47,457.85 L405.60,458.22 L405.73,458.58 L405.85,458.94 L405.98,459.29 L406.11,459.64 L406.23,459.99 L406.36,460.32 L406.48,460.65 L406.61,460.97 L406.74,461.27 L406.86,461.57 L406.99,461.85 L407.12,462.11 L407.24,462.36 L407.37,462.59 L407.49,462.81 L407.62,463.00 L407.75,463.17 L407.87,463.32 L408.00,463.45 L408.12,463.55 L408.25,463.64 L408.38,463.72 L408.50,463.81 L408.63,463.89 L408.76,463.97 L408.88,464.04 L409.01,464.11 L409.13,464.18 L409.26,464.25 L409.39,464.31 L409.51,464.36 L409.64,464.41 L409.77,464.46 L409.89,464.50 L410.02,464.53 L410.14,464.56 L410.27,464.59 L410.40,464.60 L410.52,464.61 L410.65,464.62 L410.78,464.61 L410.90,464.59 L411.03,464.56 L411.15,464.52 L411.28,464.47 L411.41,464.41 L411.53,464.35 L411.66,464.27 L411.79,464.19 L411.91,464.10 L412.04,464.01 L412.17,463.91 L412.29,463.80 L412.42,463.70 L412.54,463.59 L412.67,463.48 L412.80,463.36 L412.92,463.25 L413.05,463.13 L413.18,463.02 L413.30,462.90 L413.43,462.77 L413.55,462.63 L413.68,462.48 L413.81,462.32 L413.93,462.16 L414.06,461.98 L414.19,461.80 L414.31,461.60 L414.44,461.40 L414.56,461.20 L414.69,460.98 L414.82,460.76 L414.94,460.53 L415.07,460.30 L415.19,460.06 L415.32,459.81 L415.45,459.56 L415.57,459.31 L415.70,459.05 L415.83,458.78 L415.95,458.52 L416.08,458.25 L416.20,457.97 L416.33,457.69 L416.46,457.41 L416.58,457.13 L416.71,456.85 L416.84,456.56 L416.96,456.28 L417.09,455.99 L417.21,455.70 L417.34,455.42 L417.47,455.13 L417.59,454.84 L417.72,454.56 L417.85,454.27 L417.97,453.99 L418.10,453.70 L418.23,453.42 L418.35,453.14 L418.48,452.85 L418.60,452.56 L418.73,452.26 L418.86,451.95 L418.98,451.64 L419.11,451.33 L419.24,451.01 L419.36,450.69 L419.49,450.36 L419.61,450.03 L419.74,449.69 L419.87,449.35 L419.99,449.01 L420.12,448.67 L420.25,448.32 L420.37,447.98 L420.50,447.63 L420.62,447.28 L420.75,446.93 L422.01,443.41 L423.27,440.10 L424.54,436.86 L425.80,433.59 L427.06,430.65 L428.32,428.37 L429.59,426.63 L430.85,425.11 L432.11,423.89 L433.38,423.04 L434.64,422.42 L435.90,422.02 L437.16,422.05 L438.43,422.42 L439.69,422.97 L440.95,423.58 L442.21,424.24 L443.48,425.05 L444.74,425.98 L446.00,426.98 L447.26,428.03 L448.52,429.08 L449.79,430.09 L451.05,431.04 L452.31,431.96 L453.57,432.93 L454.84,433.90 L456.10,434.85 L457.36,435.77 L458.62,436.61 L459.89,437.35 L461.15,437.97 L462.41,438.48 L463.68,438.94 L464.94,439.35 L466.20,439.72 L467.46,440.08 L468.73,440.43 L469.99,440.79 L471.25,441.17 L472.51,441.56 L473.77,441.96 L475.04,442.35 L476.30,442.74 L477.56,443.12 L478.82,443.49 L480.09,443.83 L481.35,444.16 L482.61,444.48 L483.88,444.80 L485.14,445.11 L486.40,445.41 L487.66,445.70 L488.93,445.99 L490.19,446.27 L491.45,446.54 L492.71,446.81 L493.98,447.07 L495.24,447.32 L496.50,447.56 L497.76,447.80 L499.02,448.03 L500.29,448.26 L501.55,448.48 L502.81,448.70 L504.07,448.92 L505.34,449.13 L506.60,449.34 L507.86,449.54 L509.12,449.74 L510.39,449.94 L511.65,450.13 L512.91,450.32 L514.17,450.50 L515.44,450.68 L516.70,450.85 L517.96,451.03 L519.23,451.19 L520.49,451.36 L521.75,451.52 L523.01,451.67 L524.27,451.83 L525.54,451.98 L526.80,452.12 L528.06,452.27 L529.33,452.41 L530.59,452.54 L531.85,452.68 L533.11,452.81 L534.38,452.94 L535.64,453.06 L536.90,453.19 L538.16,453.31 L539.42,453.42 L540.69,453.54 L541.95,453.65 L543.21,453.76 L544.48,453.86 L545.74,453.96 L547.00,454.06 L548.26,454.16 L549.52,454.26 L550.79,454.35 L552.05,454.45 L553.31,454.54 L554.58,454.64 L555.84,454.73 L557.10,454.83 L558.36,454.92 L559.62,455.02 L560.89,455.13 L562.15,455.24 L563.41,455.36 L564.67,455.48 L565.94,455.59 L567.20,455.69 L568.46,455.77 L569.73,455.82 L570.99,455.86 L572.25,455.90 L573.51,455.94 L574.77,455.97 L576.04,456.00 L577.30,456.03 L578.56,456.05 L579.83,456.08 L581.09,456.10 L582.35,456.12 L583.61,456.14 L584.88,456.16 L586.14,456.17 L587.40,456.19 L588.66,456.21 L589.92,456.23 L591.19,456.25 L592.45,456.27 L593.71,456.29 L594.98,456.31 L596.24,456.33 L597.50,456.36 L598.76,456.38 L600.02,456.41 L601.29,456.43 L602.55,456.46 L603.81,456.48 L605.08,456.51 L606.34,456.54 L607.60,456.56 L608.86,456.59 L610.12,456.62 L611.39,456.64 L612.65,456.67 L613.91,456.70 L615.17,456.72 L616.44,456.75 L617.70,456.78 L618.96,456.81 L620.23,456.83 L621.49,456.86 L622.75,456.89 L622.75,469.41 L621.49,469.33 L620.23,469.25 L618.96,469.17 L617.70,469.08 L616.44,469.00 L615.17,468.92 L613.91,468.84 L612.65,468.76 L611.39,468.68 L610.12,468.60 L608.86,468.52 L607.60,468.44 L606.34,468.36 L605.08,468.28 L603.81,468.20 L602.55,468.12 L601.29,468.05 L600.02,467.97 L598.76,467.89 L597.50,467.81 L596.24,467.74 L594.98,467.66 L593.71,467.59 L592.45,467.51 L591.19,467.44 L589.92,467.36 L588.66,467.29 L587.40,467.22 L586.14,467.14 L584.88,467.07 L583.61,467.00 L582.35,466.92 L581.09,466.85 L579.83,466.78 L578.56,466.71 L577.30,466.64 L576.04,466.57 L574.77,466.49 L573.51,466.42 L572.25,466.35 L570.99,466.29 L569.73,466.22 L568.46,466.15 L567.20,466.08 L565.94,466.02 L564.67,465.96 L563.41,465.89 L562.15,465.83 L560.89,465.76 L559.62,465.68 L558.36,465.60 L557.10,465.52 L555.84,465.44 L554.58,465.35 L553.31,465.25 L552.05,465.16 L550.79,465.06 L549.52,464.96 L548.26,464.86 L547.00,464.76 L545.74,464.65 L544.48,464.55 L543.21,464.44 L541.95,464.33 L540.69,464.22 L539.42,464.11 L538.16,464.00 L536.90,463.89 L535.64,463.78 L534.38,463.67 L533.11,463.56 L531.85,463.45 L530.59,463.34 L529.33,463.23 L528.06,463.12 L526.80,463.02 L525.54,462.92 L524.27,462.81 L523.01,462.71 L521.75,462.62 L520.49,462.52 L519.23,462.43 L517.96,462.34 L516.70,462.25 L515.44,462.17 L514.17,462.09 L512.91,462.00 L511.65,461.92 L510.39,461.84 L509.12,461.76 L507.86,461.68 L506.60,461.60 L505.34,461.52 L504.07,461.44 L502.81,461.35 L501.55,461.27 L500.29,461.18 L499.02,461.08 L497.76,460.99 L496.50,460.89 L495.24,460.78 L493.98,460.69 L492.71,460.59 L491.45,460.48 L490.19,460.38 L488.93,460.27 L487.66,460.16 L486.40,460.04 L485.14,459.91 L483.88,459.77 L482.61,459.62 L481.35,459.46 L480.09,459.29 L478.82,459.07 L477.56,458.81 L476.30,458.50 L475.04,458.17 L473.77,457.83 L472.51,457.48 L471.25,457.16 L469.99,456.84 L468.73,456.53 L467.46,456.23 L466.20,455.91 L464.94,455.59 L463.68,455.25 L462.41,454.88 L461.15,454.49 L459.89,454.05 L458.62,453.56 L457.36,453.04 L456.10,452.48 L454.84,451.91 L453.57,451.34 L452.31,450.77 L451.05,450.23 L449.79,449.70 L448.52,449.19 L447.26,448.68 L446.00,448.16 L444.74,447.64 L443.48,447.11 L442.21,446.55 L440.95,445.96 L439.69,445.18 L438.43,444.34 L437.16,443.85 L435.90,443.89 L434.64,444.09 L433.38,444.36 L432.11,444.76 L430.85,445.37 L429.59,446.14 L428.32,447.03 L427.06,448.20 L425.80,449.76 L424.54,451.55 L423.27,453.42 L422.01,455.51 L420.75,457.87 L420.62,458.11 L420.50,458.35 L420.37,458.60 L420.25,458.84 L420.12,459.08 L419.99,459.32 L419.87,459.56 L419.74,459.80 L419.61,460.03 L419.49,460.27 L419.36,460.50 L419.24,460.74 L419.11,460.96 L418.98,461.19 L418.86,461.41 L418.73,461.64 L418.60,461.85 L418.48,462.07 L418.35,462.28 L418.23,462.49 L418.10,462.69 L417.97,462.90 L417.85,463.11 L417.72,463.32 L417.59,463.53 L417.47,463.74 L417.34,463.96 L417.21,464.17 L417.09,464.39 L416.96,464.60 L416.84,464.82 L416.71,465.03 L416.58,465.24 L416.46,465.46 L416.33,465.67 L416.20,465.88 L416.08,466.09 L415.95,466.29 L415.83,466.50 L415.70,466.70 L415.57,466.90 L415.45,467.10 L415.32,467.30 L415.19,467.49 L415.07,467.68 L414.94,467.86 L414.82,468.04 L414.69,468.22 L414.56,468.39 L414.44,468.56 L414.31,468.73 L414.19,468.88 L414.06,469.04 L413.93,469.19 L413.81,469.33 L413.68,469.46 L413.55,469.59 L413.43,469.72 L413.30,469.84 L413.18,469.95 L413.05,470.06 L412.92,470.17 L412.80,470.28 L412.67,470.39 L412.54,470.50 L412.42,470.61 L412.29,470.71 L412.17,470.82 L412.04,470.92 L411.91,471.01 L411.79,471.10 L411.66,471.19 L411.53,471.27 L411.41,471.34 L411.28,471.40 L411.15,471.45 L411.03,471.49 L410.90,471.52 L410.78,471.54 L410.65,471.55 L410.52,471.54 L410.40,471.53 L410.27,471.51 L410.14,471.49 L410.02,471.46 L409.89,471.42 L409.77,471.38 L409.64,471.33 L409.51,471.28 L409.39,471.23 L409.26,471.17 L409.13,471.10 L409.01,471.03 L408.88,470.96 L408.76,470.89 L408.63,470.81 L408.50,470.73 L408.38,470.65 L408.25,470.56 L408.12,470.48 L408.00,470.39 L407.87,470.28 L407.75,470.15 L407.62,470.01 L407.49,469.86 L407.37,469.69 L407.24,469.50 L407.12,469.31 L406.99,469.10 L406.86,468.88 L406.74,468.66 L406.61,468.42 L406.48,468.17 L406.36,467.91 L406.23,467.65 L406.11,467.37 L405.98,467.09 L405.85,466.81 L405.73,466.51 L405.60,466.22 L405.47,465.90 L405.35,465.57 L405.22,465.21 L405.10,464.83 L404.97,464.42 L404.84,464.00 L404.72,463.55 L404.59,463.08 L404.46,462.60 L404.34,462.09 L404.21,461.57 L404.08,461.02 L403.96,460.46 L403.83,459.88 L403.71,459.29 L403.58,458.68 L403.45,458.05 L403.33,457.41 L403.20,456.76 L403.07,456.09 L402.95,455.40 L402.82,454.67 L402.70,453.91 L402.57,453.11 L402.44,452.29 L402.32,451.42 L402.19,450.53 L402.06,449.60 L401.94,448.63 L401.81,447.63 L401.69,446.60 L401.56,445.54 L401.43,444.44 L401.31,443.31 L401.18,442.15 L401.06,440.95 L400.93,439.72 L400.80,438.46 L400.68,437.16 L400.55,435.84 L400.42,434.45 L400.30,432.98 L400.17,431.43 L400.05,429.81 L399.92,428.11 L399.79,426.35 L399.67,424.51 L399.54,422.62 L399.41,420.66 L399.29,418.64 L399.16,416.56 L399.04,414.43 L398.91,412.26 L398.78,410.03 L398.66,407.76 L398.53,405.45 L398.40,403.11 L398.28,400.72 L398.15,398.31 L398.02,395.86 L397.90,393.36 L397.77,390.77 L397.65,388.09 L397.52,385.34 L397.39,382.51 L397.27,379.60 L397.14,376.61 L397.01,373.55 L396.89,370.42 L396.76,367.22 L396.64,363.96 L396.51,360.63 L396.38,357.23 L396.26,353.78 L396.13,350.27 L396.00,346.70 L395.88,343.08 L395.75,339.40 L395.63,335.67 L395.50,331.90 Z" fill="none" stroke="#E96C64" stroke-width="0.85" stroke-linejoin="round"/>
<path d="M395.50,326.57 L395.63,330.34 L395.75,334.07 L395.88,337.75 L396.00,341.37 L396.13,344.94 L396.26,348.45 L396.38,351.90 L396.51,355.30 L396.64,358.63 L396.76,361.89 L396.89,365.09 L397.01,368.22 L397.14,371.28 L397.27,374.27 L397.39,377.18 L397.52,380.01 L397.65,382.76 L397.77,385.44 L397.90,388.03 L398.02,390.53 L398.15,392.97 L398.28,395.38 L398.40,397.76 L398.53,400.10 L398.66,402.39 L398.78,404.65 L398.91,406.85 L399.04,409.02 L399.16,411.13 L399.29,413.19 L399.41,415.20 L399.54,417.15 L399.67,419.05 L399.79,420.88 L399.92,422.65 L400.05,424.36 L400.17,426.00 L400.30,427.58 L400.42,429.08 L400.55,430.50 L400.68,431.88 L400.80,433.23 L400.93,434.54 L401.06,435.83 L401.18,437.08 L401.31,438.30 L401.43,439.49 L401.56,440.65 L401.69,441.77 L401.81,442.86 L401.94,443.92 L402.06,444.94 L402.19,445.93 L402.32,446.88 L402.44,447.80 L402.57,448.68 L402.70,449.52 L402.82,450.33 L402.95,451.10 L403.07,451.82 L403.20,452.53 L403.33,453.22 L403.45,453.89 L403.58,454.54 L403.71,455.18 L403.83,455.80 L403.96,456.40 L404.08,456.99 L404.21,457.56 L404.34,458.10 L404.46,458.63 L404.59,459.14 L404.72,459.63 L404.84,460.11 L404.97,460.56 L405.10,460.98 L405.22,461.39 L405.35,461.78 L405.47,462.14 L405.60,462.49 L405.73,462.81 L405.85,463.14 L405.98,463.46 L406.11,463.77 L406.23,464.08 L406.36,464.38 L406.48,464.68 L406.61,464.96 L406.74,465.23 L406.86,465.49 L406.99,465.74 L407.12,465.98 L407.24,466.20 L407.37,466.41 L407.49,466.60 L407.62,466.77 L407.75,466.93 L407.87,467.07 L408.00,467.18 L408.12,467.28 L408.25,467.37 L408.38,467.45 L408.50,467.54 L408.63,467.62 L408.76,467.69 L408.88,467.77 L409.01,467.84 L409.13,467.91 L409.26,467.97 L409.39,468.03 L409.51,468.09 L409.64,468.14 L409.77,468.19 L409.89,468.23 L410.02,468.26 L410.14,468.29 L410.27,468.32 L410.40,468.33 L410.52,468.34 L410.65,468.35 L410.78,468.34 L410.90,468.32 L411.03,468.29 L411.15,468.25 L411.28,468.20 L411.41,468.14 L411.53,468.07 L411.66,468.00 L411.79,467.91 L411.91,467.83 L412.04,467.73 L412.17,467.63 L412.29,467.53 L412.42,467.42 L412.54,467.31 L412.67,467.20 L412.80,467.09 L412.92,466.97 L413.05,466.86 L413.18,466.75 L413.30,466.63 L413.43,466.51 L413.55,466.38 L413.68,466.24 L413.81,466.09 L413.93,465.94 L414.06,465.78 L414.19,465.61 L414.31,465.44 L414.44,465.26 L414.56,465.07 L414.69,464.88 L414.82,464.68 L414.94,464.48 L415.07,464.27 L415.19,464.06 L415.32,463.84 L415.45,463.62 L415.57,463.39 L415.70,463.17 L415.83,462.93 L415.95,462.70 L416.08,462.46 L416.20,462.22 L416.33,461.98 L416.46,461.73 L416.58,461.48 L416.71,461.24 L416.84,460.99 L416.96,460.73 L417.09,460.48 L417.21,460.23 L417.34,459.98 L417.47,459.72 L417.59,459.47 L417.72,459.22 L417.85,458.97 L417.97,458.72 L418.10,458.47 L418.23,458.22 L418.35,457.97 L418.48,457.71 L418.60,457.45 L418.73,457.18 L418.86,456.91 L418.98,456.63 L419.11,456.35 L419.24,456.06 L419.36,455.77 L419.49,455.48 L419.61,455.18 L419.74,454.88 L419.87,454.58 L419.99,454.27 L420.12,453.96 L420.25,453.65 L420.37,453.34 L420.50,453.03 L420.62,452.72 L420.75,452.40 L422.01,449.30 L423.27,446.50 L424.54,443.89 L425.80,441.35 L427.06,439.11 L428.32,437.43 L429.59,436.16 L430.85,435.06 L432.11,434.21 L433.38,433.70 L434.64,433.42 L435.90,433.23 L437.16,433.18 L438.43,433.51 L439.69,434.12 L440.95,434.77 L442.21,435.38 L443.48,436.06 L444.74,436.79 L446.00,437.55 L447.26,438.32 L448.52,439.11 L449.79,439.88 L451.05,440.63 L452.31,441.38 L453.57,442.16 L454.84,442.95 L456.10,443.73 L457.36,444.49 L458.62,445.21 L459.89,445.89 L461.15,446.50 L462.41,447.05 L463.68,447.56 L464.94,448.05 L466.20,448.51 L467.46,448.96 L468.73,449.39 L469.99,449.81 L471.25,450.23 L472.51,450.64 L473.77,451.06 L475.04,451.46 L476.30,451.85 L477.56,452.22 L478.82,452.57 L480.09,452.89 L481.35,453.19 L482.61,453.48 L483.88,453.77 L485.14,454.04 L486.40,454.31 L487.66,454.56 L488.93,454.81 L490.19,455.05 L491.45,455.27 L492.71,455.49 L493.98,455.70 L495.24,455.90 L496.50,456.09 L497.76,456.27 L499.02,456.45 L500.29,456.63 L501.55,456.80 L502.81,456.96 L504.07,457.13 L505.34,457.29 L506.60,457.44 L507.86,457.59 L509.12,457.74 L510.39,457.88 L511.65,458.01 L512.91,458.14 L514.17,458.26 L515.44,458.38 L516.70,458.49 L517.96,458.60 L519.23,458.70 L520.49,458.79 L521.75,458.88 L523.01,458.96 L524.27,459.04 L525.54,459.11 L526.80,459.18 L528.06,459.25 L529.33,459.31 L530.59,459.38 L531.85,459.44 L533.11,459.50 L534.38,459.56 L535.64,459.63 L536.90,459.69 L538.16,459.75 L539.42,459.82 L540.69,459.89 L541.95,459.96 L543.21,460.02 L544.48,460.09 L545.74,460.16 L547.00,460.22 L548.26,460.29 L549.52,460.36 L550.79,460.42 L552.05,460.49 L553.31,460.55 L554.58,460.62 L555.84,460.69 L557.10,460.75 L558.36,460.82 L559.62,460.89 L560.89,460.95 L562.15,461.02 L563.41,461.09 L564.67,461.16 L565.94,461.23 L567.20,461.30 L568.46,461.36 L569.73,461.42 L570.99,461.48 L572.25,461.53 L573.51,461.58 L574.77,461.64 L576.04,461.69 L577.30,461.74 L578.56,461.78 L579.83,461.83 L581.09,461.88 L582.35,461.92 L583.61,461.97 L584.88,462.02 L586.14,462.06 L587.40,462.11 L588.66,462.15 L589.92,462.20 L591.19,462.24 L592.45,462.29 L593.71,462.34 L594.98,462.39 L596.24,462.43 L597.50,462.49 L598.76,462.54 L600.02,462.59 L601.29,462.64 L602.55,462.69 L603.81,462.74 L605.08,462.79 L606.34,462.85 L607.60,462.90 L608.86,462.95 L610.12,463.01 L611.39,463.06 L612.65,463.11 L613.91,463.17 L615.17,463.22 L616.44,463.28 L617.70,463.33 L618.96,463.39 L620.23,463.44 L621.49,463.50 L622.75,463.55" fill="none" stroke="#E96C64" stroke-width="1.5" stroke-linejoin="round"/>
<rect x="384.3" y="311.3" width="249.3" height="176.0" fill="none" stroke="#858585" stroke-width="1"/>
<line x1="395.50" y1="487.3" x2="395.50" y2="489.90000000000003" stroke="#444" stroke-width="0.9"/>
<text x="395.50" y="496.90" text-anchor="middle" font-size="7.4" fill="#444" stroke="#444" stroke-width="0.15">0</text>
<line x1="458.62" y1="487.3" x2="458.62" y2="489.90000000000003" stroke="#444" stroke-width="0.9"/>
<text x="458.62" y="496.90" text-anchor="middle" font-size="7.4" fill="#444" stroke="#444" stroke-width="0.15">25</text>
<line x1="521.75" y1="487.3" x2="521.75" y2="489.90000000000003" stroke="#444" stroke-width="0.9"/>
<text x="521.75" y="496.90" text-anchor="middle" font-size="7.4" fill="#444" stroke="#444" stroke-width="0.15">50</text>
<line x1="584.88" y1="487.3" x2="584.88" y2="489.90000000000003" stroke="#444" stroke-width="0.9"/>
<text x="584.88" y="496.90" text-anchor="middle" font-size="7.4" fill="#444" stroke="#444" stroke-width="0.15">75</text>
<line x1="381.7" y1="438.50" x2="384.3" y2="438.50" stroke="#444" stroke-width="0.9"/>
<text x="380.1" y="441.00" text-anchor="end" font-size="7.4" fill="#444" stroke="#444" stroke-width="0.15">10</text>
<line x1="381.7" y1="385.20" x2="384.3" y2="385.20" stroke="#444" stroke-width="0.9"/>
<text x="380.1" y="387.70" text-anchor="end" font-size="7.4" fill="#444" stroke="#444" stroke-width="0.15">20</text>
<line x1="381.7" y1="331.90" x2="384.3" y2="331.90" stroke="#444" stroke-width="0.9"/>
<text x="380.1" y="334.40" text-anchor="end" font-size="7.4" fill="#444" stroke="#444" stroke-width="0.15">30</text>
<text x="508.95" y="507.90" text-anchor="middle" font-size="8.7" fill="#000" stroke="#000" stroke-width="0.15">Days</text>
<text transform="translate(361.6,399.90) rotate(-90)" text-anchor="middle" font-size="9.4" fill="#000" stroke="#000" stroke-width="0.15">Neutrophil Count (10<tspan font-size="6.9" dy="-3.8">9</tspan><tspan dy="3.8">/L)</tspan></text>
<text x="646.3" y="388.10" font-size="8.9" fill="#000" stroke="#000" stroke-width="0.15">Sepsis</text>
<rect x="646.6" y="392.40" width="12" height="11.6" fill="#F8766D" fill-opacity="0.28" stroke="#F8766D" stroke-opacity="0.75" stroke-width="0.9"/>
<line x1="646.6" y1="398.20" x2="658.6" y2="398.20" stroke="#F8766D" stroke-width="1.4"/>
<text x="660.8" y="401.20" font-size="7.8" fill="#000" stroke="#000" stroke-width="0.15">Yes</text>
<rect x="646.6" y="404.80" width="12" height="11.6" fill="#00BFC4" fill-opacity="0.28" stroke="#00BFC4" stroke-opacity="0.75" stroke-width="0.9"/>
<line x1="646.6" y1="410.60" x2="658.6" y2="410.60" stroke="#00BFC4" stroke-width="1.4"/>
<text x="660.8" y="413.10" font-size="7.8" fill="#000" stroke="#000" stroke-width="0.15">No</text>
</svg>
</body></html>
